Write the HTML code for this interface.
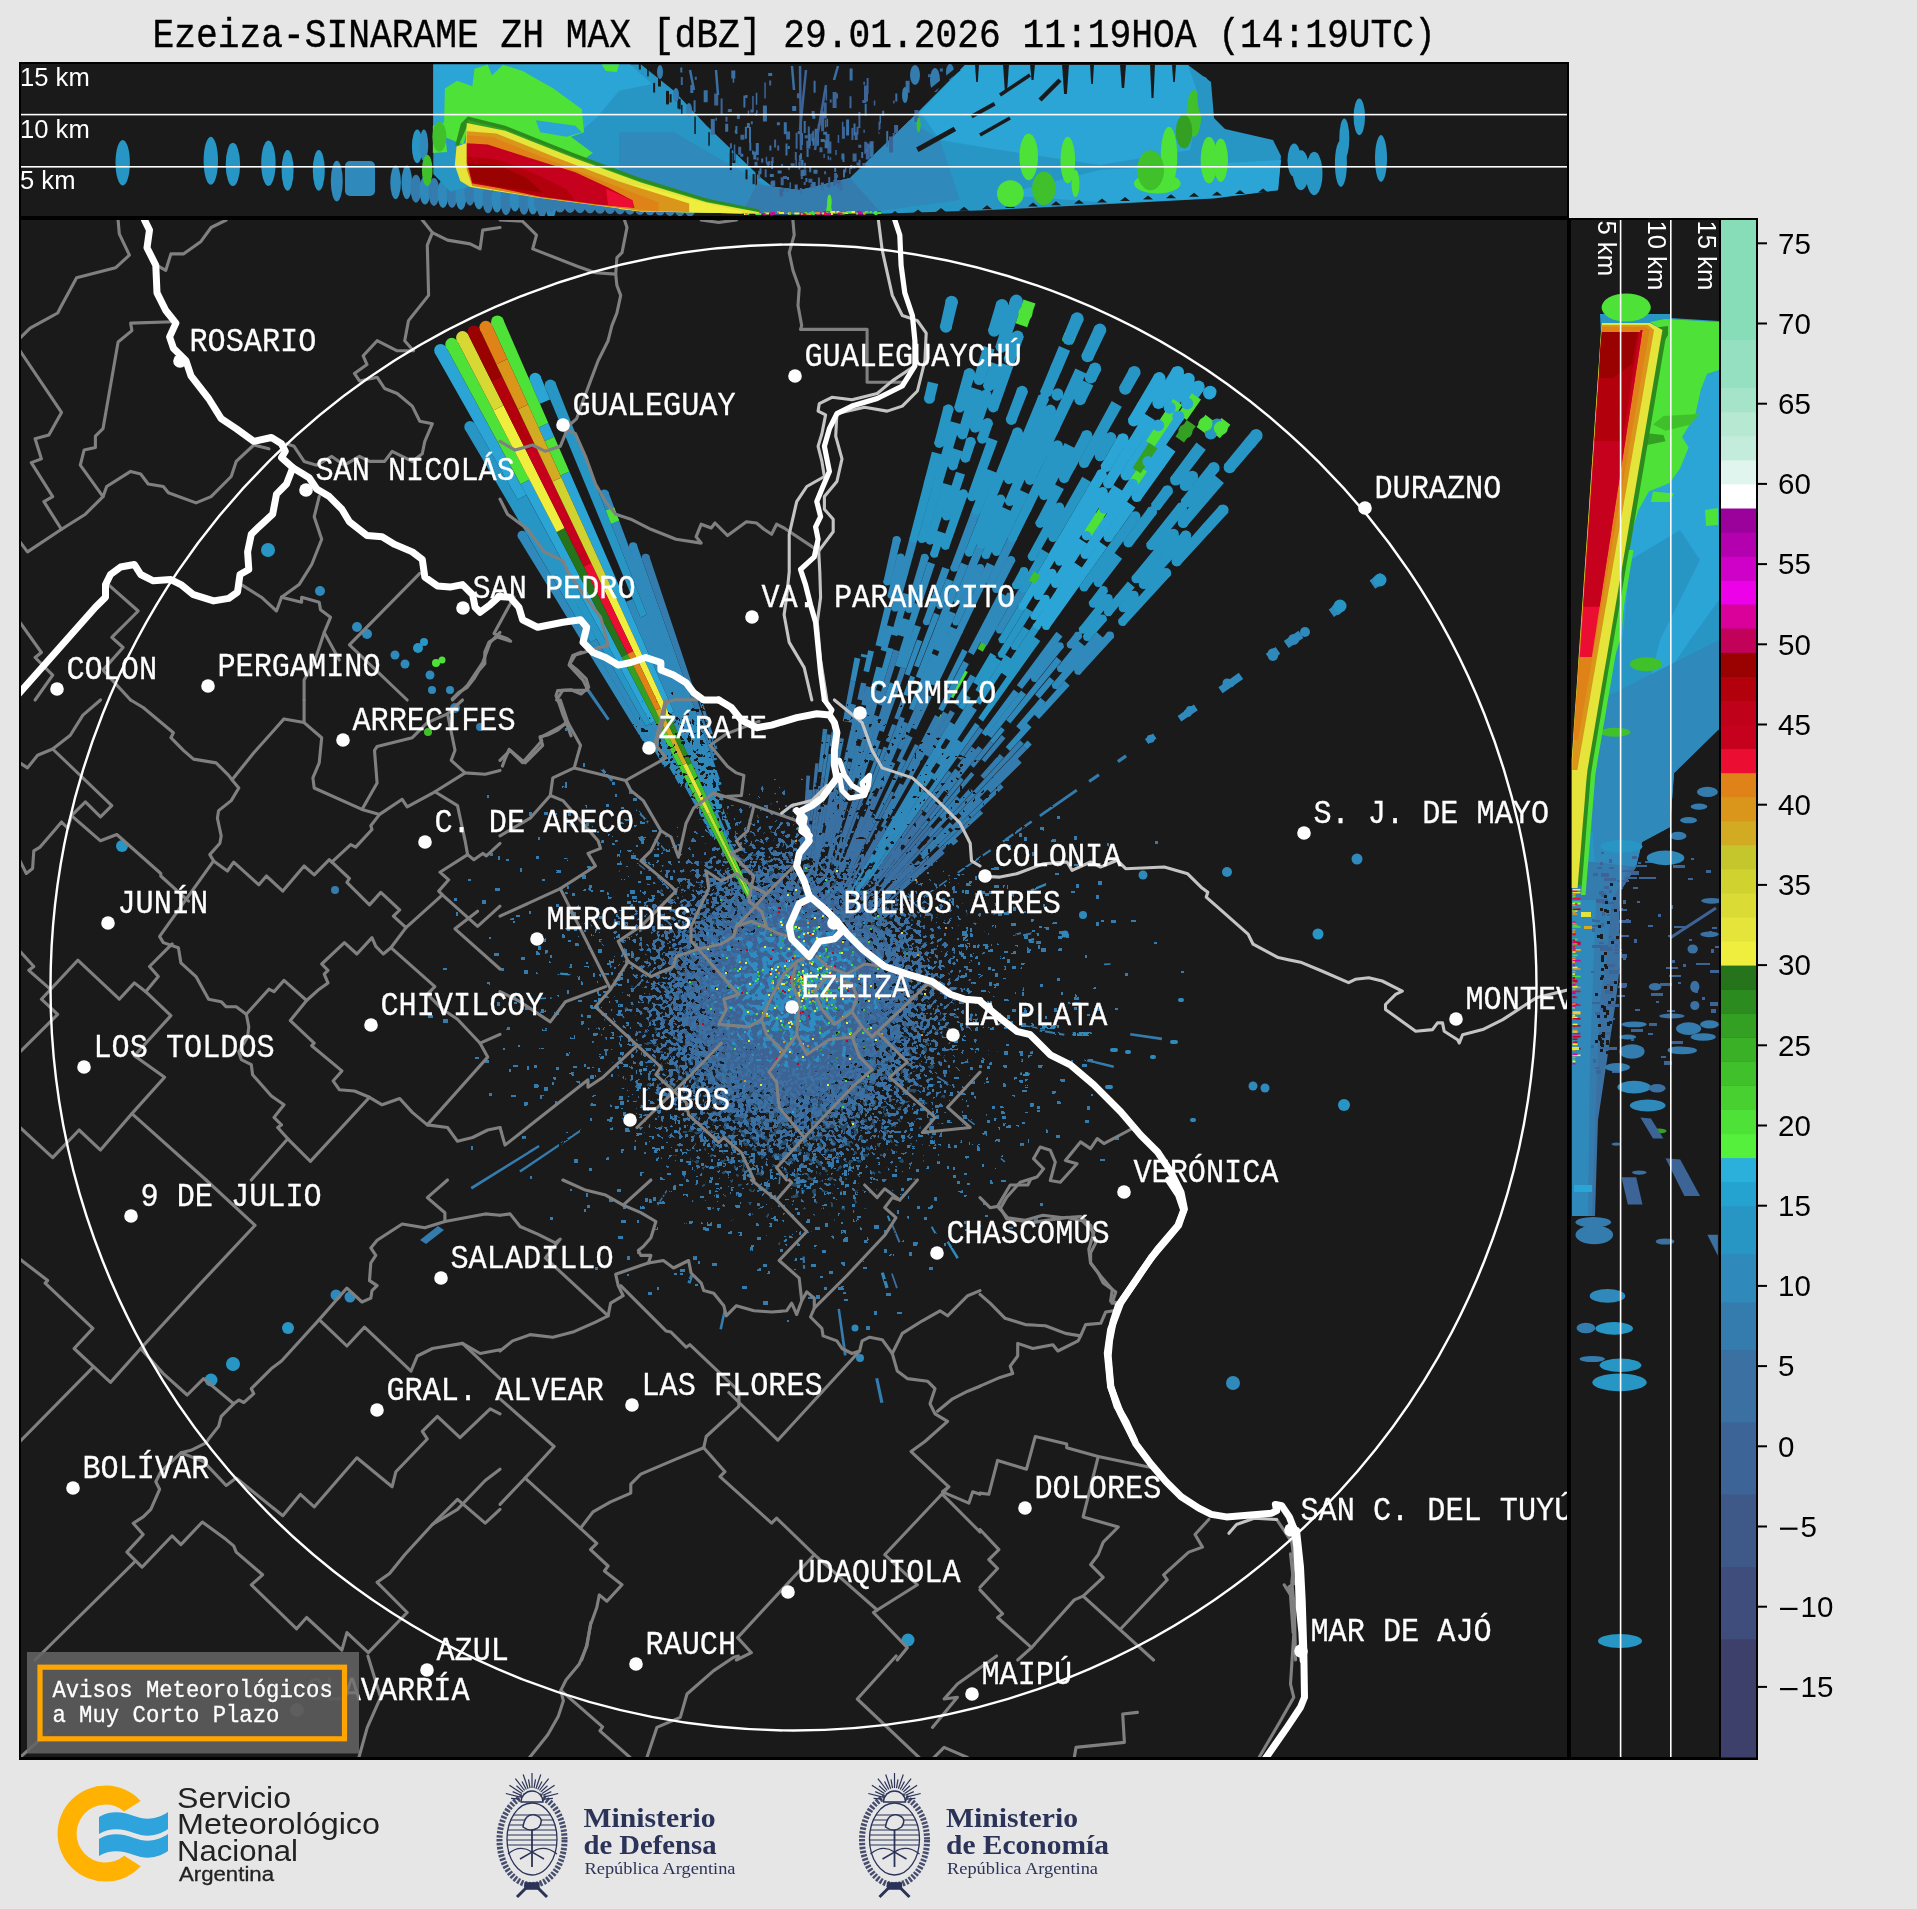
<!DOCTYPE html><html><head><meta charset="utf-8"><title>Radar</title><style>html,body{margin:0;padding:0;background:#e6e6e6}svg{display:block}text{white-space:pre}</style></head><body>
<svg width="1917" height="1909" viewBox="0 0 1917 1909">
<defs>
<clipPath id="cm"><rect x="21" y="220" width="1546" height="1537"/></clipPath>
<clipPath id="ct"><rect x="21" y="64" width="1546" height="152"/></clipPath>
<clipPath id="cr"><rect x="1571" y="220" width="148" height="1537"/></clipPath>

<radialGradient id="rg">
<stop offset="0" stop-color="#fff" stop-opacity="0.97"/><stop offset="0.25" stop-color="#fff" stop-opacity="0.9"/>
<stop offset="0.47" stop-color="#fff" stop-opacity="0.66"/><stop offset="0.69" stop-color="#fff" stop-opacity="0.42"/>
<stop offset="0.9" stop-color="#fff" stop-opacity="0.2"/><stop offset="1" stop-color="#fff" stop-opacity="0.04"/></radialGradient>
<radialGradient id="rh2">
<stop offset="0" stop-color="#fff" stop-opacity="0"/><stop offset="0.2" stop-color="#fff" stop-opacity="0.1"/>
<stop offset="0.5" stop-color="#fff" stop-opacity="0.3"/><stop offset="0.8" stop-color="#fff" stop-opacity="0.33"/>
<stop offset="1" stop-color="#fff" stop-opacity="0"/></radialGradient>
<radialGradient id="rh">
<stop offset="0" stop-color="#fff" stop-opacity="0"/><stop offset="0.18" stop-color="#fff" stop-opacity="0.12"/>
<stop offset="0.42" stop-color="#fff" stop-opacity="0.36"/><stop offset="0.65" stop-color="#fff" stop-opacity="0.5"/>
<stop offset="0.85" stop-color="#fff" stop-opacity="0.4"/><stop offset="1" stop-color="#fff" stop-opacity="0"/></radialGradient>
<filter id="sp1" x="0" y="0" width="100%" height="100%" color-interpolation-filters="sRGB"><feTurbulence type="fractalNoise" baseFrequency="0.23" numOctaves="1" seed="7" result="n"/><feColorMatrix in="n" type="matrix" values="0 0 0 0 0  0 0 0 0 0  0 0 0 0 0  1.6 0 0 0 -0.3" result="na"/><feComposite in="SourceGraphic" in2="na" operator="arithmetic" k1="0" k2="1" k3="1" k4="-1.0" result="s"/><feColorMatrix in="s" type="matrix" values="0 0 0 0 0.231  0 0 0 0 0.439  0 0 0 0 0.639  0 0 0 40 -2"/></filter><filter id="sp2" x="0" y="0" width="100%" height="100%" color-interpolation-filters="sRGB"><feTurbulence type="fractalNoise" baseFrequency="0.19" numOctaves="1" seed="23" result="n"/><feColorMatrix in="n" type="matrix" values="0 0 0 0 0  0 0 0 0 0  0 0 0 0 0  0 1.6 0 0 -0.3" result="na"/><feComposite in="SourceGraphic" in2="na" operator="arithmetic" k1="0" k2="1" k3="1" k4="-1.34" result="s"/><feColorMatrix in="s" type="matrix" values="0 0 0 0 0.184  0 0 0 0 0.549  0 0 0 0 0.753  0 0 0 40 -2"/></filter><filter id="sp3" x="0" y="0" width="100%" height="100%" color-interpolation-filters="sRGB"><feTurbulence type="fractalNoise" baseFrequency="0.26" numOctaves="1" seed="51" result="n"/><feColorMatrix in="n" type="matrix" values="0 0 0 0 0  0 0 0 0 0  0 0 0 0 0  0 0 1.6 0 -0.3" result="na"/><feComposite in="SourceGraphic" in2="na" operator="arithmetic" k1="0" k2="1" k3="1" k4="-1.2" result="s"/><feColorMatrix in="s" type="matrix" values="0 0 0 0 0.239  0 0 0 0 0.384  0 0 0 0 0.580  0 0 0 40 -2"/></filter><filter id="sp4" x="0" y="0" width="100%" height="100%" color-interpolation-filters="sRGB"><feTurbulence type="fractalNoise" baseFrequency="0.24" numOctaves="1" seed="77" result="n"/><feColorMatrix in="n" type="matrix" values="0 0 0 0 0  0 0 0 0 0  0 0 0 0 0  1.6 0 0 0 -0.3" result="na"/><feComposite in="SourceGraphic" in2="na" operator="arithmetic" k1="0" k2="1" k3="1" k4="-1.06" result="s"/><feColorMatrix in="s" type="matrix" values="0 0 0 0 0.102  0 0 0 0 0.102  0 0 0 0 0.102  0 0 0 40 -2"/></filter><filter id="sp5" x="0" y="0" width="100%" height="100%" color-interpolation-filters="sRGB"><feTurbulence type="fractalNoise" baseFrequency="0.17" numOctaves="1" seed="91" result="n"/><feColorMatrix in="n" type="matrix" values="0 0 0 0 0  0 0 0 0 0  0 0 0 0 0  0 1.6 0 0 -0.3" result="na"/><feComposite in="SourceGraphic" in2="na" operator="arithmetic" k1="0" k2="1" k3="1" k4="-1.25" result="s"/><feColorMatrix in="s" type="matrix" values="0 0 0 0 0.208  0 0 0 0 0.486  0 0 0 0 0.682  0 0 0 40 -2"/></filter><filter id="sp6" x="0" y="0" width="100%" height="100%" color-interpolation-filters="sRGB"><feTurbulence type="fractalNoise" baseFrequency="0.22" numOctaves="1" seed="133" result="n"/><feColorMatrix in="n" type="matrix" values="0 0 0 0 0  0 0 0 0 0  0 0 0 0 0  0 0 1.6 0 -0.3" result="na"/><feComposite in="SourceGraphic" in2="na" operator="arithmetic" k1="0" k2="1" k3="1" k4="-1.06" result="s"/><feColorMatrix in="s" type="matrix" values="0 0 0 0 0.102  0 0 0 0 0.102  0 0 0 0 0.102  0 0 0 40 -2"/></filter>
</defs>
<rect width="1917" height="1909" fill="#e6e6e6"/>
<g opacity="0.9999">
<rect x="19" y="62" width="1550" height="1698" fill="#000"/>
<rect x="1569" y="218" width="189" height="1542" fill="#000"/>
<rect x="21" y="64" width="1546" height="152" fill="#1a1a1a"/>
<rect x="21" y="220" width="1546" height="1537" fill="#1a1a1a"/>
<rect x="1571" y="220" width="148" height="1537" fill="#1a1a1a"/>
<g opacity="0.999"><text transform="translate(152.4,47.0) scale(0.9103,1)" font-family="Liberation Mono,monospace" font-size="39.84" fill="#000" stroke="#000" stroke-width="0.40" text-anchor="start">Ezeiza-SINARAME ZH MAX [dBZ] 29.01.2026 11:19HOA (14:19UTC)</text></g>
<g clip-path="url(#ct)">
<ellipse cx="122.7" cy="162.7" rx="7.2" ry="22.8" fill="#2896c5"/>
<ellipse cx="210.8" cy="160.8" rx="7.2" ry="24.0" fill="#2896c5"/>
<ellipse cx="232.9" cy="164.4" rx="7.2" ry="21.6" fill="#2896c5"/>
<ellipse cx="268.4" cy="163.2" rx="7.2" ry="22.8" fill="#2896c5"/>
<ellipse cx="287.6" cy="170.4" rx="6.0" ry="20.4" fill="#2896c5"/>
<ellipse cx="318.8" cy="170.4" rx="6.0" ry="20.4" fill="#2896c5"/>
<ellipse cx="336.8" cy="181.2" rx="6.0" ry="20.4" fill="#2f89bb"/>
<ellipse cx="395.6" cy="182.4" rx="5.3" ry="16.8" fill="#2f89bb"/>
<ellipse cx="406.8" cy="182.4" rx="5.3" ry="16.8" fill="#2f89bb"/>
<ellipse cx="417.2" cy="146.4" rx="5.3" ry="16.8" fill="#2896c5"/>
<ellipse cx="423.9" cy="145.2" rx="4.3" ry="15.6" fill="#2f89bb"/>
<rect x="345" y="161" width="30" height="35" rx="5" fill="#2f89bb"/>
<ellipse cx="416.0" cy="188.7" rx="5.5" ry="14.0" fill="#357cae"/>
<ellipse cx="425.0" cy="190.5" rx="5.5" ry="14.0" fill="#2f89bb"/>
<ellipse cx="434.0" cy="191.9" rx="5.5" ry="14.0" fill="#357cae"/>
<ellipse cx="443.0" cy="193.9" rx="5.5" ry="14.0" fill="#2f89bb"/>
<ellipse cx="452.0" cy="193.8" rx="5.5" ry="14.0" fill="#357cae"/>
<ellipse cx="461.0" cy="195.9" rx="5.5" ry="14.0" fill="#2f89bb"/>
<ellipse cx="470.0" cy="191.7" rx="5.5" ry="14.0" fill="#357cae"/>
<ellipse cx="479.0" cy="195.4" rx="5.5" ry="14.0" fill="#2f89bb"/>
<ellipse cx="488.0" cy="199.3" rx="5.5" ry="14.0" fill="#357cae"/>
<ellipse cx="497.0" cy="198.6" rx="5.5" ry="14.0" fill="#2f89bb"/>
<ellipse cx="506.0" cy="201.2" rx="5.5" ry="14.0" fill="#357cae"/>
<ellipse cx="515.0" cy="197.6" rx="5.5" ry="14.0" fill="#2f89bb"/>
<ellipse cx="524.0" cy="200.8" rx="5.5" ry="14.0" fill="#357cae"/>
<ellipse cx="533.0" cy="200.5" rx="5.5" ry="14.0" fill="#2f89bb"/>
<ellipse cx="542.0" cy="203.4" rx="5.5" ry="14.0" fill="#357cae"/>
<ellipse cx="551.0" cy="204.6" rx="5.5" ry="14.0" fill="#2f89bb"/>
<ellipse cx="540.0" cy="203.0" rx="6.0" ry="9.0" fill="#357cae"/>
<ellipse cx="550.0" cy="203.3" rx="6.0" ry="9.0" fill="#357cae"/>
<ellipse cx="560.0" cy="203.6" rx="6.0" ry="9.0" fill="#357cae"/>
<ellipse cx="570.0" cy="203.9" rx="6.0" ry="9.0" fill="#357cae"/>
<ellipse cx="580.0" cy="204.2" rx="6.0" ry="9.0" fill="#357cae"/>
<ellipse cx="590.0" cy="204.5" rx="6.0" ry="9.0" fill="#357cae"/>
<ellipse cx="600.0" cy="204.8" rx="6.0" ry="9.0" fill="#357cae"/>
<ellipse cx="610.0" cy="205.1" rx="6.0" ry="9.0" fill="#357cae"/>
<ellipse cx="620.0" cy="205.4" rx="6.0" ry="9.0" fill="#357cae"/>
<ellipse cx="630.0" cy="205.7" rx="6.0" ry="9.0" fill="#357cae"/>
<ellipse cx="640.0" cy="206.0" rx="6.0" ry="9.0" fill="#357cae"/>
<ellipse cx="650.0" cy="206.3" rx="6.0" ry="9.0" fill="#357cae"/>
<ellipse cx="660.0" cy="206.6" rx="6.0" ry="9.0" fill="#357cae"/>
<ellipse cx="670.0" cy="206.9" rx="6.0" ry="9.0" fill="#357cae"/>
<ellipse cx="680.0" cy="207.2" rx="6.0" ry="9.0" fill="#357cae"/>
<ellipse cx="690.0" cy="207.5" rx="6.0" ry="9.0" fill="#357cae"/>
<polygon points="433.3,64.4 641.0,64.4 673.9,90.7 706.7,125.7 761.5,178.3 790.0,200.2 816.3,209.0 820.0,213.4 741.8,213.4 641.0,211.2 597.2,205.0 540.2,197.6 470.1,186.6 450.4,191.5 433.3,173.9" fill="#2896c5"/>
<polygon points="433.3,64.4 630.1,64.4 652.0,84.1 619.1,90.7 597.2,117.0 579.7,132.3 433.3,132.3" fill="#2aa5d6"/>
<polygon points="619.1,132.3 673.9,132.3 761.5,182.7 772.5,211.2 741.8,213.4 684.8,200.2 619.1,173.9" fill="#2f89bb"/>
<rect x="638.8" y="61.6" width="2.0" height="7.9" fill="#1a1a1a"/>
<rect x="733.5" y="150.2" width="1.5" height="7.6" fill="#1a1a1a"/>
<rect x="755.6" y="168.9" width="1.5" height="16.5" fill="#1a1a1a"/>
<rect x="666.0" y="90.9" width="3.0" height="13.5" fill="#1a1a1a"/>
<rect x="653.1" y="82.9" width="2.0" height="9.6" fill="#1a1a1a"/>
<rect x="681.0" y="104.9" width="1.5" height="10.0" fill="#1a1a1a"/>
<rect x="732.4" y="152.9" width="3.0" height="10.1" fill="#1a1a1a"/>
<rect x="669.6" y="94.2" width="2.0" height="8.2" fill="#1a1a1a"/>
<rect x="694.3" y="116.6" width="1.5" height="17.4" fill="#1a1a1a"/>
<rect x="678.7" y="98.9" width="2.0" height="10.4" fill="#1a1a1a"/>
<rect x="708.3" y="132.2" width="1.5" height="13.5" fill="#1a1a1a"/>
<rect x="752.6" y="174.1" width="2.0" height="10.1" fill="#1a1a1a"/>
<rect x="677.4" y="95.4" width="1.5" height="13.1" fill="#1a1a1a"/>
<rect x="729.8" y="152.8" width="2.0" height="17.3" fill="#1a1a1a"/>
<rect x="647.2" y="66.3" width="1.5" height="10.1" fill="#1a1a1a"/>
<rect x="745.5" y="169.6" width="2.0" height="9.7" fill="#1a1a1a"/>
<rect x="729.8" y="149.0" width="2.0" height="18.0" fill="#1a1a1a"/>
<rect x="658.0" y="69.4" width="3.0" height="17.1" fill="#1a1a1a"/>
<ellipse cx="427.2" cy="170.4" rx="5.3" ry="15.6" fill="#40c12b"/>
<polygon points="443.8,134.5 444.9,88.5 457.0,80.8 472.3,86.3 474.5,68.8 487.6,64.4 492.0,75.3 503.0,64.8 522.7,71.0 553.4,88.5 581.9,109.3 584.0,132.3 570.9,136.7 592.8,153.1 581.9,160.8 540.2,140.0 505.2,128.4 470.1,118.7 463.5,144.4 443.8,136.7" fill="#4ee137"/>
<polygon points="432.9,125.7 443.8,122.4 447.1,152.0 432.9,153.1" fill="#4ee137"/>
<ellipse cx="439.4" cy="136.7" rx="7.0" ry="15.0" fill="#40c12b"/>
<polygon points="601.6,64.4 619.1,64.4 616.9,72.1 606.0,71.0" fill="#4ee137"/>
<polygon points="535.8,120.3 575.3,125.7 581.9,132.3 566.5,136.7 540.2,132.3" fill="#2aa5d6"/>
<polygon points="772.0,214.5 880.0,213.8 985.0,210.3 1114.0,203.8 1214.0,198.6 1278.0,190.2 1281.0,156.0 1273.0,140.0 1225.0,129.0 1214.0,118.0 1211.0,82.0 1188.0,65.0 965.0,65.0 910.0,120.0 850.0,178.0 800.0,190.0 765.0,186.0" fill="#2896c5"/>
<polygon points="965.0,65.0 1188.0,65.0 1200.0,100.0 1190.0,150.0 1100.0,165.0 1000.0,150.0 940.0,140.0 920.0,112.0" fill="#2aa5d6"/>
<polygon points="765.0,186.0 800.0,190.0 850.0,178.0 910.0,120.0 940.0,140.0 960.0,200.0 880.0,211.0 772.0,214.0" fill="#2f89bb"/>
<polygon points="1100.0,170.0 1281.0,160.0 1278.0,190.0 1214.0,198.0 1114.0,203.0 1000.0,195.0" fill="#2aa5d6"/>
<polygon points="742.0,213.0 757.0,184.0 770.0,186.0 800.0,190.0 850.0,178.0 880.0,212.0" fill="#357cae"/>
<path d="M858.5 159.7h2v8h-2zM798.4 161.5h2v8h-2zM812.3 130.7h2v12h-2zM821.5 185.5h2v3h-2zM810.5 183.8h2v4h-2zM826.7 184.6h4v3h-4zM827.4 141.5h4v12h-4zM795.4 159.5h1.5v8h-1.5zM808.4 178.7h4v4h-4zM765.7 156.8h1.5v6h-1.5zM853.4 165.4h2v3h-2zM829.7 157.3h1.5v3h-1.5zM750.8 121.2h2v3h-2zM864.0 85.4h4v16h-4zM803.7 181.9h2v3h-2zM768.4 160.9h2v4h-2zM769.2 80.4h2v5h-2zM862.3 100.0h4v3h-4zM789.5 182.3h1.5v6h-1.5zM800.8 175.1h2v4h-2zM844.8 166.5h1.5v6h-1.5zM790.6 163.2h4v3h-4zM863.4 129.8h1.5v3h-1.5zM820.4 113.6h3v12h-3zM823.4 154.1h1.5v4h-1.5zM821.1 115.3h3v16h-3zM725.5 116.7h2v5h-2zM680.8 77.0h2v8h-2zM820.3 111.3h4v8h-4zM756.6 157.5h2v3h-2zM766.2 161.7h4v3h-4zM824.8 119.4h1.5v8h-1.5zM835.3 150.0h1.5v5h-1.5zM804.7 135.3h3v3h-3zM856.5 126.8h2v8h-2zM841.9 121.7h1.5v12h-1.5zM817.9 177.4h2v8h-2zM866.6 77.9h2v16h-2zM750.5 109.6h3v3h-3zM858.4 112.0h2v16h-2zM849.5 96.2h2v12h-2zM727.8 108.9h4v3h-4zM893.1 100.5h1.5v3h-1.5zM854.7 131.9h3v8h-3zM720.6 98.5h2v16h-2zM832.6 92.1h4v16h-4zM914.4 110.1h4v12h-4zM894.1 125.0h4v8h-4zM782.4 188.5h2v3h-2zM944.1 79.6h2v3h-2zM738.2 146.7h3v8h-3zM878.5 121.7h2v12h-2zM758.2 170.7h2v8h-2zM747.7 110.4h1.5v5h-1.5zM833.3 180.1h2v6h-2zM796.9 93.3h4v5h-4zM829.7 99.6h2v3h-2zM802.4 169.5h4v6h-4zM795.6 132.7h2v16h-2zM825.6 88.5h1.5v12h-1.5zM733.8 144.6h1.5v16h-1.5zM774.1 139.4h2v8h-2zM828.2 176.9h2v8h-2zM823.7 102.4h3v16h-3zM851.4 128.0h2v12h-2zM764.3 82.6h1.5v16h-1.5zM714.2 93.5h4v12h-4zM803.9 162.8h2v6h-2zM811.6 111.0h3v5h-3zM798.9 155.0h2v6h-2zM752.2 96.1h1.5v16h-1.5zM777.2 145.5h2v5h-2zM889.0 136.5h4v16h-4zM836.5 93.5h1.5v5h-1.5zM807.8 126.6h2v16h-2zM779.7 188.6h3v8h-3zM783.0 176.1h4v3h-4zM862.4 162.9h3v3h-3zM819.5 147.2h3v5h-3zM858.3 144.7h3v3h-3zM715.5 117.7h1.5v3h-1.5zM764.7 169.2h2v8h-2zM865.8 143.6h4v16h-4zM825.5 134.0h4v12h-4zM729.9 143.2h2v5h-2zM767.2 162.4h2v4h-2zM754.5 161.7h3v4h-3zM928.0 74.3h4v3h-4zM786.1 131.6h4v8h-4zM824.1 171.2h2v3h-2zM852.6 153.4h4v8h-4zM856.5 162.5h4v3h-4zM892.7 132.9h2v3h-2zM836.8 180.0h4v6h-4zM816.0 133.8h3v12h-3zM939.9 68.4h3v3h-3zM864.2 141.7h3v12h-3zM806.2 140.7h4v8h-4zM827.6 155.8h1.5v4h-1.5zM794.8 152.0h2v8h-2zM736.9 114.0h3v5h-3zM834.1 179.3h3v4h-3zM931.8 80.8h2v8h-2zM837.7 134.9h1.5v8h-1.5zM740.4 134.8h4v5h-4zM780.7 177.2h3v8h-3zM694.8 76.8h2v3h-2zM873.8 100.4h1.5v5h-1.5zM834.1 173.1h3v8h-3zM836.1 174.8h2v3h-2zM849.1 168.1h1.5v6h-1.5zM823.8 106.5h1.5v8h-1.5zM781.1 163.9h2v3h-2zM771.6 157.1h2v6h-2zM859.2 166.1h2v3h-2zM841.9 126.8h3v12h-3z" fill="#3d6496"/>
<path d="M850.3 165.0h2v4h-2zM811.3 133.1h1.5v8h-1.5zM806.6 148.9h2v8h-2zM811.7 182.0h4v6h-4zM787.8 145.9h2v3h-2zM801.0 133.1h2v12h-2zM800.0 153.2h2v6h-2zM743.4 95.6h2v12h-2zM725.2 123.8h3v8h-3zM842.5 156.1h2v6h-2zM905.6 80.7h4v12h-4zM853.5 123.5h2v12h-2zM732.7 74.7h1.5v8h-1.5zM768.2 73.1h4v3h-4zM800.5 159.8h3v6h-3zM866.0 148.9h2v3h-2zM746.9 123.0h3v5h-3zM703.7 90.3h4v12h-4zM868.5 144.7h2v3h-2zM846.1 119.6h3v16h-3zM813.6 80.7h2v12h-2zM735.4 126.1h2v8h-2zM788.2 166.9h1.5v3h-1.5zM762.9 105.6h4v16h-4zM761.2 158.6h2v4h-2zM826.6 118.7h1.5v8h-1.5zM770.5 181.7h2v4h-2zM849.6 68.5h3v12h-3zM771.2 180.5h4v6h-4zM787.0 177.1h2v3h-2zM812.3 113.7h3v5h-3zM776.9 122.2h3v3h-3zM690.3 85.1h3v8h-3zM800.6 170.1h4v6h-4zM817.7 124.3h2v5h-2zM869.6 141.2h4v16h-4zM734.8 130.1h2v3h-2zM693.6 100.3h2v12h-2zM879.5 115.3h1.5v8h-1.5zM752.0 150.4h1.5v4h-1.5zM814.7 128.7h4v16h-4zM753.3 151.4h3v8h-3zM749.3 142.7h2v8h-2zM755.8 143.1h3v12h-3zM864.7 103.7h2v12h-2zM769.4 145.5h2v5h-2zM843.0 169.6h2v8h-2zM813.5 169.7h4v4h-4zM839.4 182.9h3v8h-3zM863.4 81.7h1.5v3h-1.5zM786.1 188.7h2v4h-2zM749.0 127.0h2v16h-2zM740.3 153.8h3v3h-3zM841.4 153.5h3v6h-3zM805.4 177.9h2v4h-2zM755.5 113.1h1.5v3h-1.5zM769.8 174.1h4v3h-4zM895.3 93.5h2v8h-2zM755.8 92.7h1.5v12h-1.5zM771.1 161.0h2v8h-2zM824.6 140.2h4v8h-4zM759.5 168.2h2v6h-2zM803.7 120.9h2v12h-2zM882.2 110.8h2v5h-2zM792.2 106.0h4v5h-4zM783.8 122.3h3v12h-3zM745.5 94.9h2v3h-2zM744.9 126.7h2v12h-2zM710.8 119.1h4v16h-4zM886.2 131.1h2v16h-2zM809.2 166.2h2v6h-2zM808.8 134.0h2v12h-2zM785.5 143.6h2v12h-2zM797.8 130.9h3v3h-3zM812.5 137.7h2v8h-2zM820.9 182.5h3v8h-3zM820.7 138.9h4v3h-4zM799.8 187.9h2v6h-2zM756.1 110.2h1.5v3h-1.5zM837.2 183.9h2v4h-2zM777.6 170.5h4v3h-4zM794.7 184.4h3v6h-3zM731.3 70.4h4v8h-4zM834.2 168.0h2v4h-2zM746.9 156.8h1.5v8h-1.5zM823.2 131.8h4v3h-4zM680.3 67.6h2v5h-2zM861.2 152.0h2v6h-2z" fill="#3b70a3"/>
<line x1="800.0" y1="66.0" x2="801.0" y2="150.0" stroke="#3d6496" stroke-width="2.5"/>
<line x1="806.0" y1="70.0" x2="800.0" y2="130.0" stroke="#3d6496" stroke-width="2.5"/>
<line x1="826.0" y1="85.0" x2="815.0" y2="150.0" stroke="#3d6496" stroke-width="2.5"/>
<line x1="690.0" y1="70.0" x2="694.0" y2="90.0" stroke="#3b70a3" stroke-width="2.5"/>
<line x1="716.0" y1="70.0" x2="718.0" y2="95.0" stroke="#3b70a3" stroke-width="2.5"/>
<line x1="792.0" y1="66.0" x2="794.0" y2="90.0" stroke="#3b70a3" stroke-width="2.5"/>
<line x1="838.0" y1="66.0" x2="834.0" y2="80.0" stroke="#3b70a3" stroke-width="2.5"/>
<ellipse cx="915.0" cy="75.0" rx="5.0" ry="10.0" fill="#357cae"/>
<ellipse cx="935.0" cy="80.0" rx="5.0" ry="12.0" fill="#357cae"/>
<ellipse cx="950.0" cy="72.0" rx="4.0" ry="8.0" fill="#357cae"/>
<ellipse cx="905.0" cy="95.0" rx="3.0" ry="8.0" fill="#357cae"/>
<ellipse cx="660.0" cy="72.0" rx="3.0" ry="7.0" fill="#357cae"/>
<ellipse cx="676.0" cy="95.0" rx="3.0" ry="7.0" fill="#357cae"/>
<ellipse cx="689.0" cy="110.0" rx="3.0" ry="7.0" fill="#357cae"/>
<line x1="879.7" y1="133.0" x2="959.0" y2="68.4" stroke="#1a1a1a" stroke-width="5.0"/>
<line x1="917.3" y1="149.8" x2="954.9" y2="128.9" stroke="#1a1a1a" stroke-width="5.0"/>
<line x1="971.6" y1="116.4" x2="994.6" y2="103.8" stroke="#1a1a1a" stroke-width="4.0"/>
<line x1="1000.0" y1="95.0" x2="1030.0" y2="75.0" stroke="#1a1a1a" stroke-width="3.5"/>
<line x1="980.0" y1="135.0" x2="1010.0" y2="118.0" stroke="#1a1a1a" stroke-width="3.5"/>
<line x1="1040.0" y1="100.0" x2="1060.0" y2="80.0" stroke="#1a1a1a" stroke-width="4.5"/>
<polygon points="975.0,64.0 979.0,64.0 977.8,82.0 976.2,82.0" fill="#1a1a1a"/>
<polygon points="1003.0,64.0 1009.0,64.0 1007.2,90.0 1004.8,90.0" fill="#1a1a1a"/>
<polygon points="1030.0,64.0 1035.0,64.0 1033.5,80.0 1031.5,80.0" fill="#1a1a1a"/>
<polygon points="1062.0,64.0 1069.0,64.0 1066.9,94.0 1064.1,94.0" fill="#1a1a1a"/>
<polygon points="1090.0,64.0 1094.0,64.0 1092.8,84.0 1091.2,84.0" fill="#1a1a1a"/>
<polygon points="1120.0,64.0 1126.0,64.0 1124.2,88.0 1121.8,88.0" fill="#1a1a1a"/>
<polygon points="1150.0,64.0 1155.0,64.0 1153.5,98.0 1151.5,98.0" fill="#1a1a1a"/>
<polygon points="1172.0,64.0 1176.0,64.0 1174.8,82.0 1173.2,82.0" fill="#1a1a1a"/>
<polygon points="890.0,214.9 895.0,210.9 900.0,214.9" fill="#1a1a1a"/>
<polygon points="913.0,213.5 918.0,209.5 923.0,213.5" fill="#1a1a1a"/>
<polygon points="936.0,212.1 941.0,208.1 946.0,212.1" fill="#1a1a1a"/>
<polygon points="959.0,210.7 964.0,206.7 969.0,210.7" fill="#1a1a1a"/>
<polygon points="982.0,209.3 987.0,205.3 992.0,209.3" fill="#1a1a1a"/>
<polygon points="1005.0,207.9 1010.0,203.9 1015.0,207.9" fill="#1a1a1a"/>
<polygon points="1028.0,206.5 1033.0,202.5 1038.0,206.5" fill="#1a1a1a"/>
<polygon points="1051.0,205.2 1056.0,201.2 1061.0,205.2" fill="#1a1a1a"/>
<polygon points="1074.0,203.8 1079.0,199.8 1084.0,203.8" fill="#1a1a1a"/>
<polygon points="1097.0,202.4 1102.0,198.4 1107.0,202.4" fill="#1a1a1a"/>
<polygon points="1120.0,201.0 1125.0,197.0 1130.0,201.0" fill="#1a1a1a"/>
<polygon points="1143.0,199.6 1148.0,195.6 1153.0,199.6" fill="#1a1a1a"/>
<polygon points="1166.0,198.2 1171.0,194.2 1176.0,198.2" fill="#1a1a1a"/>
<polygon points="1189.0,196.8 1194.0,192.8 1199.0,196.8" fill="#1a1a1a"/>
<polygon points="1212.0,195.4 1217.0,191.4 1222.0,195.4" fill="#1a1a1a"/>
<polygon points="1235.0,194.0 1240.0,190.0 1245.0,194.0" fill="#1a1a1a"/>
<polygon points="1258.0,192.6 1263.0,188.6 1268.0,192.6" fill="#1a1a1a"/>
<ellipse cx="1028.7" cy="156.8" rx="9.3" ry="23.4" fill="#4ee137"/>
<ellipse cx="1067.8" cy="160.2" rx="7.3" ry="23.4" fill="#4ee137"/>
<ellipse cx="1010.4" cy="193.6" rx="13.4" ry="13.4" fill="#4ee137"/>
<ellipse cx="1043.8" cy="188.5" rx="11.7" ry="16.7" fill="#40c12b"/>
<ellipse cx="1075.5" cy="183.5" rx="4.0" ry="13.4" fill="#4ee137"/>
<ellipse cx="1157.3" cy="183.5" rx="23.4" ry="10.0" fill="#4ee137"/>
<ellipse cx="1169.0" cy="156.8" rx="8.3" ry="30.1" fill="#4ee137"/>
<ellipse cx="1150.6" cy="170.2" rx="13.4" ry="20.0" fill="#40c12b"/>
<ellipse cx="1194.0" cy="113.4" rx="7.3" ry="23.4" fill="#40c12b"/>
<ellipse cx="1184.0" cy="131.8" rx="8.3" ry="16.7" fill="#33a023"/>
<ellipse cx="1209.0" cy="160.2" rx="8.3" ry="23.4" fill="#4ee137"/>
<ellipse cx="1220.7" cy="160.2" rx="7.3" ry="21.7" fill="#4ee137"/>
<ellipse cx="918.6" cy="125.1" rx="2.0" ry="7.3" fill="#40c12b"/>
<ellipse cx="829.4" cy="201.9" rx="2.3" ry="7.3" fill="#4ee137"/>
<ellipse cx="1359.3" cy="116.8" rx="5.7" ry="18.4" fill="#2896c5"/>
<ellipse cx="1344.3" cy="138.5" rx="5.0" ry="20.0" fill="#2896c5"/>
<ellipse cx="1340.9" cy="163.5" rx="6.0" ry="23.4" fill="#2896c5"/>
<ellipse cx="1381.0" cy="158.5" rx="6.0" ry="23.4" fill="#2896c5"/>
<ellipse cx="1300.9" cy="170.2" rx="8.3" ry="20.0" fill="#2896c5"/>
<ellipse cx="1314.2" cy="173.5" rx="8.3" ry="21.7" fill="#2896c5"/>
<ellipse cx="1204.0" cy="96.7" rx="6.7" ry="20.0" fill="#2896c5"/>
<ellipse cx="1294.2" cy="160.2" rx="6.7" ry="16.7" fill="#2896c5"/>
<rect x="863.4" y="212.5" width="2.0" height="2" fill="#e4e43a"/>
<rect x="744.1" y="213.0" width="5.0" height="2" fill="#4ee137"/>
<rect x="845.1" y="212.0" width="3.0" height="2" fill="#e4e43a"/>
<rect x="857.1" y="211.0" width="3.0" height="2" fill="#d9009a"/>
<rect x="744.0" y="213.0" width="3.0" height="2" fill="#efee3e"/>
<rect x="824.3" y="213.0" width="3.0" height="2" fill="#4ee137"/>
<rect x="869.8" y="211.0" width="2.0" height="2" fill="#4ee137"/>
<rect x="823.4" y="211.0" width="3.0" height="2" fill="#d9009a"/>
<rect x="822.2" y="212.5" width="2.0" height="2" fill="#efee3e"/>
<rect x="878.0" y="211.0" width="3.0" height="2" fill="#d9009a"/>
<rect x="811.1" y="212.5" width="2.0" height="2" fill="#4ee137"/>
<rect x="826.3" y="212.0" width="2.0" height="2" fill="#da961b"/>
<rect x="787.9" y="212.5" width="3.0" height="2" fill="#efee3e"/>
<rect x="806.3" y="213.0" width="5.0" height="2" fill="#da961b"/>
<rect x="839.7" y="212.0" width="5.0" height="2" fill="#e4e43a"/>
<rect x="789.1" y="212.5" width="2.0" height="2" fill="#4ee137"/>
<rect x="759.8" y="212.5" width="2.0" height="2" fill="#d9009a"/>
<rect x="816.7" y="212.5" width="3.0" height="2" fill="#e4e43a"/>
<rect x="858.4" y="211.0" width="3.0" height="2" fill="#d9009a"/>
<rect x="840.1" y="212.5" width="5.0" height="2" fill="#4ee137"/>
<rect x="813.1" y="212.5" width="2.0" height="2" fill="#4ee137"/>
<rect x="877.4" y="211.0" width="2.0" height="2" fill="#eb0d32"/>
<rect x="800.1" y="212.5" width="2.0" height="2" fill="#eb0d32"/>
<rect x="856.1" y="212.5" width="5.0" height="2" fill="#d9009a"/>
<rect x="816.0" y="212.0" width="5.0" height="2" fill="#d9009a"/>
<rect x="866.4" y="211.0" width="2.0" height="2" fill="#4ee137"/>
<rect x="757.7" y="213.0" width="2.0" height="2" fill="#e4e43a"/>
<rect x="804.2" y="212.0" width="3.0" height="2" fill="#4ee137"/>
<rect x="744.4" y="212.0" width="5.0" height="2" fill="#4ee137"/>
<rect x="811.7" y="211.0" width="2.0" height="2" fill="#4ee137"/>
<rect x="809.2" y="212.0" width="2.0" height="2" fill="#4ee137"/>
<rect x="850.2" y="211.0" width="3.0" height="2" fill="#4ee137"/>
<rect x="823.8" y="213.0" width="2.0" height="2" fill="#eb0d32"/>
<rect x="816.1" y="212.5" width="5.0" height="2" fill="#d9009a"/>
<rect x="874.2" y="211.0" width="3.0" height="2" fill="#4ee137"/>
<rect x="758.4" y="213.0" width="3.0" height="2" fill="#4ee137"/>
<rect x="830.3" y="211.0" width="5.0" height="2" fill="#efee3e"/>
<rect x="873.3" y="212.0" width="2.0" height="2" fill="#4ee137"/>
<rect x="860.8" y="212.5" width="2.0" height="2" fill="#d9009a"/>
<rect x="840.8" y="212.0" width="2.0" height="2" fill="#e4e43a"/>
<rect x="794.3" y="212.5" width="5.0" height="2" fill="#efee3e"/>
<rect x="801.4" y="213.0" width="2.0" height="2" fill="#e4e43a"/>
<rect x="863.3" y="212.5" width="2.0" height="2" fill="#da961b"/>
<rect x="850.0" y="211.0" width="5.0" height="2" fill="#efee3e"/>
<rect x="836.4" y="211.0" width="3.0" height="2" fill="#efee3e"/>
<rect x="837.6" y="212.5" width="5.0" height="2" fill="#d9009a"/>
<rect x="830.9" y="213.0" width="2.0" height="2" fill="#e4e43a"/>
<rect x="770.1" y="212.5" width="5.0" height="2" fill="#eb0d32"/>
<rect x="747.9" y="211.0" width="2.0" height="2" fill="#eb0d32"/>
<rect x="764.0" y="212.5" width="5.0" height="2" fill="#e4e43a"/>
<rect x="846.5" y="211.0" width="5.0" height="2" fill="#4ee137"/>
<rect x="771.7" y="212.0" width="3.0" height="2" fill="#d9009a"/>
<rect x="874.5" y="213.0" width="3.0" height="2" fill="#4ee137"/>
<rect x="755.4" y="213.0" width="5.0" height="2" fill="#4ee137"/>
<rect x="877.4" y="212.0" width="3.0" height="2" fill="#4ee137"/>
<rect x="815.1" y="212.0" width="5.0" height="2" fill="#da961b"/>
<rect x="864.9" y="211.0" width="2.0" height="2" fill="#4ee137"/>
<rect x="802.4" y="213.0" width="3.0" height="2" fill="#eb0d32"/>
<rect x="762.6" y="213.0" width="3.0" height="2" fill="#d9009a"/>
<rect x="777.0" y="211.0" width="3.0" height="2" fill="#da961b"/>
<rect x="746.8" y="211.0" width="2.0" height="2" fill="#4ee137"/>
<rect x="781.2" y="212.0" width="3.0" height="2" fill="#d9009a"/>
<rect x="769.8" y="213.0" width="3.0" height="2" fill="#d9009a"/>
<rect x="745.2" y="212.5" width="2.0" height="2" fill="#d9009a"/>
<rect x="856.0" y="212.5" width="2.0" height="2" fill="#4ee137"/>
<rect x="825.9" y="213.0" width="5.0" height="2" fill="#d9009a"/>
<rect x="779.0" y="212.0" width="5.0" height="2" fill="#e4e43a"/>
<rect x="788.9" y="212.0" width="2.0" height="2" fill="#da961b"/>
<rect x="877.9" y="212.0" width="3.0" height="2" fill="#4ee137"/>
<rect x="812.4" y="213.0" width="2.0" height="2" fill="#4ee137"/>
<polygon points="826.0,211.0 829.0,196.0 832.0,211.0" fill="#4ee137"/>
<polygon points="467.9,116.5 505.2,125.7 575.3,153.8 641.0,178.3 706.7,198.5 759.3,209.6 759.3,213.4 706.7,203.5 641.0,183.8 575.3,159.7 505.2,132.3 467.9,124.0 458.7,145.5 455.2,145.5 460.9,123.5" fill="#2c8b1e"/>
<polygon points="467.9,120.0 505.2,129.2 575.3,157.1 641.0,181.4 706.7,201.3 759.3,211.8 759.3,213.4 706.7,203.5 641.0,183.8 575.3,159.7 505.2,132.3 467.9,124.0" fill="#33a023"/>
<polygon points="466.8,123.1 505.2,130.8 575.3,158.4 641.0,182.5 706.7,202.2 759.3,212.3 759.3,213.8 641.0,211.6 597.2,205.5 540.2,198.0 470.1,187.1 460.3,180.9 454.8,165.2 456.5,146.5 465.7,143.3" fill="#e4e43a"/>
<polygon points="619.1,182.7 641.0,186.0 706.7,203.5 741.8,211.2 741.8,213.4 641.0,211.2 619.1,209.0" fill="#efee3e"/>
<polygon points="466.8,131.2 496.4,133.4 553.4,156.4 619.1,181.6 689.2,203.5 689.2,212.1 641.0,211.2 597.2,205.0 540.2,197.4 472.3,185.8 466.8,169.6" fill="#da961b"/>
<polygon points="466.8,135.6 492.0,137.1 549.0,159.7 610.3,183.8 658.5,202.4 658.5,211.6 597.2,205.0 540.2,197.4 472.3,185.8 466.8,169.6" fill="#df8217"/>
<polygon points="466.8,143.3 487.6,144.4 531.5,158.6 575.3,172.2 608.2,187.5 632.3,200.2 634.4,207.7 597.2,204.4 540.2,196.7 498.6,188.0 472.3,183.6 466.8,163.0" fill="#c6001d"/>
<polygon points="467.5,156.4 498.6,159.7 535.8,173.9 566.5,189.3 575.3,200.7 540.2,196.3 498.6,187.5 472.3,182.7" fill="#b2000c"/>
<polygon points="467.9,163.0 498.6,165.2 527.1,178.3 542.4,192.6 498.6,186.9 472.3,181.4" fill="#9a0000"/>
<polygon points="606.0,188.8 632.3,200.2 634.4,207.7 608.2,205.5" fill="#eb0d32"/>
<rect x="21" y="113.8" width="1546" height="1.6" fill="#fff"/>
<rect x="21" y="166.0" width="1546" height="1.6" fill="#fff"/>
<text x="20" y="85.8" font-family="Liberation Sans,sans-serif" font-size="25.6" fill="#fff">15 km</text>
<text x="20" y="137.8" font-family="Liberation Sans,sans-serif" font-size="25.6" fill="#fff">10 km</text>
<text x="20" y="189.0" font-family="Liberation Sans,sans-serif" font-size="25.6" fill="#fff">5 km</text>
</g>
<g clip-path="url(#cr)">
<polygon points="1600.0,314.0 1670.0,314.0 1670.0,318.0 1719.0,321.0 1719.0,729.0 1674.0,773.0 1670.0,827.0 1642.0,842.0 1636.0,867.0 1621.0,890.0 1619.0,911.0 1613.0,975.0 1607.0,1017.0 1596.0,1060.0 1592.0,1100.0 1592.0,1216.0 1572.0,1216.0 1572.0,760.0 1577.6,680.0 1601.0,335.0" fill="#2896c5"/>
<polygon points="1640.0,400.0 1719.0,370.0 1719.0,600.0 1690.0,640.0 1650.0,700.0 1620.0,700.0 1625.0,560.0" fill="#2aa5d6"/>
<polygon points="1630.0,560.0 1680.0,530.0 1700.0,560.0 1660.0,640.0 1640.0,720.0 1615.0,720.0" fill="#2896c5"/>
<polygon points="1600.0,700.0 1719.0,640.0 1719.0,729.0 1674.0,773.0 1670.0,827.0 1642.0,842.0 1636.0,867.0 1621.0,890.0 1619.0,911.0 1600.0,930.0 1590.0,800.0" fill="#2f89bb"/>
<polygon points="1572.0,860.0 1636.0,867.0 1621.0,890.0 1619.0,911.0 1620.0,965.0 1616.0,1000.0 1610.0,1040.0 1604.0,1080.0 1598.0,1120.0 1595.0,1216.0 1572.0,1216.0" fill="#3b70a3"/>
<polygon points="1572.0,860.0 1630.0,867.0 1612.0,900.0 1606.0,960.0 1600.0,1000.0 1596.0,1100.0 1592.0,1216.0 1572.0,1216.0" fill="#357cae"/>
<polygon points="1572.0,900.0 1596.0,900.0 1590.0,1060.0 1588.0,1216.0 1572.0,1216.0" fill="#2f89bb"/>
<polygon points="1574.0,1185.0 1592.0,1185.0 1592.0,1192.0 1574.0,1192.0" fill="#2aa5d6"/>
<path d="M1591 1045h3v3h-3zM1669 975h12v2h-12zM1620 885h3v4h-3zM1634 939h3v4h-3zM1638 862h3v2h-3zM1606 984h5v3h-5zM1601 852h3v2h-3zM1595 1012h5v3h-5zM1664 1016h12v2h-12zM1668 935h3v2h-3zM1626 919h3v2h-3zM1673 865h12v3h-12zM1611 909h5v2h-5zM1644 877h12v2h-12zM1660 983h12v3h-12zM1710 970h12v3h-12zM1672 960h3v3h-3zM1670 905h3v4h-3zM1599 942h5v2h-5zM1635 865h12v2h-12zM1600 1008h8v2h-8zM1600 862h3v3h-3zM1593 873h5v3h-5zM1600 1047h5v2h-5zM1711 949h3v4h-3zM1618 986h8v2h-8zM1631 871h8v4h-8zM1600 947h12v4h-12zM1614 949h8v2h-8zM1592 925h12v2h-12zM1658 914h3v3h-3zM1609 859h3v4h-3zM1607 964h8v3h-8zM1715 946h8v2h-8zM1609 890h3v3h-3zM1593 1059h3v4h-3zM1617 880h12v2h-12zM1661 852h8v4h-8zM1603 893h3v3h-3zM1622 909h5v2h-5zM1612 1069h5v3h-5zM1607 914h3v2h-3zM1595 1067h5v2h-5zM1696 963h12v2h-12zM1671 1041h12v3h-12zM1592 928h3v4h-3zM1619 920h12v3h-12zM1661 1056h5v2h-5zM1711 1009h5v4h-5zM1623 900h3v4h-3zM1683 964h3v3h-3zM1592 945h12v3h-12zM1612 1071h8v2h-8zM1666 967h12v2h-12zM1651 993h12v3h-12zM1609 970h12v4h-12zM1664 1061h8v4h-8zM1599 1032h12v3h-12zM1648 1033h5v2h-5zM1706 870h5v3h-5zM1624 870h5v2h-5zM1604 878h12v3h-12zM1709 931h3v2h-3zM1610 981h5v3h-5zM1609 867h5v2h-5zM1623 957h3v3h-3zM1633 887h5v2h-5zM1656 1001h3v2h-3zM1623 1023h8v2h-8zM1635 1009h5v2h-5zM1619 983h8v4h-8zM1604 886h5v3h-5zM1602 955h3v3h-3zM1625 877h12v2h-12zM1667 1010h8v2h-8zM1645 861h12v2h-12zM1600 945h8v2h-8zM1712 927h5v2h-5zM1639 877h12v2h-12zM1605 1047h12v3h-12zM1597 867h5v2h-5zM1634 1051h8v2h-8zM1705 963h5v2h-5zM1637 901h3v2h-3zM1631 1039h3v2h-3zM1695 991h3v2h-3zM1601 893h5v4h-5zM1601 923h3v2h-3zM1622 870h12v2h-12zM1605 990h5v2h-5zM1596 1070h5v4h-5zM1607 1004h12v3h-12zM1649 1023h8v3h-8zM1678 982h3v2h-3zM1591 971h3v2h-3zM1648 925h5v2h-5zM1702 997h3v3h-3zM1621 935h8v2h-8zM1612 1018h3v2h-3zM1612 939h8v2h-8zM1602 912h3v4h-3zM1596 899h12v4h-12zM1619 954h8v4h-8zM1710 1002h8v4h-8zM1599 891h5v4h-5zM1632 856h5v3h-5zM1618 908h5v3h-5zM1674 926h12v2h-12zM1615 944h3v4h-3zM1601 873h8v4h-8zM1609 936h3v2h-3zM1605 991h8v3h-8zM1689 939h3v2h-3zM1592 920h8v2h-8zM1592 1002h8v2h-8zM1688 878h5v2h-5zM1631 1029h12v3h-12zM1698 1035h8v2h-8zM1691 858h3v2h-3zM1617 995h8v2h-8zM1592 919h3v2h-3zM1602 902h12v2h-12zM1608 948h3v3h-3zM1614 952h8v2h-8z" fill="#3d6496"/>
<path d="M1598 1035h3v3h-3zM1602 1032h3v3h-3zM1601 959h3v3h-3zM1611 941h3v3h-3zM1619 930h3v3h-3zM1609 1021h3v3h-3zM1608 1001h3v3h-3zM1598 925h3v3h-3zM1613 897h3v3h-3zM1600 1043h3v3h-3zM1600 977h3v3h-3zM1611 998h3v3h-3zM1603 1009h3v3h-3zM1601 1044h3v3h-3zM1606 1051h3v3h-3zM1606 1010h3v3h-3zM1604 952h3v3h-3zM1611 941h3v3h-3zM1598 1037h3v3h-3zM1601 968h3v3h-3zM1600 934h3v3h-3zM1602 1035h3v3h-3zM1598 1024h3v3h-3zM1604 1015h3v3h-3zM1600 1049h3v3h-3zM1597 935h3v3h-3zM1607 1023h3v3h-3zM1610 883h3v3h-3zM1601 1005h3v3h-3zM1605 901h3v3h-3zM1604 986h3v3h-3zM1595 993h3v3h-3zM1604 964h3v3h-3zM1606 1042h3v3h-3zM1601 1040h3v3h-3zM1606 1012h3v3h-3zM1600 1040h3v3h-3zM1603 1006h3v3h-3zM1601 955h3v3h-3zM1604 895h3v3h-3zM1614 981h3v3h-3zM1619 912h3v3h-3zM1607 1022h3v3h-3zM1605 966h3v3h-3zM1610 986h3v3h-3zM1595 1040h3v3h-3zM1606 1040h3v3h-3zM1599 1038h3v3h-3zM1616 936h3v3h-3zM1601 1034h3v3h-3zM1601 956h3v3h-3zM1600 908h3v3h-3zM1600 936h3v3h-3zM1610 988h3v3h-3zM1601 975h3v3h-3zM1607 921h3v3h-3zM1606 910h3v3h-3zM1614 909h3v3h-3zM1597 1015h3v3h-3zM1604 909h3v3h-3z" fill="#1a1a1a"/>
<ellipse cx="1626.2" cy="307.5" rx="24.6" ry="14.0" fill="#4ee137"/>
<polygon points="1650.0,322.0 1665.0,319.0 1719.0,322.0 1719.0,370.0 1707.0,374.0 1701.0,389.0 1695.0,416.0 1682.0,437.0 1688.6,447.5 1680.0,468.5 1669.7,483.0 1648.8,491.5 1638.3,510.4 1632.0,531.3 1627.8,552.0 1621.5,636.0 1607.0,680.0 1602.7,680.0 1625.0,540.0 1662.4,330.0" fill="#4ee137"/>
<polygon points="1653.0,491.5 1673.9,493.6 1669.7,502.0 1650.9,502.0" fill="#4ee137"/>
<polygon points="1699.0,414.0 1690.7,424.5 1665.5,430.8 1653.0,424.5 1663.4,416.1" fill="#40c12b"/>
<polygon points="1644.6,432.9 1663.4,435.0 1665.5,441.3 1644.6,445.4" fill="#33a023"/>
<ellipse cx="1646.0" cy="664.3" rx="16.0" ry="7.0" fill="#40c12b"/>
<ellipse cx="1615.3" cy="732.3" rx="15.0" ry="4.5" fill="#40c12b"/>
<polygon points="1705.0,510.0 1718.0,508.0 1718.0,525.0 1706.0,526.0" fill="#4ee137"/>
<polygon points="1661.5,330.0 1658.9,345.0 1656.3,360.0 1653.8,375.0 1651.2,390.0 1648.7,405.0 1646.1,420.0 1643.6,435.0 1641.0,450.0 1638.5,465.0 1635.9,480.0 1633.4,495.0 1630.8,510.0 1628.2,525.0 1625.7,540.0 1623.1,555.0 1620.6,570.0 1618.0,585.0 1615.5,600.0 1612.9,615.0 1610.4,630.0 1607.8,645.0 1605.3,660.0 1602.7,675.0 1600.1,690.0 1597.6,705.0 1595.0,720.0 1592.5,735.0 1589.9,750.0 1587.4,765.0 1585.4,780.0 1584.2,795.0 1583.0,810.0 1581.7,825.0 1580.5,840.0 1579.3,855.0 1578.0,870.0 1576.8,885.0 1582.4,885.0 1583.6,870.0 1584.9,855.0 1586.1,840.0 1587.3,825.0 1588.6,810.0 1589.8,795.0 1591.0,780.0 1593.0,765.0 1595.5,750.0 1598.1,735.0 1600.6,720.0 1603.2,705.0 1605.7,690.0 1608.3,675.0 1610.9,660.0 1613.4,645.0 1616.0,630.0 1618.5,615.0 1621.1,600.0 1623.6,585.0 1626.2,570.0 1628.7,555.0 1631.3,540.0 1633.8,525.0 1636.4,510.0 1639.0,495.0 1641.5,480.0 1644.1,465.0 1646.6,450.0 1649.2,435.0 1651.7,420.0 1654.3,405.0 1656.8,390.0 1659.4,375.0 1661.9,360.0 1664.5,345.0 1667.1,330.0" fill="#2c8b1e"/>
<polygon points="1653.0,328.0 1668.0,326.0 1668.0,335.0 1662.0,345.0" fill="#2c8b1e"/>
<polygon points="1629.0,550.0 1626.4,565.0 1623.9,580.0 1621.3,595.0 1618.8,610.0 1616.2,625.0 1613.7,640.0 1611.1,655.0 1608.5,670.0 1606.0,685.0 1603.4,700.0 1600.9,715.0 1598.3,730.0 1595.8,745.0 1593.2,760.0 1590.8,775.0 1589.6,790.0 1588.4,805.0 1587.1,820.0 1585.9,835.0 1584.7,850.0 1583.5,865.0 1582.2,880.0 1581.0,895.0 1585.5,895.0 1586.7,880.0 1588.0,865.0 1589.2,850.0 1590.4,835.0 1591.6,820.0 1592.9,805.0 1594.1,790.0 1595.3,775.0 1597.7,760.0 1600.3,745.0 1602.8,730.0 1605.4,715.0 1607.9,700.0 1610.5,685.0 1613.0,670.0 1615.6,655.0 1618.2,640.0 1620.7,625.0 1623.3,610.0 1625.8,595.0 1628.4,580.0 1630.9,565.0 1633.5,550.0" fill="#4ee137"/>
<polygon points="1602.0,323.0 1650.0,323.0 1662.5,330.0 1660.7,340.0 1659.0,350.0 1657.3,360.0 1655.6,370.0 1653.9,380.0 1652.2,390.0 1650.5,400.0 1648.8,410.0 1647.1,420.0 1645.4,430.0 1643.7,440.0 1642.0,450.0 1640.3,460.0 1638.6,470.0 1636.9,480.0 1635.2,490.0 1633.5,500.0 1631.8,510.0 1630.1,520.0 1628.4,530.0 1626.7,540.0 1625.0,550.0 1623.3,560.0 1621.6,570.0 1619.9,580.0 1618.2,590.0 1616.5,600.0 1614.8,610.0 1613.1,620.0 1611.4,630.0 1609.7,640.0 1608.0,650.0 1606.3,660.0 1604.5,670.0 1602.8,680.0 1601.1,690.0 1599.4,700.0 1597.7,710.0 1596.0,720.0 1594.3,730.0 1592.6,740.0 1590.9,750.0 1589.2,760.0 1587.5,770.0 1586.4,780.0 1585.6,790.0 1584.8,800.0 1584.0,810.0 1583.1,820.0 1582.3,830.0 1581.5,840.0 1580.7,850.0 1579.9,860.0 1579.0,870.0 1578.2,880.0 1577.6,888.0 1571.7,888.0 1571.7,880.0 1571.7,870.0 1571.7,860.0 1571.7,850.0 1571.7,840.0 1571.7,830.0 1571.7,820.0 1571.7,810.0 1571.7,800.0 1571.7,790.0 1571.7,780.0 1571.7,770.0 1571.7,760.0 1572.3,750.0 1573.0,740.0 1573.6,730.0 1574.3,720.0 1575.0,710.0 1575.7,700.0 1576.4,690.0 1577.1,680.0 1577.8,670.0 1578.4,660.0 1579.1,650.0 1579.8,640.0 1580.5,630.0 1581.2,620.0 1581.9,610.0 1582.6,600.0 1583.3,590.0 1583.9,580.0 1584.6,570.0 1585.3,560.0 1586.0,550.0 1586.7,540.0 1587.4,530.0 1588.1,520.0 1588.8,510.0 1589.4,500.0 1590.1,490.0 1590.8,480.0 1591.5,470.0 1592.2,460.0 1592.9,450.0 1593.6,440.0 1594.3,430.0 1594.9,420.0 1595.6,410.0 1596.3,400.0 1597.0,390.0 1597.7,380.0 1598.4,370.0 1599.1,360.0 1599.7,350.0 1600.4,340.0 1601.1,330.0" fill="#e4e43a"/>
<polygon points="1602.0,325.0 1648.0,325.0 1654.1,330.0 1652.3,340.0 1650.6,350.0 1648.8,360.0 1647.1,370.0 1645.3,380.0 1643.6,390.0 1641.9,400.0 1640.1,410.0 1638.4,420.0 1636.6,430.0 1634.9,440.0 1633.1,450.0 1631.4,460.0 1629.6,470.0 1627.9,480.0 1626.2,490.0 1624.4,500.0 1622.7,510.0 1620.9,520.0 1619.2,530.0 1617.4,540.0 1615.7,550.0 1614.0,560.0 1612.2,570.0 1610.5,580.0 1608.7,590.0 1607.0,600.0 1605.2,610.0 1603.5,620.0 1601.8,630.0 1600.0,640.0 1598.3,650.0 1596.5,660.0 1594.8,670.0 1593.0,680.0 1591.3,690.0 1589.6,700.0 1587.8,710.0 1586.1,720.0 1584.3,730.0 1582.6,740.0 1580.8,750.0 1579.1,760.0 1577.4,770.0 1572.2,770.0 1572.2,760.0 1572.8,750.0 1573.5,740.0 1574.1,730.0 1574.8,720.0 1575.5,710.0 1576.2,700.0 1576.9,690.0 1577.6,680.0 1578.3,670.0 1578.9,660.0 1579.6,650.0 1580.3,640.0 1581.0,630.0 1581.7,620.0 1582.4,610.0 1583.1,600.0 1583.8,590.0 1584.4,580.0 1585.1,570.0 1585.8,560.0 1586.5,550.0 1587.2,540.0 1587.9,530.0 1588.6,520.0 1589.3,510.0 1589.9,500.0 1590.6,490.0 1591.3,480.0 1592.0,470.0 1592.7,460.0 1593.4,450.0 1594.1,440.0 1594.8,430.0 1595.4,420.0 1596.1,410.0 1596.8,400.0 1597.5,390.0 1598.2,380.0 1598.9,370.0 1599.6,360.0 1600.2,350.0 1600.9,340.0 1601.6,330.0" fill="#da961b"/>
<polygon points="1602.0,327.0 1645.0,327.0 1649.6,330.0 1647.8,340.0 1646.1,350.0 1644.3,360.0 1642.6,370.0 1640.8,380.0 1639.1,390.0 1637.4,400.0 1635.6,410.0 1633.9,420.0 1632.1,430.0 1630.4,440.0 1628.6,450.0 1626.9,460.0 1625.1,470.0 1623.4,480.0 1621.7,490.0 1619.9,500.0 1618.2,510.0 1616.4,520.0 1614.7,530.0 1612.9,540.0 1611.2,550.0 1609.5,560.0 1607.7,570.0 1606.0,580.0 1604.2,590.0 1602.5,600.0 1600.7,610.0 1599.0,620.0 1597.3,630.0 1595.5,640.0 1593.8,650.0 1592.0,660.0 1590.3,670.0 1588.5,680.0 1586.8,690.0 1585.1,700.0 1583.3,710.0 1581.6,720.0 1579.8,730.0 1578.1,740.0 1573.5,740.0 1574.1,730.0 1574.8,720.0 1575.5,710.0 1576.2,700.0 1576.9,690.0 1577.6,680.0 1578.3,670.0 1578.9,660.0 1579.6,650.0 1580.3,640.0 1581.0,630.0 1581.7,620.0 1582.4,610.0 1583.1,600.0 1583.8,590.0 1584.4,580.0 1585.1,570.0 1585.8,560.0 1586.5,550.0 1587.2,540.0 1587.9,530.0 1588.6,520.0 1589.3,510.0 1589.9,500.0 1590.6,490.0 1591.3,480.0 1592.0,470.0 1592.7,460.0 1593.4,450.0 1594.1,440.0 1594.8,430.0 1595.4,420.0 1596.1,410.0 1596.8,400.0 1597.5,390.0 1598.2,380.0 1598.9,370.0 1599.6,360.0 1600.2,350.0 1600.9,340.0 1601.6,330.0" fill="#df8217"/>
<polygon points="1642.5,330.0 1641.3,338.0 1640.1,346.0 1638.8,354.0 1637.6,362.0 1636.3,370.0 1635.1,378.0 1633.9,386.0 1632.6,394.0 1631.4,402.0 1630.1,410.0 1628.9,418.0 1627.6,426.0 1626.4,434.0 1625.2,442.0 1623.9,450.0 1622.7,458.0 1621.4,466.0 1620.2,474.0 1619.0,482.0 1617.7,490.0 1616.5,498.0 1615.2,506.0 1614.0,514.0 1612.7,522.0 1611.5,530.0 1610.3,538.0 1609.0,546.0 1607.8,554.0 1606.5,562.0 1605.3,570.0 1604.1,578.0 1602.8,586.0 1601.6,594.0 1600.3,602.0 1599.1,610.0 1597.8,618.0 1596.6,626.0 1595.4,634.0 1594.1,642.0 1592.9,650.0 1591.8,657.0 1579.8,657.0 1580.2,650.0 1580.8,642.0 1581.3,634.0 1581.9,626.0 1582.4,618.0 1583.0,610.0 1583.5,602.0 1584.1,594.0 1584.6,586.0 1585.2,578.0 1585.7,570.0 1586.3,562.0 1586.8,554.0 1587.4,546.0 1587.9,538.0 1588.5,530.0 1589.0,522.0 1589.6,514.0 1590.1,506.0 1590.7,498.0 1591.2,490.0 1591.8,482.0 1592.3,474.0 1592.9,466.0 1593.4,458.0 1594.0,450.0 1594.5,442.0 1595.1,434.0 1595.6,426.0 1596.2,418.0 1596.7,410.0 1597.3,402.0 1597.8,394.0 1598.4,386.0 1598.9,378.0 1599.5,370.0 1600.0,362.0 1600.6,354.0 1601.1,346.0 1601.7,338.0 1602.2,330.0" fill="#eb0d32"/>
<polygon points="1642.5,330.0 1641.3,338.0 1640.1,346.0 1638.8,354.0 1637.6,362.0 1636.3,370.0 1635.1,378.0 1633.9,386.0 1632.6,394.0 1631.4,402.0 1630.1,410.0 1628.9,418.0 1627.6,426.0 1626.4,434.0 1625.2,442.0 1623.9,450.0 1622.7,458.0 1621.4,466.0 1620.2,474.0 1619.0,482.0 1617.7,490.0 1616.5,498.0 1615.2,506.0 1614.0,514.0 1612.7,522.0 1611.5,530.0 1610.3,538.0 1609.0,546.0 1607.8,554.0 1606.5,562.0 1605.3,570.0 1604.1,578.0 1602.8,586.0 1601.6,594.0 1600.3,602.0 1599.6,606.7 1583.2,606.7 1583.5,602.0 1584.1,594.0 1584.6,586.0 1585.2,578.0 1585.7,570.0 1586.3,562.0 1586.8,554.0 1587.4,546.0 1587.9,538.0 1588.5,530.0 1589.0,522.0 1589.6,514.0 1590.1,506.0 1590.7,498.0 1591.2,490.0 1591.8,482.0 1592.3,474.0 1592.9,466.0 1593.4,458.0 1594.0,450.0 1594.5,442.0 1595.1,434.0 1595.6,426.0 1596.2,418.0 1596.7,410.0 1597.3,402.0 1597.8,394.0 1598.4,386.0 1598.9,378.0 1599.5,370.0 1600.0,362.0 1600.6,354.0 1601.1,346.0 1601.7,338.0 1602.2,330.0" fill="#c6001d"/>
<polygon points="1639.5,330.0 1638.3,338.0 1637.1,346.0 1635.8,354.0 1634.6,362.0 1633.3,370.0 1632.1,378.0 1630.9,386.0 1629.6,394.0 1628.4,402.0 1627.1,410.0 1625.9,418.0 1624.6,426.0 1623.4,434.0 1622.3,441.0 1594.6,441.0 1595.1,434.0 1595.6,426.0 1596.2,418.0 1596.7,410.0 1597.3,402.0 1597.8,394.0 1598.4,386.0 1598.9,378.0 1599.5,370.0 1600.0,362.0 1600.6,354.0 1601.1,346.0 1601.7,338.0 1602.2,330.0" fill="#b2000c"/>
<polygon points="1602.0,330.0 1638.0,330.0 1632.0,364.0 1613.0,378.0 1599.0,378.0 1600.0,350.0" fill="#9a0000"/>
<polygon points="1602.0,328.0 1641.0,328.0 1640.0,332.0 1602.0,332.0" fill="#df8217"/>
<rect x="1572.5" y="924.5" width="5.0" height="1.6" fill="#da961b"/>
<rect x="1572.5" y="970.8" width="3.0" height="1.6" fill="#da961b"/>
<rect x="1572.5" y="908.4" width="3.0" height="1.6" fill="#4ee137"/>
<rect x="1572.5" y="1048.6" width="2.5" height="1.6" fill="#4ee137"/>
<rect x="1572.5" y="992.4" width="3.0" height="1.6" fill="#c6001d"/>
<rect x="1572.5" y="986.7" width="3.0" height="1.6" fill="#e4e43a"/>
<rect x="1572.5" y="894.0" width="3.0" height="1.6" fill="#da961b"/>
<rect x="1572.5" y="1003.4" width="2.5" height="1.6" fill="#da961b"/>
<rect x="1572.5" y="1003.6" width="5.0" height="1.6" fill="#c6001d"/>
<rect x="1572.5" y="954.5" width="5.0" height="1.6" fill="#4ee137"/>
<rect x="1572.5" y="1006.8" width="2.5" height="1.6" fill="#e4e43a"/>
<rect x="1572.5" y="943.6" width="8.0" height="1.6" fill="#d9009a"/>
<rect x="1572.5" y="913.3" width="5.0" height="1.6" fill="#da961b"/>
<rect x="1572.5" y="910.2" width="5.0" height="1.6" fill="#e4e43a"/>
<rect x="1572.5" y="949.3" width="8.0" height="1.6" fill="#efee3e"/>
<rect x="1572.5" y="948.2" width="3.0" height="1.6" fill="#d9009a"/>
<rect x="1572.5" y="949.5" width="8.0" height="1.6" fill="#da961b"/>
<rect x="1572.5" y="891.8" width="8.0" height="1.6" fill="#e4e43a"/>
<rect x="1572.5" y="973.3" width="2.5" height="1.6" fill="#efee3e"/>
<rect x="1572.5" y="961.5" width="2.5" height="1.6" fill="#da961b"/>
<rect x="1572.5" y="1016.4" width="2.5" height="1.6" fill="#e4e43a"/>
<rect x="1572.5" y="933.7" width="3.0" height="1.6" fill="#c6001d"/>
<rect x="1572.5" y="996.6" width="5.0" height="1.6" fill="#eb0d32"/>
<rect x="1572.5" y="943.0" width="8.0" height="1.6" fill="#c6001d"/>
<rect x="1572.5" y="960.7" width="2.5" height="1.6" fill="#efee3e"/>
<rect x="1572.5" y="1032.9" width="8.0" height="1.6" fill="#d9009a"/>
<rect x="1572.5" y="910.1" width="2.5" height="1.6" fill="#da961b"/>
<rect x="1572.5" y="1024.9" width="3.0" height="1.6" fill="#c6001d"/>
<rect x="1572.5" y="1054.5" width="8.0" height="1.6" fill="#efee3e"/>
<rect x="1572.5" y="1025.0" width="8.0" height="1.6" fill="#c6001d"/>
<rect x="1572.5" y="991.9" width="2.5" height="1.6" fill="#d9009a"/>
<rect x="1572.5" y="929.1" width="3.0" height="1.6" fill="#da961b"/>
<rect x="1572.5" y="926.1" width="8.0" height="1.6" fill="#4ee137"/>
<rect x="1572.5" y="1002.4" width="2.5" height="1.6" fill="#eb0d32"/>
<rect x="1572.5" y="975.7" width="8.0" height="1.6" fill="#4ee137"/>
<rect x="1572.5" y="1031.1" width="5.0" height="1.6" fill="#e4e43a"/>
<rect x="1572.5" y="921.5" width="3.0" height="1.6" fill="#d9009a"/>
<rect x="1572.5" y="989.0" width="3.0" height="1.6" fill="#da961b"/>
<rect x="1572.5" y="911.7" width="3.0" height="1.6" fill="#da961b"/>
<rect x="1572.5" y="1043.5" width="5.0" height="1.6" fill="#efee3e"/>
<rect x="1572.5" y="959.1" width="2.5" height="1.6" fill="#c6001d"/>
<rect x="1572.5" y="990.6" width="8.0" height="1.6" fill="#eb0d32"/>
<rect x="1572.5" y="943.1" width="5.0" height="1.6" fill="#4ee137"/>
<rect x="1572.5" y="956.9" width="3.0" height="1.6" fill="#4ee137"/>
<rect x="1572.5" y="986.6" width="8.0" height="1.6" fill="#da961b"/>
<rect x="1572.5" y="1049.1" width="3.0" height="1.6" fill="#da961b"/>
<rect x="1572.5" y="1038.4" width="5.0" height="1.6" fill="#c6001d"/>
<rect x="1572.5" y="968.2" width="8.0" height="1.6" fill="#da961b"/>
<rect x="1572.5" y="931.5" width="2.5" height="1.6" fill="#da961b"/>
<rect x="1572.5" y="1003.6" width="3.0" height="1.6" fill="#efee3e"/>
<rect x="1572.5" y="897.9" width="8.0" height="1.6" fill="#eb0d32"/>
<rect x="1572.5" y="1053.6" width="5.0" height="1.6" fill="#d9009a"/>
<rect x="1572.5" y="1029.7" width="5.0" height="1.6" fill="#da961b"/>
<rect x="1572.5" y="941.6" width="8.0" height="1.6" fill="#c6001d"/>
<rect x="1572.5" y="1012.1" width="5.0" height="1.6" fill="#da961b"/>
<rect x="1572.5" y="1012.8" width="8.0" height="1.6" fill="#e4e43a"/>
<rect x="1572.5" y="966.7" width="5.0" height="1.6" fill="#efee3e"/>
<rect x="1572.5" y="902.9" width="8.0" height="1.6" fill="#e4e43a"/>
<rect x="1572.5" y="996.2" width="3.0" height="1.6" fill="#c6001d"/>
<rect x="1572.5" y="946.1" width="2.5" height="1.6" fill="#eb0d32"/>
<rect x="1572.5" y="938.6" width="5.0" height="1.6" fill="#4ee137"/>
<rect x="1572.5" y="949.3" width="3.0" height="1.6" fill="#eb0d32"/>
<rect x="1572.5" y="904.3" width="3.0" height="1.6" fill="#4ee137"/>
<rect x="1572.5" y="889.5" width="2.5" height="1.6" fill="#c6001d"/>
<rect x="1572.5" y="1017.6" width="3.0" height="1.6" fill="#e4e43a"/>
<rect x="1572.5" y="1011.5" width="8.0" height="1.6" fill="#c6001d"/>
<rect x="1572.5" y="909.3" width="3.0" height="1.6" fill="#4ee137"/>
<rect x="1572.5" y="1015.5" width="3.0" height="1.6" fill="#da961b"/>
<rect x="1572.5" y="1005.8" width="3.0" height="1.6" fill="#d9009a"/>
<rect x="1572.5" y="977.6" width="2.5" height="1.6" fill="#c6001d"/>
<rect x="1572.5" y="890.3" width="5.0" height="1.6" fill="#d9009a"/>
<rect x="1572.5" y="903.2" width="5.0" height="1.6" fill="#eb0d32"/>
<rect x="1572.5" y="1016.8" width="5.0" height="1.6" fill="#efee3e"/>
<rect x="1572.5" y="1056.7" width="3.0" height="1.6" fill="#da961b"/>
<rect x="1572.5" y="1040.9" width="2.5" height="1.6" fill="#efee3e"/>
<rect x="1572.5" y="951.3" width="3.0" height="1.6" fill="#e4e43a"/>
<rect x="1572.5" y="985.9" width="5.0" height="1.6" fill="#efee3e"/>
<rect x="1572.5" y="939.3" width="2.5" height="1.6" fill="#c6001d"/>
<rect x="1572.5" y="1059.3" width="2.5" height="1.6" fill="#4ee137"/>
<rect x="1572.5" y="888.9" width="8.0" height="1.6" fill="#efee3e"/>
<rect x="1572.5" y="922.7" width="3.0" height="1.6" fill="#da961b"/>
<rect x="1572.5" y="981.2" width="2.5" height="1.6" fill="#4ee137"/>
<rect x="1572.5" y="902.8" width="2.5" height="1.6" fill="#efee3e"/>
<rect x="1572.5" y="958.0" width="2.5" height="1.6" fill="#efee3e"/>
<rect x="1572.5" y="1062.8" width="3.0" height="1.6" fill="#d9009a"/>
<rect x="1572.5" y="1018.0" width="3.0" height="1.6" fill="#efee3e"/>
<rect x="1572.5" y="959.3" width="3.0" height="1.6" fill="#e4e43a"/>
<rect x="1572.5" y="980.9" width="5.0" height="1.6" fill="#eb0d32"/>
<rect x="1572.5" y="901.3" width="8.0" height="1.6" fill="#4ee137"/>
<rect x="1572.5" y="1060.8" width="3.0" height="1.6" fill="#efee3e"/>
<rect x="1572.5" y="1047.8" width="8.0" height="1.6" fill="#c6001d"/>
<rect x="1572.5" y="933.3" width="3.0" height="1.6" fill="#eb0d32"/>
<rect x="1572.5" y="957.4" width="2.5" height="1.6" fill="#c6001d"/>
<rect x="1572.5" y="1011.3" width="8.0" height="1.6" fill="#efee3e"/>
<rect x="1572.5" y="908.5" width="8.0" height="1.6" fill="#c6001d"/>
<rect x="1572.5" y="979.9" width="5.0" height="1.6" fill="#c6001d"/>
<rect x="1572.5" y="1004.4" width="8.0" height="1.6" fill="#eb0d32"/>
<rect x="1572.5" y="1023.6" width="5.0" height="1.6" fill="#efee3e"/>
<rect x="1572.5" y="977.1" width="2.5" height="1.6" fill="#c6001d"/>
<rect x="1572.5" y="957.1" width="2.5" height="1.6" fill="#da961b"/>
<rect x="1572.5" y="1018.0" width="8.0" height="1.6" fill="#c6001d"/>
<rect x="1572.5" y="1041.2" width="5.0" height="1.6" fill="#c6001d"/>
<rect x="1572.5" y="959.8" width="8.0" height="1.6" fill="#d9009a"/>
<rect x="1572.5" y="984.1" width="3.0" height="1.6" fill="#d9009a"/>
<rect x="1572.5" y="1046.8" width="5.0" height="1.6" fill="#e4e43a"/>
<rect x="1572.5" y="1014.8" width="2.5" height="1.6" fill="#e4e43a"/>
<rect x="1572.5" y="895.8" width="3.0" height="1.6" fill="#4ee137"/>
<rect x="1572.5" y="1035.9" width="8.0" height="1.6" fill="#c6001d"/>
<rect x="1572.5" y="964.6" width="2.5" height="1.6" fill="#d9009a"/>
<rect x="1572.5" y="941.2" width="3.0" height="1.6" fill="#d9009a"/>
<rect x="1581" y="912" width="10" height="5" fill="#e4e43a"/>
<rect x="1584" y="926" width="8" height="3" fill="#d2ab22"/>
<rect x="1572" y="1047" width="7" height="3" fill="#e4e43a"/>
<ellipse cx="1707.4" cy="791.9" rx="10.5" ry="5.2" fill="#357cae"/>
<ellipse cx="1699.0" cy="806.6" rx="8.4" ry="3.1" fill="#357cae"/>
<ellipse cx="1688.6" cy="820.2" rx="8.4" ry="3.1" fill="#357cae"/>
<ellipse cx="1678.1" cy="835.9" rx="8.4" ry="4.2" fill="#357cae"/>
<ellipse cx="1665.5" cy="857.9" rx="18.8" ry="7.3" fill="#2f89bb"/>
<ellipse cx="1621.5" cy="846.4" rx="20.9" ry="6.3" fill="#2896c5"/>
<ellipse cx="1711.6" cy="900.8" rx="10.5" ry="2.9" fill="#3b70a3"/>
<ellipse cx="1709.5" cy="934.3" rx="9.4" ry="2.9" fill="#3b70a3"/>
<ellipse cx="1692.7" cy="949.0" rx="5.2" ry="4.6" fill="#3b70a3"/>
<ellipse cx="1694.8" cy="986.7" rx="4.6" ry="5.9" fill="#3b70a3"/>
<ellipse cx="1694.8" cy="1005.5" rx="4.6" ry="4.6" fill="#3b70a3"/>
<ellipse cx="1688.6" cy="1028.6" rx="12.6" ry="6.3" fill="#357cae"/>
<ellipse cx="1709.5" cy="1024.4" rx="9.4" ry="4.2" fill="#357cae"/>
<ellipse cx="1703.2" cy="1037.0" rx="12.6" ry="3.8" fill="#357cae"/>
<ellipse cx="1678.1" cy="1049.5" rx="10.5" ry="2.9" fill="#357cae"/>
<ellipse cx="1655.1" cy="986.7" rx="6.3" ry="3.8" fill="#3b70a3"/>
<ellipse cx="1671.8" cy="1016.0" rx="12.6" ry="2.5" fill="#3b70a3"/>
<ellipse cx="1634.1" cy="1024.4" rx="12.6" ry="2.9" fill="#357cae"/>
<ellipse cx="1627.8" cy="1037.0" rx="8.4" ry="2.5" fill="#357cae"/>
<ellipse cx="1593.3" cy="1222.2" rx="17.8" ry="5.2" fill="#357cae"/>
<ellipse cx="1594.3" cy="1234.8" rx="18.8" ry="9.4" fill="#357cae"/>
<ellipse cx="1617.4" cy="1067.2" rx="12.6" ry="4.2" fill="#357cae"/>
<ellipse cx="1634.1" cy="1087.1" rx="16.8" ry="6.3" fill="#2f89bb"/>
<ellipse cx="1657.1" cy="1088.2" rx="8.4" ry="4.2" fill="#3b70a3"/>
<ellipse cx="1647.7" cy="1105.5" rx="17.8" ry="5.9" fill="#2f89bb"/>
<ellipse cx="1682.3" cy="1050.5" rx="14.7" ry="3.8" fill="#357cae"/>
<ellipse cx="1632.0" cy="1051.5" rx="12.6" ry="7.3" fill="#357cae"/>
<ellipse cx="1659.2" cy="1131.1" rx="7.3" ry="2.5" fill="#33a023"/>
<ellipse cx="1665.1" cy="1241.5" rx="9.4" ry="3.1" fill="#3b70a3"/>
<ellipse cx="1607.5" cy="1295.9" rx="17.8" ry="6.9" fill="#2f89bb"/>
<ellipse cx="1614.2" cy="1328.4" rx="18.8" ry="6.3" fill="#2896c5"/>
<ellipse cx="1585.9" cy="1328.0" rx="9.4" ry="5.2" fill="#357cae"/>
<ellipse cx="1620.5" cy="1365.2" rx="20.9" ry="6.7" fill="#2896c5"/>
<ellipse cx="1619.5" cy="1382.4" rx="27.2" ry="8.8" fill="#2896c5"/>
<ellipse cx="1592.2" cy="1359.0" rx="12.6" ry="3.1" fill="#357cae"/>
<ellipse cx="1639.3" cy="1172.6" rx="7.3" ry="2.1" fill="#3b70a3"/>
<ellipse cx="1616.3" cy="1144.1" rx="4.6" ry="1.7" fill="#3b70a3"/>
<ellipse cx="1620.0" cy="1641.0" rx="22.0" ry="7.0" fill="#2896c5"/>
<polygon points="1621.5,1177.2 1636.2,1177.2 1642.5,1204.4 1627.8,1204.4" fill="#3d6496"/>
<polygon points="1665.5,1158.3 1680.2,1159.4 1700.1,1196.0 1684.4,1196.0" fill="#3d6496"/>
<polygon points="1640.4,1117.5 1650.9,1118.5 1663.4,1138.4 1653.0,1138.4" fill="#3d6496"/>
<polygon points="1707.4,1234.8 1717.9,1234.8 1717.9,1255.7" fill="#3b70a3"/>
<line x1="1670" y1="938" x2="1716" y2="908" stroke="#3d6496" stroke-width="3"/>
<rect x="1619.8" y="220" width="1.6" height="1537" fill="#fff"/>
<rect x="1670.0" y="220" width="1.6" height="1537" fill="#fff"/>
<text transform="translate(1597.5,220.5) rotate(90)" font-family="Liberation Sans,sans-serif" font-size="25.6" fill="#fff">5 km</text>
<text transform="translate(1647.5,220.5) rotate(90)" font-family="Liberation Sans,sans-serif" font-size="25.6" fill="#fff">10 km</text>
<text transform="translate(1697.5,220.5) rotate(90)" font-family="Liberation Sans,sans-serif" font-size="25.6" fill="#fff">15 km</text>
</g>
<g clip-path="url(#cm)">
<path d="M428 1015h5v3h-5zM662 1094h4v2h-4zM830 1192h3v2h-3zM1021 963h4v2h-4zM657 1287h2v3h-2zM1040 984h3v3h-3zM581 1021h3v4h-3zM800 1258h3v2h-3zM803 1159h2v3h-2zM1004 999h5v2h-5zM843 1165h2v3h-2zM1012 1009h4v3h-4zM1001 1180h5v2h-5zM897 1312h5v2h-5zM857 1147h3v2h-3zM1052 1091h4v3h-4zM616 914h3v3h-3zM648 1292h4v3h-4zM928 1084h5v3h-5zM1057 1101h4v3h-4zM621 1149h3v4h-3zM995 973h3v4h-3zM705 1228h4v3h-4zM656 1087h3v4h-3zM646 876h5v4h-5zM569 1072h2v2h-2zM590 1118h3v3h-3zM901 1188h3v3h-3zM669 1155h5v2h-5zM967 1183h3v2h-3zM631 953h3v3h-3zM673 1186h3v4h-3zM1131 920h5v2h-5zM1101 920h3v2h-3zM911 1123h3v3h-3zM586 1193h2v4h-2zM655 1148h5v3h-5zM642 897h3v2h-3zM616 977h4v4h-4zM964 1221h2v3h-2zM506 1027h4v3h-4zM897 1210h2v4h-2zM918 1134h2v2h-2zM591 826h2v2h-2zM889 1254h5v2h-5zM632 896h5v3h-5zM550 955h2v3h-2zM616 934h4v4h-4zM954 1039h4v4h-4zM825 1178h4v2h-4zM703 1227h3v3h-3zM976 1048h3v4h-3zM686 1161h5v4h-5zM815 1227h5v3h-5zM785 1199h4v3h-4zM1066 934h3v4h-3zM714 1140h3v2h-3zM627 994h3v4h-3zM591 890h2v3h-2zM620 822h4v2h-4zM984 1081h5v2h-5zM621 1108h3v3h-3zM734 1141h3v4h-3zM1087 1014h3v2h-3zM971 1092h3v3h-3zM621 807h3v2h-3zM1056 1025h3v3h-3zM542 879h3v2h-3zM617 854h3v3h-3zM988 967h3v3h-3zM947 1120h5v3h-5zM944 1090h3v3h-3zM627 937h3v3h-3zM621 1220h5v3h-5zM932 1132h4v3h-4zM606 1157h3v3h-3zM618 1057h5v3h-5zM709 1167h5v2h-5zM696 1176h2v3h-2zM567 886h2v3h-2zM639 821h3v3h-3zM529 911h2v3h-2zM980 891h5v3h-5zM634 825h5v2h-5zM843 1292h3v2h-3zM738 1202h3v2h-3zM853 1219h4v3h-4zM1052 922h5v2h-5zM967 989h3v3h-3zM924 1166h5v3h-5zM456 912h2v4h-2zM525 1007h5v3h-5zM652 898h2v3h-2zM636 858h3v2h-3zM839 1154h3v3h-3zM566 1132h2v2h-2zM873 1146h3v4h-3zM569 964h3v4h-3zM969 881h3v3h-3zM1027 891h5v3h-5zM814 1245h3v4h-3zM990 1027h4v3h-4zM581 1014h3v3h-3zM970 1081h5v3h-5zM696 1180h2v3h-2zM964 1173h3v2h-3zM591 1007h5v2h-5zM958 945h3v2h-3zM852 1204h3v3h-3zM640 1105h4v3h-4zM836 1160h3v3h-3zM652 830h5v2h-5zM787 1320h2v2h-2zM770 1172h3v3h-3zM970 933h3v4h-3zM615 840h3v3h-3zM598 994h3v2h-3zM1028 1055h4v3h-4zM907 1216h2v3h-2zM1115 1008h3v2h-3zM1125 973h3v3h-3zM705 1143h5v4h-5zM539 1046h5v3h-5zM620 861h2v3h-2zM654 854h5v3h-5zM1007 1015h3v4h-3zM539 1009h5v4h-5zM931 1205h2v3h-2zM960 999h4v2h-4zM831 1236h3v3h-3zM992 903h4v3h-4zM603 828h4v2h-4zM799 1165h3v3h-3zM942 898h3v3h-3zM636 1088h3v3h-3zM1021 1023h5v4h-5zM841 1230h5v4h-5zM1006 1125h5v3h-5zM796 1181h5v3h-5zM570 1035h5v4h-5zM985 1010h3v3h-3zM675 1108h4v2h-4zM774 1156h5v4h-5zM620 1101h4v4h-4zM1013 907h3v4h-3zM649 1134h2v3h-2zM738 1160h2v2h-2zM999 1155h4v2h-4zM961 1093h5v2h-5zM866 1326h4v4h-4zM1023 1008h3v3h-3zM587 866h4v3h-4zM606 804h3v3h-3zM594 1000h3v2h-3zM487 982h3v3h-3zM1011 893h3v4h-3zM443 1019h5v4h-5zM638 890h3v2h-3zM950 1092h3v4h-3zM938 1144h3v3h-3zM527 1066h2v4h-2zM618 940h2v3h-2zM544 812h4v3h-4zM862 1148h3v4h-3zM615 1000h3v3h-3zM656 1110h5v4h-5zM983 1202h3v3h-3zM952 903h2v3h-2zM979 1225h2v2h-2zM995 1168h4v2h-4zM912 1146h3v3h-3zM750 1168h5v2h-5zM792 1154h5v3h-5zM969 1142h4v3h-4zM859 1172h3v2h-3zM631 855h5v4h-5zM1087 1106h3v4h-3zM582 875h4v4h-4zM593 1033h5v3h-5zM705 1139h2v3h-2zM960 1026h2v3h-2zM1088 1059h5v3h-5zM949 1100h2v2h-2zM807 1186h4v3h-4zM651 876h2v2h-2zM1019 833h3v4h-3zM770 1175h3v4h-3zM618 984h4v2h-4zM1111 920h5v3h-5zM1000 1106h4v2h-4zM604 1049h4v2h-4zM952 1045h5v3h-5zM538 837h2v3h-2zM929 1126h5v4h-5zM489 1093h3v3h-3zM989 891h3v3h-3zM639 1114h3v4h-3zM822 1154h3v2h-3zM807 1168h4v4h-4zM636 1121h4v2h-4zM556 1067h3v3h-3zM540 1095h4v4h-4zM981 1060h3v3h-3zM649 1199h3v4h-3zM982 876h4v3h-4zM626 1022h3v4h-3zM990 1180h3v4h-3zM1071 891h4v2h-4zM669 1191h3v3h-3zM714 1133h5v4h-5zM698 1261h2v3h-2zM513 1065h5v2h-5zM982 1133h5v3h-5zM738 1193h4v4h-4zM918 1098h4v3h-4zM1041 948h5v4h-5zM710 1159h3v3h-3zM825 1159h5v3h-5zM651 1076h3v4h-3zM592 1095h5v2h-5zM717 1224h4v4h-4zM1019 1004h5v3h-5zM1091 1094h2v2h-2zM635 909h3v3h-3zM949 899h2v2h-2zM650 1101h5v3h-5zM590 1103h3v3h-3zM625 960h5v3h-5zM685 1134h3v3h-3zM716 1194h3v4h-3zM599 916h3v3h-3zM628 901h3v3h-3zM987 1066h3v3h-3zM785 1239h2v2h-2zM599 1028h5v2h-5zM1027 947h4v4h-4zM970 928h2v4h-2zM951 898h3v2h-3zM627 1118h3v2h-3zM797 1177h3v3h-3zM924 1217h3v3h-3zM965 1156h4v3h-4zM932 1089h2v3h-2zM538 946h3v4h-3zM637 1083h5v3h-5zM857 1216h4v4h-4zM735 1205h5v3h-5zM936 1109h2v4h-2zM977 1144h3v3h-3zM574 927h3v4h-3zM1058 936h5v3h-5zM468 879h3v2h-3zM967 969h5v3h-5zM717 1208h3v3h-3zM678 861h2v2h-2zM975 876h2v4h-2zM700 1196h4v2h-4zM692 1167h3v4h-3zM1019 1080h4v3h-4zM615 794h2v3h-2zM595 1075h3v2h-3zM954 1077h5v2h-5zM641 841h3v3h-3zM969 1034h3v2h-3zM916 1169h3v3h-3zM674 1115h3v3h-3zM490 853h3v3h-3zM584 1209h2v3h-2zM909 1252h3v4h-3zM611 1074h2v3h-2zM662 1201h3v3h-3zM623 1112h3v4h-3zM932 1111h2v4h-2zM651 895h4v4h-4zM704 1136h2v3h-2zM1155 841h3v3h-3zM870 1177h5v3h-5zM1060 1079h5v3h-5zM812 1159h4v2h-4zM967 943h3v4h-3zM797 1168h4v4h-4zM628 1039h2v3h-2zM501 968h3v3h-3zM975 1013h4v3h-4zM959 952h2v3h-2zM489 937h2v2h-2zM1037 1106h3v3h-3zM813 1180h5v3h-5zM963 937h5v4h-5zM867 1237h2v4h-2zM1008 845h3v2h-3zM583 763h2v4h-2zM615 921h5v4h-5zM936 1115h3v4h-3zM514 1002h3v2h-3zM588 888h3v3h-3zM619 1038h2v3h-2zM652 1147h3v2h-3zM709 1190h2v4h-2zM565 928h5v3h-5zM633 798h4v3h-4zM627 850h5v2h-5zM1022 987h2v4h-2zM675 1120h5v4h-5zM1019 1051h4v2h-4zM997 1127h3v3h-3zM1038 1065h5v3h-5zM553 1077h3v3h-3zM796 1233h5v2h-5zM962 933h4v3h-4zM590 1075h4v4h-4zM971 1117h4v3h-4zM627 901h3v3h-3zM684 1125h4v3h-4zM732 1160h3v3h-3zM644 855h2v3h-2zM804 1165h3v3h-3zM720 1187h2v2h-2zM634 1146h2v4h-2zM984 1079h2v3h-2zM746 1154h3v2h-3zM680 1149h2v3h-2zM610 1126h3v4h-3zM680 1269h5v3h-5zM977 1147h3v4h-3zM797 1243h3v4h-3zM697 1128h5v3h-5zM757 1188h5v3h-5zM644 1089h3v2h-3zM816 1295h4v4h-4zM648 899h4v3h-4zM1043 927h5v2h-5zM603 827h3v4h-3zM1054 1008h3v4h-3zM636 1133h3v3h-3zM902 1239h2v3h-2zM781 1220h3v3h-3zM1061 992h2v3h-2zM1025 1079h4v3h-4zM595 1267h3v3h-3zM842 1206h2v2h-2zM707 1207h4v3h-4zM618 973h5v3h-5zM795 1208h3v2h-3zM874 1311h3v4h-3zM656 1158h2v3h-2zM1074 997h5v3h-5zM992 1106h3v3h-3zM611 1032h3v4h-3zM584 930h2v2h-2zM761 1171h3v3h-3zM1056 1135h4v3h-4zM1021 1059h2v3h-2zM986 1076h2v4h-2zM853 1180h3v4h-3zM587 1015h4v3h-4zM710 1177h3v3h-3zM545 950h3v4h-3zM953 1167h2v3h-2zM627 894h2v3h-2zM624 819h5v2h-5zM742 1160h2v2h-2zM928 1206h4v3h-4zM497 1002h3v4h-3zM994 885h5v3h-5zM765 1234h2v2h-2zM943 1070h4v4h-4zM953 1175h3v3h-3zM659 863h3v2h-3zM971 982h5v2h-5zM764 1182h3v4h-3zM678 1133h3v3h-3zM612 843h4v2h-4zM792 1173h3v4h-3zM511 994h5v4h-5zM971 954h3v3h-3zM978 971h3v4h-3zM1055 1032h5v3h-5zM1007 959h3v4h-3zM957 874h3v2h-3zM888 1135h5v3h-5zM852 1197h4v2h-4zM937 1081h4v2h-4zM707 1222h5v4h-5zM979 861h3v4h-3zM609 1199h4v3h-4zM633 1075h4v3h-4zM634 1140h2v2h-2zM791 1215h3v3h-3zM988 949h5v3h-5zM844 1299h4v2h-4zM797 1212h3v3h-3zM1022 1010h5v4h-5zM689 1221h4v3h-4zM586 962h2v2h-2zM933 1147h3v2h-3zM681 1171h5v4h-5zM907 1145h4v3h-4zM1018 1045h2v3h-2zM1006 1044h3v2h-3zM820 1276h3v2h-3zM793 1169h2v3h-2zM667 1173h5v2h-5zM1008 1026h3v2h-3zM803 1155h4v2h-4zM607 963h4v2h-4zM992 908h3v3h-3zM603 991h4v2h-4zM844 1164h4v3h-4zM841 1286h3v4h-3zM926 1086h3v4h-3zM586 867h4v2h-4zM901 1135h4v4h-4zM963 956h3v3h-3zM965 973h2v4h-2zM703 1128h2v4h-2zM740 1163h3v2h-3zM863 1267h4v2h-4zM934 1197h3v4h-3zM543 1009h3v3h-3zM808 1297h5v2h-5zM584 966h5v2h-5zM653 1197h3v4h-3zM1057 816h3v3h-3zM564 892h4v2h-4zM584 1064h2v3h-2zM1085 1120h4v3h-4zM608 834h2v2h-2zM985 893h4v3h-4zM965 1229h4v2h-4zM527 993h3v3h-3zM715 1188h4v4h-4zM761 1149h5v4h-5zM964 988h5v3h-5zM634 1070h3v4h-3zM536 856h3v3h-3zM660 1107h3v2h-3zM487 795h2v3h-2zM968 961h2v2h-2zM639 922h3v4h-3zM996 983h3v3h-3zM586 823h3v3h-3zM994 1118h3v3h-3zM1115 1137h4v3h-4zM703 1180h2v2h-2zM1055 873h4v2h-4zM595 908h4v3h-4zM644 1107h2v4h-2zM576 1081h4v4h-4zM617 863h5v2h-5zM1027 1013h4v3h-4zM494 953h5v3h-5zM530 1176h2v3h-2zM587 1067h3v2h-3zM909 1167h2v2h-2zM574 1159h4v4h-4zM542 1028h5v3h-5zM577 934h2v3h-2zM654 1150h4v3h-4zM598 949h4v4h-4zM723 1163h5v4h-5zM911 1122h2v2h-2zM715 1138h2v4h-2zM944 1243h2v3h-2zM661 1146h3v3h-3zM958 1190h5v3h-5zM842 1173h5v3h-5zM593 1104h3v2h-3zM886 1293h5v3h-5zM516 915h4v2h-4zM884 1126h5v3h-5zM593 973h2v4h-2zM618 1236h5v3h-5zM1098 881h4v4h-4zM627 979h2v3h-2zM973 1019h4v4h-4zM957 1181h3v3h-3zM506 859h3v2h-3zM682 1152h5v3h-5zM1022 1090h5v2h-5zM524 970h4v4h-4zM763 1264h4v3h-4zM1107 843h2v3h-2zM615 1066h4v3h-4zM623 1064h5v3h-5zM599 939h3v3h-3zM997 943h2v2h-2zM643 859h5v4h-5zM962 931h5v3h-5zM674 1130h3v3h-3zM948 1065h2v3h-2zM772 1195h4v4h-4zM900 1192h3v4h-3zM978 962h2v3h-2zM685 1134h3v3h-3zM910 1128h3v3h-3zM982 1164h2v3h-2zM741 1145h2v3h-2zM621 955h2v2h-2zM591 920h3v2h-3zM454 898h3v3h-3zM1011 951h5v3h-5zM1076 884h3v4h-3zM577 976h3v4h-3zM619 977h4v3h-4zM555 1101h3v4h-3zM970 1067h3v3h-3zM701 1221h2v3h-2zM845 1184h4v4h-4zM668 861h3v3h-3zM1043 904h2v3h-2zM990 982h2v3h-2zM557 995h2v2h-2zM1015 992h3v2h-3zM657 1202h5v3h-5zM654 1227h4v3h-4zM884 1249h3v4h-3zM624 925h3v4h-3zM610 972h3v3h-3zM998 912h4v4h-4zM824 1192h3v3h-3zM592 918h3v3h-3zM622 1203h5v3h-5zM714 1183h5v2h-5zM934 1251h4v3h-4zM632 1043h4v4h-4zM760 1204h2v4h-2zM443 968h4v2h-4zM1075 994h2v3h-2zM964 966h2v2h-2zM591 934h3v2h-3zM951 899h3v4h-3zM956 959h2v3h-2zM1000 1013h3v3h-3zM855 1192h3v3h-3zM955 891h2v2h-2zM597 991h2v3h-2zM701 1163h3v3h-3zM623 1206h3v3h-3zM987 1120h3v3h-3zM617 1044h5v3h-5zM1007 1023h5v2h-5zM966 1100h2v2h-2zM686 1179h3v3h-3zM992 925h4v3h-4zM1060 1059h2v3h-2zM640 1206h5v3h-5zM1000 956h5v3h-5zM1022 1122h3v2h-3zM1046 1129h2v4h-2zM981 990h5v2h-5zM607 1119h5v3h-5zM960 1140h2v3h-2zM965 890h4v4h-4zM794 1258h3v3h-3zM599 974h2v3h-2zM625 1128h5v4h-5zM794 1267h3v3h-3zM751 1245h3v2h-3zM703 1143h3v3h-3zM733 1149h3v4h-3zM771 1216h5v3h-5zM907 1178h5v3h-5zM640 1172h4v4h-4zM1059 931h5v3h-5zM618 1010h4v4h-4zM660 1177h5v3h-5zM1029 941h5v2h-5zM845 1237h3v4h-3zM760 1166h3v3h-3zM994 1018h3v3h-3zM710 1166h3v3h-3zM961 953h3v4h-3zM960 944h4v3h-4zM588 945h2v4h-2zM581 981h2v4h-2zM964 1195h3v3h-3zM726 1171h5v2h-5zM644 905h4v3h-4zM825 1223h3v4h-3zM1030 1103h4v4h-4zM587 1205h3v3h-3zM656 1156h3v3h-3zM841 1262h4v4h-4zM651 1082h3v4h-3zM482 900h4v4h-4zM874 1225h5v4h-5zM709 1180h3v3h-3zM970 954h2v3h-2zM670 876h3v4h-3zM1154 942h3v2h-3zM615 1106h4v3h-4zM791 1200h3v2h-3zM556 870h5v3h-5zM789 1234h4v4h-4zM780 1249h3v3h-3zM776 1173h5v2h-5zM1015 945h3v2h-3zM1071 1060h3v2h-3zM651 1078h5v3h-5zM566 1052h4v4h-4zM953 1036h3v3h-3zM977 946h2v2h-2zM983 944h5v2h-5zM962 1038h4v3h-4zM1094 1008h5v3h-5zM829 1271h4v3h-4zM962 890h2v3h-2zM973 945h3v3h-3zM1024 837h3v4h-3zM638 901h3v2h-3zM766 1271h4v3h-4zM1056 978h4v3h-4zM1096 895h3v4h-3zM1025 1085h3v3h-3zM811 1264h5v3h-5zM571 912h5v4h-5zM638 1062h5v4h-5zM738 1232h4v4h-4zM645 1198h3v4h-3zM556 813h3v2h-3zM856 1157h3v2h-3zM1022 992h2v4h-2zM647 1107h2v4h-2zM965 934h3v4h-3zM742 1286h5v3h-5zM750 1159h3v3h-3zM747 1174h5v4h-5zM806 1219h4v4h-4zM805 1230h5v3h-5zM495 888h5v3h-5zM704 1141h2v3h-2zM1001 1111h5v3h-5zM838 1213h3v3h-3zM948 1144h3v4h-3zM1009 1227h4v2h-4zM843 1238h5v4h-5zM822 1250h4v3h-4zM930 1140h5v4h-5zM907 1196h2v3h-2zM570 1189h2v2h-2zM596 1006h3v2h-3zM589 1168h3v3h-3zM498 856h2v4h-2zM1003 1083h3v4h-3zM1027 1139h2v4h-2zM787 1174h5v3h-5zM751 1168h5v2h-5zM637 1220h2v3h-2zM797 1185h3v3h-3zM575 943h4v3h-4zM798 1171h3v4h-3zM959 1000h2v4h-2zM600 1056h4v3h-4zM675 1149h3v3h-3zM1004 1051h4v4h-4zM960 1023h4v3h-4zM882 1179h3v3h-3zM895 1169h2v3h-2zM561 1004h3v3h-3zM471 1146h2v4h-2zM536 951h4v4h-4zM844 1170h3v3h-3zM853 1159h3v2h-3zM565 782h2v4h-2zM632 1055h2v2h-2zM987 1001h5v3h-5zM851 1195h4v3h-4zM984 1131h3v3h-3zM1100 1159h5v2h-5zM536 972h2v2h-2zM617 1189h4v3h-4zM1037 1110h3v2h-3zM610 1117h3v2h-3zM564 858h4v3h-4zM920 1108h5v3h-5zM929 1267h4v3h-4zM603 973h2v4h-2zM728 1231h4v3h-4zM629 791h5v3h-5zM571 1072h3v4h-3zM822 1204h5v2h-5zM1040 827h4v4h-4zM937 1161h3v3h-3zM752 1167h2v3h-2zM1023 908h2v4h-2zM611 835h2v2h-2zM683 1194h5v4h-5zM1027 949h3v4h-3zM776 1201h3v2h-3zM643 1068h4v3h-4zM534 1084h5v4h-5zM862 1140h4v3h-4zM995 1139h5v3h-5zM513 921h2v2h-2zM648 898h5v4h-5zM1040 1203h3v3h-3zM600 890h4v2h-4zM611 959h3v4h-3zM601 840h3v3h-3zM804 1184h3v3h-3zM938 1153h2v3h-2zM1002 1116h4v3h-4zM630 890h5v4h-5zM633 851h2v3h-2zM511 1095h5v2h-5zM960 975h5v3h-5zM645 1142h2v3h-2zM544 1087h4v4h-4zM1003 978h3v3h-3zM1032 930h3v4h-3zM509 1069h2v3h-2zM529 812h3v4h-3zM620 1052h4v3h-4zM988 1011h3v2h-3zM720 1144h2v4h-2zM757 1237h4v3h-4zM670 1115h3v4h-3zM638 881h3v2h-3zM1034 1218h4v3h-4zM998 1022h3v3h-3zM617 826h3v2h-3zM985 1215h3v2h-3zM638 1133h4v2h-4zM930 1118h2v3h-2zM814 1199h2v3h-2zM1016 872h5v2h-5zM774 1219h4v2h-4zM914 1111h4v3h-4zM892 1174h5v3h-5zM1020 1052h3v4h-3zM598 998h5v3h-5zM590 1005h3v3h-3zM636 843h2v4h-2zM485 1060h4v3h-4zM878 1162h2v3h-2zM1004 966h2v4h-2zM642 837h4v3h-4zM810 1183h4v2h-4zM669 1105h2v3h-2zM1038 945h2v4h-2zM554 1012h5v3h-5zM971 953h3v4h-3zM684 1221h3v3h-3zM679 1184h5v2h-5zM864 1191h2v2h-2zM1031 919h3v3h-3zM852 1156h3v3h-3zM724 1150h4v2h-4zM959 951h3v2h-3zM621 879h4v3h-4zM966 883h5v3h-5zM1011 923h5v3h-5zM769 1223h3v4h-3zM522 1136h4v3h-4zM1004 1027h3v2h-3zM1004 951h4v2h-4zM659 1127h3v3h-3zM782 1205h3v3h-3zM954 876h3v3h-3zM680 1159h3v3h-3zM618 1004h5v3h-5zM731 1146h2v3h-2zM1004 911h5v4h-5zM1096 922h3v4h-3zM562 786h5v2h-5zM840 1192h2v3h-2zM786 1174h2v4h-2zM663 1163h4v3h-4zM757 1268h4v3h-4zM628 901h3v3h-3zM898 1155h3v4h-3zM828 1154h4v4h-4zM609 1000h2v2h-2zM598 1068h4v4h-4zM712 1263h5v3h-5zM1025 1110h3v3h-3zM652 1136h2v3h-2zM1003 1065h4v3h-4zM1012 966h4v3h-4zM1036 941h5v3h-5zM756 1223h5v3h-5zM641 822h4v2h-4zM638 822h2v3h-2zM913 1242h5v4h-5zM572 893h3v3h-3zM637 1252h2v2h-2zM584 805h3v3h-3zM692 1118h3v3h-3zM583 889h3v2h-3zM609 960h5v3h-5zM954 1145h3v3h-3zM984 1114h3v2h-3zM985 946h4v3h-4zM1181 971h3v2h-3zM741 1163h2v2h-2zM534 1065h3v3h-3zM776 1173h5v2h-5zM757 1203h3v3h-3zM565 728h2v3h-2zM719 1150h3v2h-3zM699 1149h2v2h-2zM1021 910h5v3h-5zM627 1274h2v2h-2zM568 813h3v3h-3zM1082 1064h5v3h-5zM620 850h2v3h-2zM991 868h3v2h-3zM841 1181h3v4h-3zM966 925h2v4h-2zM993 984h3v4h-3zM751 1153h4v4h-4zM910 1146h3v2h-3zM989 1062h3v3h-3zM843 1191h3v4h-3zM1014 1077h3v4h-3zM813 1153h3v3h-3zM1085 955h2v3h-2zM979 890h3v3h-3zM568 940h3v3h-3zM628 1095h3v2h-3zM922 1130h5v4h-5zM549 961h2v2h-2zM1061 846h3v3h-3zM841 1222h3v2h-3zM633 939h3v4h-3zM947 1166h2v3h-2zM838 1287h3v3h-3zM1005 951h3v2h-3zM639 838h5v3h-5zM743 1177h3v3h-3zM672 845h5v3h-5zM975 904h3v3h-3zM664 1094h2v3h-2zM904 1112h2v2h-2zM884 1230h3v3h-3zM633 900h4v2h-4zM524 1102h4v4h-4zM1093 987h3v2h-3zM849 1166h5v3h-5zM766 1183h4v4h-4zM639 817h3v2h-3zM609 1000h3v3h-3zM569 910h4v4h-4zM638 1086h3v3h-3zM602 1013h5v3h-5zM639 1069h3v3h-3zM1032 852h3v4h-3zM597 831h2v2h-2zM620 1062h3v2h-3zM556 904h3v3h-3zM848 1169h5v3h-5zM543 938h3v4h-3zM573 1066h4v2h-4zM607 892h3v3h-3zM975 956h3v3h-3zM886 1142h2v3h-2zM828 1163h3v4h-3zM975 1027h3v4h-3zM1020 1143h4v3h-4zM567 990h2v4h-2zM500 1131h3v2h-3zM640 1061h3v3h-3zM892 1151h3v3h-3zM717 1162h5v4h-5zM550 1217h3v3h-3zM680 1273h3v2h-3zM1058 948h4v3h-4zM673 1185h3v4h-3zM1036 933h3v3h-3zM576 905h3v2h-3zM1012 1095h3v2h-3zM1037 926h5v2h-5zM1031 1023h3v3h-3zM1074 1007h3v3h-3zM552 1082h2v3h-2zM1003 885h5v4h-5zM566 818h2v4h-2zM731 1187h3v4h-3zM1016 1125h3v2h-3zM763 1301h5v4h-5zM666 849h4v3h-4zM518 1045h2v2h-2zM578 1000h4v2h-4zM1074 864h4v2h-4zM979 1065h3v3h-3zM727 1158h2v3h-2zM994 867h5v3h-5zM1044 927h5v3h-5zM520 868h2v4h-2zM610 1037h4v2h-4zM1074 836h3v4h-3zM789 1204h4v3h-4zM475 1057h4v2h-4zM833 1197h2v2h-2zM992 969h3v2h-3zM608 896h2v3h-2zM510 918h4v2h-4zM595 929h5v4h-5zM599 1054h2v3h-2zM1045 1016h2v3h-2zM1030 1051h3v3h-3zM612 782h3v3h-3zM785 1244h2v2h-2zM831 1165h5v4h-5zM579 875h3v2h-3zM918 1135h5v2h-5zM567 968h2v3h-2zM856 1165h4v2h-4zM674 1273h3v2h-3zM802 1172h2v3h-2zM975 893h4v4h-4zM1020 967h5v2h-5zM624 949h3v4h-3zM503 1048h2v2h-2zM796 1231h5v4h-5zM619 1096h4v4h-4zM607 973h3v2h-3zM963 1115h4v4h-4zM650 864h4v3h-4zM562 934h3v4h-3zM695 1284h3v2h-3zM1003 1123h4v3h-4zM824 1287h3v3h-3zM989 982h3v4h-3zM1024 935h4v4h-4zM638 836h5v2h-5zM1008 1021h5v4h-5zM521 957h4v3h-4zM658 1202h3v3h-3zM801 1180h5v3h-5zM750 1247h3v4h-3zM860 1227h2v3h-2zM1005 839h5v2h-5zM935 1105h4v3h-4zM693 1256h4v4h-4zM1051 839h5v3h-5zM609 1138h4v2h-4zM626 953h4v3h-4zM589 885h3v3h-3zM654 847h5v3h-5zM627 1256h3v4h-3zM917 1206h3v4h-3zM864 1240h4v3h-4zM624 922h4v4h-4zM866 1164h2v3h-2zM863 1259h2v3h-2z" fill="#357cae"/>
<rect x="1040" y="1025" width="16" height="4" rx="2" fill="#2f89bb"/>
<rect x="1072" y="1032" width="20" height="4" rx="2" fill="#2f89bb"/>
<rect x="1110" y="1048" width="8" height="4" rx="2" fill="#2f89bb"/>
<rect x="1125" y="1050" width="6" height="4" rx="2" fill="#2f89bb"/>
<rect x="1150" y="1055" width="6" height="4" rx="2" fill="#2f89bb"/>
<rect x="1170" y="1040" width="8" height="4" rx="2" fill="#2f89bb"/>
<rect x="1178" y="998" width="6" height="4" rx="2" fill="#2f89bb"/>
<rect x="1105" y="1085" width="8" height="4" rx="2" fill="#2f89bb"/>
<rect x="1020" y="1072" width="10" height="4" rx="2" fill="#2f89bb"/>
<rect x="1190" y="1118" width="6" height="4" rx="2" fill="#2f89bb"/>
<path d="M680.2 786.8L645.8 725.9L650.4 723.4L683.8 784.9zM664.1 767.3L590.5 642.3L596.5 638.9L667.9 765.1zM644.6 744.0L517.6 536.8L525.5 532.1L648.9 741.4zM712.4 837.6L650.4 723.4L655.0 720.9L715.0 836.2zM735.4 859.6L669.1 714.0L673.9 711.9L737.7 858.6zM717.7 812.8L626.0 601.8L632.8 599.0L720.8 811.5zM728.4 829.9L640.4 617.4L646.9 614.8L731.2 828.8zM720.2 800.9L599.6 494.8L608.2 491.5L723.5 799.7zM718.2 785.6L628.9 546.8L636.6 544.0L721.7 784.3zM883.1 582.9L893.2 537.3L901.0 539.1L890.1 584.5zM887.3 596.3L897.3 554.7L904.8 556.5L894.1 598.0zM895.3 593.5L900.3 573.9L907.5 575.8L902.1 595.4zM900.3 573.9L909.2 539.6L917.0 541.6L907.5 575.8zM916.1 598.3L927.6 561.8L935.0 564.2L922.8 600.5zM935.9 606.1L946.2 578.5L953.3 581.2L942.5 608.6zM950.0 568.4L971.5 510.9L979.8 514.0L957.3 571.2zM953.3 601.2L976.8 544.5L984.5 547.8L960.0 604.1zM952.1 622.3L977.2 564.6L984.5 567.8L958.4 625.2zM974.6 589.6L987.0 562.5L994.3 565.9L981.5 592.8zM986.1 583.2L1007.6 538.2L1015.4 542.0L993.1 586.6zM991.9 589.0L1008.2 556.5L1015.6 560.3L998.9 592.5zM995.5 629.9L1019.3 587.9L1026.2 591.9L1001.7 633.5zM1066.4 643.9L1076.2 631.6L1082.3 636.6L1072.3 648.7zM1056.6 667.9L1078.6 641.1L1084.6 646.1L1062.1 672.5zM1051.6 684.8L1096.6 632.1L1102.8 637.4L1056.8 689.4zM1074.0 670.0L1108.1 631.4L1114.3 636.9L1079.5 674.9zM1369.6 580.6L1380.2 573.1L1385.9 581.4L1375.2 588.7zM1328.7 609.4L1339.4 601.9L1344.7 609.6L1333.9 616.9zM1283.8 641.1L1298.5 630.8L1303.4 637.9L1288.6 648.0zM1265.8 653.8L1275.6 646.9L1280.3 653.7L1270.4 660.4zM1218.4 687.3L1238.8 672.8L1243.2 679.1L1222.6 693.2zM1177.6 716.1L1193.9 704.5L1197.8 710.2L1181.3 721.5zM1144.9 739.1L1153.0 733.4L1156.5 738.4L1148.3 744.1zM888.6 1215.4L890.8 1220.7L888.9 1221.4L886.8 1216.1zM803.5 1187.9L803.8 1193.7L801.7 1193.8L801.5 1188.0zM551.7 998.8L529.8 999.8L529.8 998.2L551.6 997.3zM1028.1 939.2L1033.9 938.1L1034.4 940.3L1028.5 941.4zM1006.6 1021.4L1013.2 1022.5L1012.8 1024.7L1006.2 1023.6zM570.2 975.5L557.4 974.8L557.6 972.4L570.3 973.2zM932.4 1226.2L936.9 1234.0L935.3 1235.0L930.8 1227.2zM948.7 1241.0L958.8 1257.6L956.7 1259.0L946.6 1242.3zM1030.4 889.4L1046.0 883.0L1046.9 885.2L1031.3 891.5zM671.7 1092.2L665.0 1097.9L663.9 1096.6L670.6 1090.9zM883.8 1272.2L888.6 1287.5L885.5 1288.5L880.8 1273.1z" fill="#2f89bb"/>
<path d="M645.8 725.9L517.7 499.6L526.3 494.9L650.4 723.4zM590.5 642.3L464.6 428.7L474.4 423.0L596.5 638.9zM640.4 617.4L544.8 386.5L555.3 382.2L646.9 614.8zM923.8 399.2L927.8 381.4L938.3 383.9L934.0 401.6zM939.7 327.5L946.1 298.7L958.1 301.5L951.2 330.1zM909.2 539.6L924.5 480.4L933.3 482.7L917.0 541.6zM924.5 480.4L931.9 451.7L941.3 454.2L933.3 482.7zM934.0 443.7L943.7 406.1L953.8 408.8L943.5 446.2zM917.5 539.9L923.2 519.4L931.3 521.8L925.3 542.2zM923.2 519.4L932.6 485.6L941.3 488.1L931.3 521.8zM932.6 485.6L950.4 421.2L960.3 424.0L941.3 488.1zM954.1 407.8L964.5 370.3L975.3 373.4L964.2 410.7zM925.5 541.4L942.8 482.9L951.6 485.5L933.3 543.8zM947.7 466.3L953.1 448.3L962.4 451.2L956.8 469.1zM957.0 434.9L971.2 387.2L981.6 390.4L966.6 437.9zM973.3 379.8L983.4 346.0L994.5 349.4L983.9 383.1zM987.9 330.8L996.6 301.4L1008.5 305.1L999.3 334.3zM929.9 554.4L937.3 530.8L945.3 533.4L937.4 556.8zM941.8 516.8L946.3 502.2L954.8 505.0L949.9 519.5zM946.3 502.2L956.0 471.7L965.0 474.6L954.8 505.0zM960.2 458.4L966.5 438.4L976.0 441.5L969.4 461.3zM969.8 428.0L981.3 391.3L991.7 394.7L979.5 431.2zM982.9 386.2L990.6 361.9L1001.5 365.4L993.4 389.6zM995.3 346.9L1009.8 300.8L1021.8 304.7L1006.5 350.5zM1009.8 300.8L1010.6 298.4L1022.6 302.3L1021.8 304.7zM940.9 546.4L959.6 490.5L968.3 493.5L948.6 549.0zM976.8 439.1L983.3 419.7L993.2 423.1L986.4 442.4zM987.5 407.3L1002.2 363.2L1013.1 367.0L997.6 410.8zM1003.6 359.0L1012.4 332.7L1023.8 336.6L1014.6 362.8zM967.0 497.1L988.1 437.4L997.7 440.9L975.5 500.2zM971.5 510.9L987.2 468.9L996.2 472.4L979.8 514.0zM1005.6 419.6L1017.6 387.5L1028.1 391.5L1015.5 423.4zM964.5 552.9L989.6 489.2L998.3 492.7L972.0 556.0zM989.6 489.2L1009.6 438.5L1019.1 442.4L998.3 492.7zM1009.6 438.5L1013.4 428.7L1023.1 432.7L1019.1 442.4zM976.8 544.5L997.1 495.4L1005.7 499.0L984.5 547.8zM1003.7 479.4L1019.9 440.5L1029.4 444.5L1012.6 483.2zM1019.9 440.5L1038.7 395.1L1049.0 399.4L1029.4 444.5zM1040.1 391.8L1050.2 367.3L1061.0 371.9L1050.4 396.2zM1050.2 367.3L1059.0 346.1L1070.1 350.8L1061.0 371.9zM1062.2 338.4L1072.1 314.4L1083.8 319.4L1073.4 343.2zM981.3 555.1L1002.2 507.1L1010.5 510.8L988.8 558.5zM1004.6 501.4L1025.0 454.6L1034.3 458.7L1013.1 505.2zM1025.0 454.6L1046.1 406.1L1056.2 410.6L1034.3 458.7zM1051.6 393.4L1052.7 390.9L1063.1 395.5L1061.9 398.0zM991.7 552.0L1020.0 490.0L1028.6 494.1L999.3 555.5zM1024.6 479.8L1048.7 426.9L1058.5 431.5L1033.4 483.9zM1048.7 426.9L1075.4 368.4L1086.2 373.4L1058.5 431.5zM1081.3 355.5L1095.0 325.5L1106.5 330.8L1092.3 360.6zM1007.6 538.2L1023.8 504.3L1032.1 508.4L1015.4 542.0zM1023.8 504.3L1053.7 441.5L1063.2 446.2L1032.1 508.4zM1074.1 398.8L1082.9 380.4L1093.4 385.5L1084.3 403.8zM1084.5 376.8L1090.6 364.2L1101.4 369.5L1095.2 382.0zM1038.8 495.0L1064.7 443.0L1074.2 447.8L1047.3 499.4zM1035.1 522.9L1055.1 484.4L1063.9 489.0L1043.2 527.2zM1058.7 477.6L1067.1 461.4L1076.2 466.2L1067.5 482.3zM1067.1 461.4L1082.9 431.1L1092.5 436.2L1076.2 466.2zM1011.7 585.0L1021.4 567.3L1028.6 571.4L1018.7 588.9zM1027.4 556.3L1046.0 522.0L1054.1 526.5L1034.8 560.4zM1046.0 522.0L1056.2 503.2L1064.6 507.9L1054.1 526.5zM1078.6 461.9L1111.7 401.0L1121.8 406.7L1087.7 467.0zM1119.0 387.5L1129.9 367.4L1140.7 373.4L1129.4 393.3zM1019.3 587.9L1041.3 549.0L1048.9 553.4L1026.2 591.9zM1048.1 537.1L1082.2 476.8L1091.0 481.9L1055.9 541.6zM1094.5 455.0L1106.8 433.2L1116.5 438.7L1103.7 460.3zM998.1 639.7L1018.1 605.7L1024.7 609.7L1004.1 643.3zM1010.5 646.3L1023.2 626.4L1029.5 630.4L1016.5 650.2zM1079.2 586.4L1117.4 532.9L1125.3 538.6L1086.2 591.5zM1117.4 532.9L1132.5 511.8L1140.7 517.8L1125.3 538.6zM1093.4 581.7L1114.6 553.1L1122.1 558.8L1100.5 587.0zM1123.2 541.4L1148.9 506.8L1157.2 513.0L1131.0 547.2zM1151.0 503.9L1164.4 485.8L1173.0 492.4L1159.4 510.2zM1169.9 478.3L1196.4 442.5L1205.8 449.7L1178.7 484.9zM1204.6 431.4L1213.4 419.5L1223.3 426.9L1214.3 438.6zM1088.5 602.5L1101.1 586.1L1108.1 591.5L1095.2 607.7zM1179.6 483.8L1189.2 471.3L1198.1 478.3L1188.4 490.6zM1078.5 628.7L1106.1 594.0L1112.9 599.5L1084.7 633.7zM1146.1 543.7L1178.6 502.8L1187.0 509.6L1153.8 549.9zM1180.7 500.2L1210.5 462.7L1219.6 470.1L1189.1 507.1zM1082.8 636.0L1100.6 614.5L1107.1 619.9L1088.9 641.1zM1103.7 610.7L1114.9 597.1L1121.6 602.8L1110.2 616.2zM1114.9 597.1L1127.8 581.5L1134.8 587.4L1121.6 602.8zM1131.3 577.3L1171.0 529.0L1179.0 535.7L1138.4 583.2zM1177.8 520.8L1215.0 475.6L1223.9 483.1L1185.8 527.6zM1223.8 465.0L1244.3 440.1L1253.8 448.1L1232.8 472.6zM1244.3 440.1L1252.7 429.9L1262.4 438.0L1253.8 448.1zM1118.5 606.5L1131.9 590.7L1138.8 596.7L1125.1 612.2zM1138.6 582.9L1161.3 556.4L1168.7 562.9L1145.6 589.0zM1161.3 556.4L1180.7 533.7L1188.5 540.5L1168.7 562.9zM1180.7 533.7L1183.2 530.8L1191.1 537.6L1188.5 540.5zM1118.0 620.3L1164.0 568.2L1171.3 574.7L1124.3 626.0zM1171.6 559.7L1201.5 525.8L1209.5 533.0L1179.0 566.3zM1201.5 525.8L1220.2 504.7L1228.5 512.2L1209.5 533.0z" fill="#2896c5"/>
<path d="M517.7 499.6L434.5 352.5L445.7 346.3L526.3 494.9zM650.4 723.4L520.6 484.3L529.4 479.6L655.0 720.9zM669.1 714.0L560.4 475.6L569.4 471.6L673.9 711.9zM544.7 441.0L538.5 427.4L548.3 423.0L554.3 436.8zM539.9 403.7L529.5 379.9L540.2 375.4L550.1 399.4zM1018.1 605.7L1053.6 545.4L1061.3 550.0L1024.7 609.7zM1053.6 545.4L1086.5 489.6L1095.1 494.8L1061.3 550.0zM1086.5 489.6L1098.1 469.9L1107.1 475.3L1095.1 494.8zM1100.5 465.8L1119.1 434.2L1128.7 439.9L1109.5 471.3zM1127.8 419.5L1136.4 404.9L1146.5 411.0L1137.6 425.5zM1136.4 404.9L1154.9 373.4L1165.6 379.8L1146.5 411.0zM1033.4 595.5L1049.6 569.0L1056.9 573.6L1040.2 599.8zM1054.7 560.8L1076.7 524.8L1084.8 529.8L1062.1 565.4zM1076.7 524.8L1099.4 487.8L1108.1 493.2L1084.8 529.8zM1102.9 482.2L1112.2 467.0L1121.2 472.6L1111.6 487.7zM1112.2 467.0L1144.8 413.7L1154.8 419.9L1121.2 472.6zM1152.3 401.6L1173.4 367.1L1184.1 373.9L1162.4 407.9zM1029.9 615.9L1043.2 595.0L1050.0 599.4L1036.4 620.0zM1050.7 583.3L1067.6 556.7L1075.1 561.6L1057.7 587.8zM1067.6 556.7L1079.2 538.5L1087.0 543.6L1075.1 561.6zM1081.5 535.0L1095.7 512.6L1103.9 518.0L1089.3 540.1zM1098.8 507.8L1113.4 484.9L1122.1 490.6L1107.1 513.2zM1120.3 474.0L1154.5 420.4L1164.3 426.8L1129.2 479.8zM1163.5 406.2L1184.1 373.9L1194.8 380.8L1173.6 412.7zM1032.4 626.1L1055.6 591.1L1062.4 595.7L1038.7 630.3zM1055.6 591.1L1074.4 562.6L1081.8 567.6L1062.4 595.7zM1080.3 553.8L1114.1 502.6L1122.5 508.3L1087.8 558.8zM1114.1 502.6L1127.2 482.8L1136.0 488.7L1122.5 508.3zM1127.2 482.8L1142.2 460.2L1151.4 466.3L1136.0 488.7zM1142.2 460.2L1174.4 411.5L1184.4 418.3L1151.4 466.3zM1180.9 401.8L1194.2 381.6L1204.7 388.7L1191.0 408.6zM1041.8 625.7L1075.8 576.3L1082.9 581.3L1048.1 630.0zM1075.8 576.3L1099.5 541.8L1107.2 547.2L1082.9 581.3zM1103.3 536.2L1127.0 501.7L1135.4 507.6L1111.1 541.7zM1131.4 495.4L1154.1 462.3L1163.2 468.7L1139.9 501.3zM1154.1 462.3L1166.1 444.8L1175.5 451.4L1163.2 468.7zM1203.8 390.0L1205.3 387.9L1215.7 395.1L1214.2 397.2z" fill="#2aa5d6"/>
<path d="M520.6 484.3L445.7 346.3L456.9 340.4L529.4 479.6zM560.4 475.6L544.7 441.0L554.3 436.8L569.4 471.6zM538.5 427.4L491.2 323.6L502.8 318.5L548.3 423.0zM611.0 523.7L605.9 510.6L614.2 507.4L619.1 520.5zM1015.6 323.2L1023.5 299.5L1035.5 303.6L1027.2 327.2zM1061.9 340.5L1065.0 333.1L1075.2 337.5L1072.1 344.8zM1146.1 440.9L1173.2 398.9L1182.4 405.0L1154.6 446.5zM1177.8 414.0L1191.8 393.2L1201.0 399.5L1186.8 420.1zM1196.6 427.0L1205.4 414.8L1214.3 421.4L1205.4 433.4zM1211.3 431.6L1221.5 418.0L1230.4 424.8L1219.9 438.2zM1125.1 487.0L1138.9 466.1L1147.1 471.6L1132.9 492.2zM1084.0 531.8L1100.2 506.5L1107.7 511.4L1091.2 536.4z" fill="#4ee137"/>
<path d="M621.7 657.0L556.6 532.0L564.6 527.9L627.5 654.1z" fill="#25731a"/>
<path d="M556.6 532.0L493.4 410.4L503.5 405.3L564.6 527.9zM665.2 718.0L604.1 589.9L611.0 586.6L669.9 715.8z" fill="#efee3e"/>
<path d="M493.4 410.4L456.4 339.5L467.8 333.7L503.5 405.3z" fill="#d8d835"/>
<path d="M627.5 654.1L583.8 566.4L591.2 562.8L633.3 651.2z" fill="#eb0d32"/>
<path d="M583.8 566.4L525.8 450.0L535.2 445.4L591.2 562.8z" fill="#c6001d"/>
<path d="M525.8 450.0L491.4 381.1L502.0 375.9L535.2 445.4z" fill="#b2000c"/>
<path d="M491.4 381.1L467.8 333.7L479.2 328.1L502.0 375.9z" fill="#9a0000"/>
<path d="M604.1 589.9L552.4 481.6L561.3 477.4L611.0 586.6z" fill="#d0d230"/>
<path d="M552.4 481.6L518.0 409.3L528.1 404.6L561.3 477.4z" fill="#d2ab22"/>
<path d="M518.0 409.3L496.4 364.2L507.4 359.1L528.1 404.6z" fill="#da961b"/>
<path d="M496.4 364.2L479.7 329.0L491.2 323.6L507.4 359.1z" fill="#df8217"/>
<path d="M713.4 760.8L641.6 558.1L649.1 555.5L717.3 759.4zM715.0 749.6L699.3 702.2L702.3 701.2L717.5 748.8zM607.3 720.6L587.3 691.9L589.9 690.1L609.7 719.0zM1116.9 760.2L1125.1 754.4L1127.1 757.3L1118.8 763.0zM1088.2 780.3L1098.0 773.4L1099.9 776.0L1090.0 782.8zM1039.1 814.7L1075.9 788.9L1077.7 791.3L1040.6 816.9zM1002.3 840.6L1030.9 820.5L1032.4 822.5L1003.5 842.4zM957.2 872.1L990.0 849.2L991.2 850.9L958.2 873.6zM916.3 900.9L949.0 877.9L950.0 879.2L917.0 901.9zM1024.8 1025.0L1046.4 1028.5L1046.1 1030.1L1024.5 1026.4zM786.3 1236.2L786.1 1242.1L783.8 1242.0L784.0 1236.1zM637.1 920.5L629.5 917.3L630.2 915.7L637.7 919.0zM992.0 913.7L1005.0 908.9L1005.6 910.5L992.6 915.2zM693.2 1275.9L690.5 1283.7L687.4 1282.7L690.2 1274.8zM664.9 851.0L654.1 839.5L655.3 838.4L666.0 849.9zM648.3 824.3L635.8 810.2L637.5 808.7L649.9 822.9zM575.6 830.1L568.7 825.1L569.7 823.7L576.6 828.7zM1068.0 1001.8L1080.9 1002.5L1080.8 1004.5L1067.9 1003.7zM962.6 1114.7L975.1 1124.1L974.2 1125.2L961.8 1115.8zM611.2 781.8L599.5 768.7L601.7 766.8L613.2 780.0zM610.3 1019.5L604.2 1020.6L604.0 1019.2L610.1 1018.2zM780.8 1172.3L780.0 1184.3L778.5 1184.2L779.4 1172.2zM1001.3 1157.9L1005.4 1161.3L1004.4 1162.4L1000.4 1159.0zM1104.0 963.6L1110.5 963.2L1110.6 964.8L1104.1 965.3zM953.9 1016.0L961.7 1017.5L961.5 1018.8L953.7 1017.3zM1020.8 934.8L1032.3 932.2L1032.7 934.1L1021.2 936.6zM840.0 1308.7L846.7 1355.2L843.9 1355.6L837.5 1309.0zM878.2 1377.9L883.5 1402.4L880.3 1403.0L875.2 1378.6zM726.1 1310.0L722.0 1329.6L719.4 1329.1L723.7 1309.5zM582.6 1130.4L520.6 1172.6L519.2 1170.5L581.5 1128.8zM539.7 1147.0L472.0 1189.6L470.5 1187.1L538.5 1145.0zM1039.9 1029.5L1064.5 1033.7L1064.1 1035.8L1039.5 1031.4zM1084.9 1058.5L1114.0 1065.6L1113.4 1068.1L1084.3 1060.7zM1130.4 1033.0L1162.1 1037.4L1161.7 1040.2L1130.0 1035.6z" fill="#357cae"/>
<path d="M1132.5 467.9L1148.9 442.8L1157.4 448.4L1140.6 473.3zM1175.4 436.5L1186.8 420.1L1195.7 426.3L1184.0 442.6z" fill="#33a023"/>
<path d="M1028.9 580.2L1033.9 571.5L1040.4 575.3L1035.2 583.9z" fill="#40c12b"/>
<path d="M804.7 1256.5L805.3 1268.7L803.0 1268.7L802.6 1256.6zM937.5 1076.1L948.1 1082.6L947.2 1084.1L936.6 1077.5zM644.5 869.8L636.8 863.7L637.5 862.7L645.3 868.9zM892.7 1273.2L897.8 1287.8L896.1 1288.4L891.1 1273.7zM600.4 929.1L581.7 923.5L582.1 922.1L600.8 927.8zM1012.7 934.1L1022.2 931.9L1022.6 933.8L1013.1 936.1zM892.8 1223.8L900.5 1242.0L898.6 1242.8L891.1 1224.5zM667.5 1190.7L657.4 1206.9L656.1 1206.1L666.3 1189.9z" fill="#3b70a3"/>
<circle cx="440.6" cy="350.3" r="6.4" fill="#2aa5d6"/>
<circle cx="470.0" cy="426.7" r="5.7" fill="#2896c5"/>
<circle cx="522.1" cy="535.3" r="4.6" fill="#2f89bb"/>
<circle cx="451.7" cy="344.2" r="6.4" fill="#4ee137"/>
<circle cx="462.5" cy="337.5" r="6.4" fill="#d8d835"/>
<circle cx="473.9" cy="331.8" r="6.4" fill="#9a0000"/>
<circle cx="485.8" cy="327.2" r="6.4" fill="#df8217"/>
<circle cx="497.4" cy="321.9" r="6.4" fill="#4ee137"/>
<circle cx="535.2" cy="378.5" r="5.8" fill="#2aa5d6"/>
<circle cx="550.4" cy="385.3" r="5.7" fill="#2896c5"/>
<circle cx="604.3" cy="494.1" r="4.6" fill="#2f89bb"/>
<circle cx="633.1" cy="546.3" r="4.1" fill="#2f89bb"/>
<circle cx="645.7" cy="557.7" r="4.0" fill="#357cae"/>
<circle cx="896.7" cy="540.1" r="4.0" fill="#2f89bb"/>
<circle cx="887.1" cy="581.8" r="3.6" fill="#2f89bb"/>
<circle cx="929.4" cy="398.4" r="5.3" fill="#2896c5"/>
<circle cx="951.6" cy="302.0" r="6.2" fill="#2896c5"/>
<circle cx="945.9" cy="326.8" r="5.9" fill="#2896c5"/>
<circle cx="900.6" cy="557.5" r="3.9" fill="#2f89bb"/>
<circle cx="891.2" cy="595.2" r="3.5" fill="#2f89bb"/>
<circle cx="895.0" cy="608.2" r="3.4" fill="#2f89bb"/>
<circle cx="899.2" cy="592.5" r="3.5" fill="#2f89bb"/>
<circle cx="904.5" cy="572.9" r="3.7" fill="#2f89bb"/>
<circle cx="928.4" cy="483.5" r="4.6" fill="#2896c5"/>
<circle cx="913.6" cy="538.7" r="4.0" fill="#2896c5"/>
<circle cx="929.5" cy="479.6" r="4.6" fill="#2896c5"/>
<circle cx="948.3" cy="409.4" r="5.2" fill="#2896c5"/>
<circle cx="939.3" cy="443.0" r="4.9" fill="#2896c5"/>
<circle cx="921.9" cy="539.1" r="4.0" fill="#2896c5"/>
<circle cx="927.8" cy="518.7" r="4.2" fill="#2896c5"/>
<circle cx="937.5" cy="484.9" r="4.5" fill="#2896c5"/>
<circle cx="969.4" cy="373.7" r="5.6" fill="#2896c5"/>
<circle cx="959.7" cy="407.3" r="5.2" fill="#2896c5"/>
<circle cx="924.7" cy="557.7" r="3.9" fill="#2f89bb"/>
<circle cx="908.9" cy="609.5" r="3.4" fill="#2f89bb"/>
<circle cx="930.0" cy="540.6" r="4.1" fill="#2896c5"/>
<circle cx="952.9" cy="465.8" r="4.7" fill="#2896c5"/>
<circle cx="962.4" cy="434.5" r="5.0" fill="#2896c5"/>
<circle cx="979.2" cy="379.5" r="5.5" fill="#2896c5"/>
<circle cx="1002.0" cy="305.2" r="6.2" fill="#2896c5"/>
<circle cx="994.2" cy="330.7" r="6.0" fill="#2896c5"/>
<circle cx="920.1" cy="597.5" r="3.6" fill="#2f89bb"/>
<circle cx="934.3" cy="553.7" r="4.0" fill="#2896c5"/>
<circle cx="950.0" cy="505.5" r="4.4" fill="#2896c5"/>
<circle cx="946.5" cy="516.2" r="4.3" fill="#2896c5"/>
<circle cx="951.2" cy="501.7" r="4.4" fill="#2896c5"/>
<circle cx="970.6" cy="441.9" r="5.0" fill="#2896c5"/>
<circle cx="965.4" cy="457.9" r="4.8" fill="#2896c5"/>
<circle cx="985.9" cy="394.9" r="5.5" fill="#2896c5"/>
<circle cx="975.2" cy="427.7" r="5.1" fill="#2896c5"/>
<circle cx="988.8" cy="385.9" r="5.5" fill="#2896c5"/>
<circle cx="1015.2" cy="304.7" r="6.3" fill="#2896c5"/>
<circle cx="1001.5" cy="346.8" r="5.9" fill="#2896c5"/>
<circle cx="1016.0" cy="302.2" r="6.3" fill="#2896c5"/>
<circle cx="1016.4" cy="300.9" r="6.3" fill="#2896c5"/>
<circle cx="963.3" cy="493.8" r="4.6" fill="#2896c5"/>
<circle cx="945.4" cy="545.8" r="4.1" fill="#2896c5"/>
<circle cx="987.6" cy="423.3" r="5.2" fill="#2896c5"/>
<circle cx="982.3" cy="438.8" r="5.0" fill="#2896c5"/>
<circle cx="993.2" cy="407.1" r="5.3" fill="#2896c5"/>
<circle cx="1017.5" cy="336.5" r="6.0" fill="#2896c5"/>
<circle cx="1009.7" cy="359.0" r="5.8" fill="#2896c5"/>
<circle cx="926.4" cy="621.8" r="3.4" fill="#2f89bb"/>
<circle cx="971.9" cy="496.7" r="4.5" fill="#2896c5"/>
<circle cx="940.0" cy="605.5" r="3.5" fill="#2f89bb"/>
<circle cx="975.0" cy="514.3" r="4.4" fill="#2f89bb"/>
<circle cx="954.4" cy="567.9" r="3.9" fill="#2f89bb"/>
<circle cx="976.4" cy="510.6" r="4.4" fill="#2896c5"/>
<circle cx="1022.1" cy="391.4" r="5.6" fill="#2896c5"/>
<circle cx="1011.3" cy="419.6" r="5.3" fill="#2896c5"/>
<circle cx="940.2" cy="624.0" r="3.4" fill="#2f89bb"/>
<circle cx="969.0" cy="552.6" r="4.1" fill="#2896c5"/>
<circle cx="994.7" cy="489.1" r="4.7" fill="#2896c5"/>
<circle cx="1017.5" cy="432.5" r="5.2" fill="#2896c5"/>
<circle cx="1015.1" cy="438.6" r="5.1" fill="#2896c5"/>
<circle cx="957.4" cy="600.8" r="3.6" fill="#2f89bb"/>
<circle cx="1000.6" cy="499.0" r="4.6" fill="#2896c5"/>
<circle cx="981.4" cy="544.3" r="4.2" fill="#2896c5"/>
<circle cx="1023.8" cy="444.4" r="5.2" fill="#2896c5"/>
<circle cx="1008.9" cy="479.4" r="4.8" fill="#2896c5"/>
<circle cx="1043.1" cy="399.1" r="5.6" fill="#2896c5"/>
<circle cx="1025.4" cy="440.7" r="5.2" fill="#2896c5"/>
<circle cx="1046.0" cy="392.1" r="5.6" fill="#2896c5"/>
<circle cx="1056.4" cy="367.7" r="5.9" fill="#2896c5"/>
<circle cx="1077.2" cy="318.7" r="6.4" fill="#2896c5"/>
<circle cx="1068.6" cy="338.9" r="6.1" fill="#2896c5"/>
<circle cx="980.1" cy="568.0" r="4.0" fill="#2f89bb"/>
<circle cx="956.0" cy="621.9" r="3.5" fill="#2f89bb"/>
<circle cx="985.9" cy="555.0" r="4.1" fill="#2896c5"/>
<circle cx="1028.8" cy="458.4" r="5.1" fill="#2896c5"/>
<circle cx="1009.7" cy="501.4" r="4.6" fill="#2896c5"/>
<circle cx="1050.3" cy="410.1" r="5.5" fill="#2896c5"/>
<circle cx="1030.5" cy="454.8" r="5.1" fill="#2896c5"/>
<circle cx="1057.1" cy="395.0" r="5.7" fill="#2896c5"/>
<circle cx="1057.6" cy="393.8" r="5.6" fill="#2896c5"/>
<circle cx="959.7" cy="630.6" r="3.4" fill="#2f89bb"/>
<circle cx="978.9" cy="589.4" r="3.8" fill="#2f89bb"/>
<circle cx="996.4" cy="551.9" r="4.2" fill="#2896c5"/>
<circle cx="1052.8" cy="431.0" r="5.4" fill="#2896c5"/>
<circle cx="1029.9" cy="480.1" r="4.9" fill="#2896c5"/>
<circle cx="1054.5" cy="427.4" r="5.4" fill="#2896c5"/>
<circle cx="1099.9" cy="329.9" r="6.3" fill="#2896c5"/>
<circle cx="1087.6" cy="356.2" r="6.1" fill="#2896c5"/>
<circle cx="990.5" cy="583.1" r="3.9" fill="#2f89bb"/>
<circle cx="1027.1" cy="508.1" r="4.7" fill="#2896c5"/>
<circle cx="1012.3" cy="538.3" r="4.3" fill="#2896c5"/>
<circle cx="1057.5" cy="445.6" r="5.3" fill="#2896c5"/>
<circle cx="1028.8" cy="504.5" r="4.7" fill="#2896c5"/>
<circle cx="1080.1" cy="399.5" r="5.7" fill="#2896c5"/>
<circle cx="1095.1" cy="368.6" r="6.0" fill="#2896c5"/>
<circle cx="1090.7" cy="377.6" r="5.9" fill="#2896c5"/>
<circle cx="1011.0" cy="560.1" r="4.2" fill="#2f89bb"/>
<circle cx="996.3" cy="589.0" r="3.9" fill="#2f89bb"/>
<circle cx="1044.0" cy="495.4" r="4.8" fill="#2896c5"/>
<circle cx="1040.1" cy="523.3" r="4.6" fill="#2896c5"/>
<circle cx="1070.8" cy="465.6" r="5.2" fill="#2896c5"/>
<circle cx="1064.1" cy="478.2" r="5.0" fill="#2896c5"/>
<circle cx="1086.8" cy="435.4" r="5.5" fill="#2896c5"/>
<circle cx="1072.6" cy="462.0" r="5.2" fill="#2896c5"/>
<circle cx="1010.1" cy="596.3" r="3.9" fill="#2f89bb"/>
<circle cx="984.7" cy="642.0" r="3.4" fill="#2f89bb"/>
<circle cx="1024.0" cy="571.1" r="4.2" fill="#2896c5"/>
<circle cx="1016.2" cy="585.2" r="4.0" fill="#2896c5"/>
<circle cx="1049.1" cy="525.9" r="4.6" fill="#2896c5"/>
<circle cx="1032.1" cy="556.6" r="4.3" fill="#2896c5"/>
<circle cx="1059.4" cy="507.3" r="4.8" fill="#2896c5"/>
<circle cx="1051.0" cy="522.4" r="4.6" fill="#2896c5"/>
<circle cx="1084.1" cy="462.7" r="5.2" fill="#2896c5"/>
<circle cx="1134.3" cy="372.1" r="6.2" fill="#2896c5"/>
<circle cx="1125.2" cy="388.7" r="6.0" fill="#2896c5"/>
<circle cx="999.6" cy="629.9" r="3.6" fill="#2f89bb"/>
<circle cx="1023.8" cy="588.2" r="4.0" fill="#2896c5"/>
<circle cx="1053.0" cy="537.6" r="4.5" fill="#2896c5"/>
<circle cx="1110.7" cy="437.7" r="5.6" fill="#2896c5"/>
<circle cx="1100.1" cy="455.9" r="5.3" fill="#2896c5"/>
<circle cx="1002.1" cy="639.8" r="3.5" fill="#2896c5"/>
<circle cx="1022.5" cy="606.0" r="3.9" fill="#2aa5d6"/>
<circle cx="1058.5" cy="546.0" r="4.5" fill="#2aa5d6"/>
<circle cx="1101.5" cy="474.3" r="5.2" fill="#2aa5d6"/>
<circle cx="1091.8" cy="490.5" r="5.0" fill="#2aa5d6"/>
<circle cx="1122.9" cy="438.8" r="5.6" fill="#2aa5d6"/>
<circle cx="1106.1" cy="466.8" r="5.3" fill="#2aa5d6"/>
<circle cx="1133.7" cy="420.8" r="5.7" fill="#2aa5d6"/>
<circle cx="1159.3" cy="378.3" r="6.2" fill="#2aa5d6"/>
<circle cx="1142.5" cy="406.2" r="5.9" fill="#2aa5d6"/>
<circle cx="1001.4" cy="654.4" r="3.4" fill="#2896c5"/>
<circle cx="1052.2" cy="573.0" r="4.3" fill="#2aa5d6"/>
<circle cx="1037.9" cy="595.9" r="4.0" fill="#2aa5d6"/>
<circle cx="1079.7" cy="529.0" r="4.7" fill="#2aa5d6"/>
<circle cx="1059.5" cy="561.4" r="4.4" fill="#2aa5d6"/>
<circle cx="1102.7" cy="492.1" r="5.1" fill="#2aa5d6"/>
<circle cx="1081.8" cy="525.6" r="4.7" fill="#2aa5d6"/>
<circle cx="1108.3" cy="483.2" r="5.2" fill="#2aa5d6"/>
<circle cx="1117.8" cy="468.1" r="5.3" fill="#2aa5d6"/>
<circle cx="1177.7" cy="372.2" r="6.3" fill="#2aa5d6"/>
<circle cx="1158.4" cy="403.0" r="6.0" fill="#2aa5d6"/>
<circle cx="1014.6" cy="646.5" r="3.5" fill="#2896c5"/>
<circle cx="1045.6" cy="598.9" r="4.1" fill="#2aa5d6"/>
<circle cx="1034.3" cy="616.3" r="3.8" fill="#2aa5d6"/>
<circle cx="1055.3" cy="583.9" r="4.2" fill="#2aa5d6"/>
<circle cx="1072.5" cy="557.4" r="4.5" fill="#2aa5d6"/>
<circle cx="1086.5" cy="535.8" r="4.7" fill="#2aa5d6"/>
<circle cx="1104.0" cy="508.8" r="5.0" fill="#2aa5d6"/>
<circle cx="1158.3" cy="425.3" r="5.9" fill="#2aa5d6"/>
<circle cx="1125.9" cy="475.2" r="5.3" fill="#2aa5d6"/>
<circle cx="1188.4" cy="379.0" r="6.3" fill="#2aa5d6"/>
<circle cx="1169.7" cy="407.7" r="6.0" fill="#2aa5d6"/>
<circle cx="1036.6" cy="626.5" r="3.8" fill="#2aa5d6"/>
<circle cx="1060.1" cy="591.7" r="4.1" fill="#2aa5d6"/>
<circle cx="1085.1" cy="554.6" r="4.5" fill="#2aa5d6"/>
<circle cx="1130.5" cy="487.4" r="5.3" fill="#2aa5d6"/>
<circle cx="1119.4" cy="503.8" r="5.1" fill="#2aa5d6"/>
<circle cx="1132.7" cy="484.1" r="5.3" fill="#2aa5d6"/>
<circle cx="1178.3" cy="416.5" r="6.0" fill="#2aa5d6"/>
<circle cx="1147.9" cy="461.6" r="5.5" fill="#2aa5d6"/>
<circle cx="1198.4" cy="386.8" r="6.3" fill="#2aa5d6"/>
<circle cx="1187.1" cy="403.5" r="6.1" fill="#2aa5d6"/>
<circle cx="1046.1" cy="626.2" r="3.8" fill="#2aa5d6"/>
<circle cx="1080.5" cy="577.1" r="4.3" fill="#2aa5d6"/>
<circle cx="1108.4" cy="537.3" r="4.8" fill="#2aa5d6"/>
<circle cx="1136.8" cy="496.7" r="5.2" fill="#2aa5d6"/>
<circle cx="1159.8" cy="463.8" r="5.6" fill="#2aa5d6"/>
<circle cx="1209.3" cy="393.1" r="6.3" fill="#2aa5d6"/>
<circle cx="1210.2" cy="392.0" r="6.3" fill="#2aa5d6"/>
<circle cx="1083.9" cy="587.3" r="4.3" fill="#2896c5"/>
<circle cx="1135.4" cy="516.4" r="5.1" fill="#2896c5"/>
<circle cx="1122.5" cy="534.1" r="4.9" fill="#2896c5"/>
<circle cx="1098.2" cy="582.7" r="4.4" fill="#2896c5"/>
<circle cx="1151.8" cy="511.5" r="5.2" fill="#2896c5"/>
<circle cx="1128.3" cy="542.7" r="4.8" fill="#2896c5"/>
<circle cx="1167.5" cy="490.7" r="5.4" fill="#2896c5"/>
<circle cx="1156.4" cy="505.4" r="5.2" fill="#2896c5"/>
<circle cx="1175.6" cy="480.0" r="5.5" fill="#2896c5"/>
<circle cx="1217.2" cy="424.8" r="6.2" fill="#2896c5"/>
<circle cx="1210.7" cy="433.4" r="6.0" fill="#2896c5"/>
<circle cx="1059.9" cy="646.0" r="3.8" fill="#2f89bb"/>
<circle cx="1034.5" cy="678.5" r="3.4" fill="#2f89bb"/>
<circle cx="1103.4" cy="590.4" r="4.4" fill="#2896c5"/>
<circle cx="1093.1" cy="603.5" r="4.2" fill="#2896c5"/>
<circle cx="1192.4" cy="476.4" r="5.7" fill="#2896c5"/>
<circle cx="1185.2" cy="485.6" r="5.5" fill="#2896c5"/>
<circle cx="1078.0" cy="635.7" r="4.0" fill="#2f89bb"/>
<circle cx="1070.6" cy="644.8" r="3.8" fill="#2f89bb"/>
<circle cx="1108.3" cy="598.3" r="4.4" fill="#2896c5"/>
<circle cx="1082.9" cy="629.7" r="4.0" fill="#2896c5"/>
<circle cx="1181.6" cy="507.7" r="5.4" fill="#2896c5"/>
<circle cx="1151.2" cy="545.3" r="4.9" fill="#2896c5"/>
<circle cx="1213.8" cy="467.9" r="5.8" fill="#2896c5"/>
<circle cx="1186.2" cy="502.1" r="5.4" fill="#2896c5"/>
<circle cx="1060.6" cy="668.6" r="3.6" fill="#2f89bb"/>
<circle cx="1102.6" cy="618.7" r="4.2" fill="#2896c5"/>
<circle cx="1087.2" cy="637.0" r="4.0" fill="#2896c5"/>
<circle cx="1117.0" cy="601.5" r="4.4" fill="#2896c5"/>
<circle cx="1108.3" cy="611.9" r="4.3" fill="#2896c5"/>
<circle cx="1119.5" cy="598.4" r="4.4" fill="#2896c5"/>
<circle cx="1173.7" cy="533.9" r="5.2" fill="#2896c5"/>
<circle cx="1136.1" cy="578.7" r="4.6" fill="#2896c5"/>
<circle cx="1183.1" cy="522.7" r="5.3" fill="#2896c5"/>
<circle cx="1229.6" cy="467.3" r="5.9" fill="#2896c5"/>
<circle cx="1256.3" cy="435.4" r="6.3" fill="#2896c5"/>
<circle cx="1250.4" cy="442.5" r="6.2" fill="#2896c5"/>
<circle cx="1055.5" cy="685.6" r="3.5" fill="#2f89bb"/>
<circle cx="1134.1" cy="595.2" r="4.5" fill="#2896c5"/>
<circle cx="1123.1" cy="607.8" r="4.4" fill="#2896c5"/>
<circle cx="1143.4" cy="584.5" r="4.6" fill="#2896c5"/>
<circle cx="1166.3" cy="558.1" r="4.9" fill="#2896c5"/>
<circle cx="1185.8" cy="535.7" r="5.2" fill="#2896c5"/>
<circle cx="1185.9" cy="535.6" r="5.2" fill="#2896c5"/>
<circle cx="1109.9" cy="635.6" r="4.1" fill="#2f89bb"/>
<circle cx="1078.1" cy="671.0" r="3.7" fill="#2f89bb"/>
<circle cx="1166.3" cy="572.9" r="4.9" fill="#2896c5"/>
<circle cx="1122.5" cy="621.6" r="4.3" fill="#2896c5"/>
<circle cx="1176.6" cy="561.5" r="5.0" fill="#2896c5"/>
<circle cx="1223.0" cy="510.0" r="5.6" fill="#2896c5"/>
<circle cx="1206.9" cy="527.9" r="5.4" fill="#2896c5"/>
<circle cx="1025.5" cy="313.3" r="7.0" fill="#4ee137"/>
<circle cx="1185.5" cy="431.3" r="7.0" fill="#33a023"/>
<circle cx="1205.4" cy="424.1" r="7.0" fill="#4ee137"/>
<circle cx="1220.8" cy="428.1" r="7.0" fill="#4ee137"/>
<circle cx="1377.7" cy="580.9" r="5.5" fill="#2f89bb"/>
<circle cx="1336.7" cy="609.5" r="5.5" fill="#2f89bb"/>
<circle cx="1293.6" cy="639.4" r="5.5" fill="#2f89bb"/>
<circle cx="1273.1" cy="653.7" r="5.5" fill="#2f89bb"/>
<circle cx="1230.8" cy="683.1" r="4.0" fill="#2f89bb"/>
<circle cx="1187.7" cy="713.1" r="4.0" fill="#2f89bb"/>
<circle cx="1150.7" cy="738.7" r="4.0" fill="#2f89bb"/>
<ellipse cx="793.5" cy="1032.0" rx="235" ry="295" fill="url(#rg)" opacity="0.5" filter="url(#sp5)"/>
<ellipse cx="793.5" cy="999.0" rx="228" ry="245" fill="url(#rg)" filter="url(#sp1)"/>
<ellipse cx="793.5" cy="999.0" rx="218" ry="235" fill="url(#rg)" filter="url(#sp3)"/>
<circle cx="793.5" cy="987.0" r="165" fill="url(#rg)" filter="url(#sp2)"/>
<circle cx="793.5" cy="987.0" r="345" fill="url(#rh)" filter="url(#sp4)"/>
<path d="M747.3 898.3L701.2 809.6L704.3 808.0L748.9 897.5zM728.9 851.6L687.6 765.0L691.5 763.1L731.3 850.5zM977.5 648.8L991.8 622.5L997.5 625.6L982.8 651.7z" fill="#40c12b"/>
<path d="M701.2 809.6L661.4 733.3L665.9 731.0L704.3 808.0z" fill="#47d030"/>
<path d="M661.4 733.3L621.7 657.0L627.5 654.1L665.9 731.0z" fill="#33a023"/>
<path d="M748.9 897.5L707.4 814.3L710.4 812.8L750.4 896.7z" fill="#b8e030"/>
<path d="M707.4 814.3L682.8 765.1L686.7 763.2L710.4 812.8z" fill="#e4e43a"/>
<path d="M682.8 765.1L655.6 710.5L660.5 708.1L686.7 763.2z" fill="#d2ab22"/>
<path d="M655.6 710.5L627.5 654.1L633.3 651.2L660.5 708.1z" fill="#df8217"/>
<path d="M750.4 896.7L728.9 851.6L731.3 850.5L752.0 896.0zM948.7 695.8L962.8 669.3L967.8 672.0L953.2 698.2zM931.2 731.8L940.7 714.2L945.0 716.5L935.2 734.0z" fill="#4ee137"/>
<path d="M687.6 765.0L665.2 718.0L669.9 715.8L691.5 763.1z" fill="#2c8b1e"/>
<path d="M801.4 857.2L806.4 775.5L810.1 775.7L803.7 857.4zM803.7 857.4L809.0 789.8L812.5 790.1L806.0 857.6zM806.1 857.6L809.3 824.2L811.8 824.5L808.1 857.8zM809.7 820.8L815.3 763.2L818.7 763.6L812.2 821.0zM808.2 857.8L816.1 789.0L819.5 789.4L810.5 858.1zM810.6 858.1L821.2 778.0L824.4 778.5L812.6 858.4zM812.7 858.4L820.5 806.5L823.6 807.0L815.0 858.8zM815.0 858.8L824.1 804.4L827.2 804.9L817.2 859.2zM813.8 877.3L822.1 832.5L824.8 833.1L815.7 877.7zM823.5 825.2L829.8 791.4L833.2 792.1L826.3 825.8zM821.8 848.0L836.4 776.0L840.1 776.8L824.2 848.6zM825.7 841.6L835.2 798.9L838.5 799.6L828.3 842.1zM827.5 845.5L847.7 761.2L851.6 762.2L829.9 846.1zM826.7 858.7L845.5 785.9L849.0 786.8L828.9 859.3zM826.4 868.2L834.8 837.9L837.4 838.7L828.5 868.8zM836.2 833.0L845.0 801.4L848.2 802.3L838.9 833.8zM832.3 863.9L852.3 800.6L855.5 801.7L834.5 864.6zM840.0 848.0L864.3 775.3L868.0 776.6L842.4 848.9zM834.3 872.2L861.3 796.2L864.2 797.3L836.0 872.9zM836.7 877.4L860.8 816.1L863.8 817.3L838.6 878.2zM841.5 871.0L872.8 795.6L876.1 797.0L843.5 871.9zM849.8 857.6L881.1 785.6L884.6 787.1L852.0 858.6zM847.7 868.1L871.0 816.9L874.0 818.3L849.7 869.1zM848.8 871.0L871.9 822.6L874.8 824.0L850.8 872.0zM841.2 891.6L859.9 854.2L861.9 855.2L842.6 892.4zM865.3 843.4L891.3 791.3L894.3 792.8L867.5 844.6zM843.9 894.2L878.6 830.3L881.3 831.8L845.5 895.1zM860.5 868.5L885.1 825.1L887.9 826.7L862.6 869.7zM879.0 867.3L920.2 809.7L922.9 811.7L880.9 868.7zM872.7 879.9L921.4 814.2L924.4 816.5L874.6 881.3zM876.9 878.3L900.2 847.9L902.6 849.8L878.8 879.7zM903.0 844.3L934.8 802.9L938.0 805.4L905.4 846.3zM867.6 894.0L920.1 828.2L922.5 830.2L869.0 895.2zM884.7 876.6L927.7 824.6L930.1 826.7L886.4 878.0zM879.9 885.8L930.6 826.5L933.4 828.9L881.7 887.4zM879.4 890.0L916.8 847.6L919.2 849.8L881.0 891.5zM893.3 878.3L940.9 826.4L943.4 828.7L894.9 879.9zM880.7 895.1L911.7 862.4L913.9 864.5L882.3 896.6zM873.8 905.3L917.8 860.6L919.9 862.7L875.2 906.7zM878.8 903.4L925.0 858.1L927.0 860.1L880.1 904.7zM898.4 887.4L943.1 845.1L945.5 847.7L900.2 889.3zM882.3 905.6L942.3 850.6L944.7 853.2L883.8 907.1z" fill="#3b70a3"/>
<path d="M818.0 772.1L820.1 753.6L824.2 754.1L821.7 772.6zM820.1 753.6L822.9 728.7L827.4 729.2L824.2 754.1zM821.2 778.0L827.0 734.2L830.9 734.8L824.4 778.5zM822.2 795.1L828.4 753.7L832.4 754.3L825.5 795.6zM829.5 746.1L831.7 731.4L836.2 732.1L833.7 746.7zM831.0 784.9L839.7 738.0L844.0 738.8L834.5 785.6zM842.8 720.9L850.3 680.5L855.6 681.5L847.5 721.8zM847.4 721.8L851.1 703.8L856.0 704.9L852.1 722.8zM835.2 798.9L849.7 733.6L854.1 734.6L838.5 799.6zM849.7 733.6L855.2 708.8L860.0 709.9L854.1 734.6zM857.3 699.3L861.0 682.4L866.3 683.6L862.3 700.5zM848.5 758.1L860.4 708.4L865.2 709.6L852.4 759.1zM861.3 704.4L865.8 685.9L871.0 687.2L866.3 705.7zM845.5 785.9L856.0 745.3L860.2 746.4L849.0 786.8zM857.7 738.7L870.1 690.8L875.3 692.2L862.0 739.9zM848.3 789.4L861.9 740.5L866.1 741.8L851.8 790.3zM861.9 740.5L875.8 690.1L881.0 691.6L866.1 741.8zM855.5 777.7L864.6 747.1L868.7 748.3L859.1 778.8zM864.6 747.1L874.1 714.9L878.8 716.4L868.7 748.3zM877.3 704.1L893.5 649.5L899.4 651.3L882.2 705.7zM852.3 800.6L870.6 742.5L874.9 743.9L855.5 801.7zM870.6 742.5L884.3 699.1L889.3 700.7L874.9 743.9zM869.5 759.8L876.3 739.5L880.6 741.0L873.5 761.2zM879.3 730.5L900.5 667.2L906.1 669.1L883.8 732.0zM866.0 783.0L878.3 748.4L881.9 749.7L869.1 784.1zM867.0 791.0L872.9 775.2L876.2 776.5L870.0 792.1zM872.9 775.2L883.7 746.5L887.4 747.9L876.2 776.5zM885.7 741.1L892.2 724.0L896.2 725.5L889.5 742.6zM894.3 718.2L901.6 698.8L906.0 700.5L898.5 719.7zM865.5 804.2L888.8 745.0L893.0 746.7L868.7 805.5zM888.8 745.0L900.0 716.5L904.8 718.4L893.0 746.7zM876.0 787.8L884.4 767.6L888.2 769.2L879.5 789.3zM884.4 767.6L903.4 721.6L908.0 723.6L888.2 769.2zM881.1 785.6L891.4 761.8L895.3 763.5L884.6 787.1zM897.5 747.9L911.3 716.1L916.0 718.2L901.6 749.7zM911.3 716.1L924.1 686.6L929.4 688.9L916.0 718.2zM896.6 760.8L908.2 735.4L912.6 737.4L900.5 762.6zM911.7 727.7L926.7 694.8L931.8 697.1L916.2 729.8zM871.9 822.6L902.2 759.1L906.2 761.1L874.8 824.0zM898.7 776.6L915.0 743.9L918.7 745.8L901.9 778.2zM881.6 817.8L899.6 783.2L903.1 785.1L884.5 819.4zM906.7 769.6L935.0 715.1L939.7 717.6L910.5 771.6zM880.8 826.2L917.2 759.1L921.2 761.3L883.6 827.8zM917.2 759.1L943.1 711.4L947.9 714.1L921.2 761.3zM925.0 754.6L950.1 710.3L954.9 713.0L929.0 756.9zM920.2 809.7L948.3 770.5L951.6 772.9L922.9 811.7zM957.5 757.6L979.3 727.1L983.2 730.0L961.0 760.1zM923.8 810.9L955.2 768.5L958.9 771.4L926.9 813.2zM957.1 765.9L971.5 746.5L975.7 749.6L960.9 768.8zM944.3 790.4L978.3 746.1L982.5 749.4L947.7 793.1zM920.1 828.2L960.6 777.3L963.8 779.9L922.5 830.2zM970.4 765.1L989.6 741.0L993.4 744.0L973.8 767.8zM927.7 824.6L971.1 772.0L974.4 774.7L930.1 826.7zM981.5 759.4L1001.6 735.1L1005.5 738.3L985.0 762.3zM939.1 816.6L956.6 796.1L959.9 798.9L942.0 819.1zM927.7 835.3L969.7 787.9L973.1 791.0L930.3 837.7zM980.4 775.7L999.7 753.9L1003.8 757.5L984.1 779.0zM948.6 818.1L960.5 805.2L963.2 807.8L951.2 820.5zM960.5 805.2L972.4 792.2L975.3 795.0L963.2 807.8zM972.4 792.2L991.9 771.0L995.1 774.1L975.3 795.0zM991.9 771.0L1020.1 740.3L1023.8 743.8L995.1 774.1zM919.7 854.0L949.8 822.3L952.6 825.1L922.0 856.2zM958.6 813.0L999.5 769.9L1003.3 773.5L961.6 815.9zM999.5 769.9L1022.8 745.4L1027.0 749.4L1003.3 773.5zM921.0 857.3L948.0 829.8L950.7 832.5L923.2 859.5zM950.2 827.5L979.8 797.5L983.0 800.7L953.0 830.3zM987.5 789.6L1017.8 758.8L1021.7 762.7L990.9 793.0zM937.2 846.1L967.1 816.7L969.7 819.4L939.3 848.3zM967.1 816.7L1000.6 784.0L1003.6 787.2L969.7 819.4zM943.1 845.1L980.1 809.9L983.2 813.2L945.5 847.7zM950.8 842.8L955.7 838.4L958.3 841.2L953.3 845.6z" fill="#357cae"/>
<path d="M850.3 680.5L854.5 657.6L860.3 658.7L855.6 681.5zM860.7 656.5L861.3 653.8L867.1 655.1L866.5 657.7zM863.5 671.1L868.2 650.2L874.0 651.6L869.0 672.3zM875.5 645.3L884.8 606.8L891.4 608.4L881.5 646.8zM870.1 690.8L876.4 666.4L882.0 667.9L875.3 692.2zM880.6 650.1L887.1 625.2L893.4 626.9L886.5 651.7zM891.2 609.3L895.3 593.5L902.1 595.4L897.8 611.0zM877.4 684.6L881.3 670.6L886.8 672.1L882.6 686.1zM881.3 670.6L887.7 647.4L893.6 649.1L886.8 672.1zM891.3 634.4L902.8 592.8L909.7 594.8L897.4 636.2zM897.8 635.0L902.8 618.1L909.2 620.1L903.9 636.8zM905.1 610.4L921.6 554.7L929.1 557.0L911.6 612.4zM884.3 699.1L889.6 682.2L894.9 683.9L889.3 700.7zM894.8 665.6L914.6 603.0L921.3 605.1L900.4 667.5zM900.5 667.2L908.5 643.3L914.5 645.3L906.1 669.1zM908.5 643.3L914.7 624.9L921.0 627.1L914.5 645.3zM904.7 673.9L917.0 639.4L922.3 641.3L909.5 675.7zM922.6 622.5L942.3 566.9L949.6 569.5L928.9 624.8zM903.3 694.4L910.3 675.6L915.1 677.4L907.7 696.1zM914.0 665.7L933.9 612.7L939.6 614.9L918.9 667.6zM915.8 676.6L936.3 624.6L942.6 627.2L921.2 678.8zM936.3 624.6L960.8 562.4L968.2 565.4L942.6 627.2zM908.9 708.5L931.7 653.4L937.5 655.9L913.7 710.6zM933.6 648.9L949.2 611.0L955.8 613.8L939.4 651.4zM924.1 686.6L950.3 626.4L956.6 629.2L929.4 688.9zM931.4 684.3L955.7 631.0L961.9 633.9L936.7 686.8zM955.7 631.0L974.6 589.6L981.5 592.8L961.9 633.9zM944.0 685.9L962.4 649.1L967.6 651.7L948.6 688.2zM938.3 708.9L963.3 660.9L968.9 663.9L943.1 711.5zM967.9 652.0L999.1 592.1L1005.9 595.7L973.7 655.1zM980.8 642.1L1007.6 592.6L1014.5 596.4L986.8 645.4zM954.0 703.3L970.3 674.5L975.8 677.6L958.9 706.2zM849.6 891.7L872.1 853.5L874.4 854.9L851.3 892.7zM874.1 850.1L917.2 777.0L920.9 779.2L876.5 851.6zM917.2 777.0L949.8 721.6L954.4 724.4L920.9 779.2zM869.8 862.4L909.1 798.4L912.3 800.4L872.0 863.8zM909.1 798.4L940.9 746.4L945.1 749.1L912.3 800.4zM945.9 738.3L969.8 699.4L974.8 702.5L950.2 741.0zM852.9 893.7L869.0 868.4L871.1 869.8L854.5 894.8zM873.3 861.8L891.4 833.3L894.1 835.0L875.4 863.2zM891.4 833.3L920.3 787.9L923.8 790.1L894.1 835.0zM922.3 784.8L930.8 771.5L934.5 773.9L925.8 787.1zM936.4 762.7L972.0 706.8L976.9 709.9L940.3 765.2zM853.7 896.1L884.8 849.0L887.2 850.6L855.3 897.1zM886.9 845.9L923.3 790.9L926.7 793.2L889.3 847.6zM931.6 778.4L942.0 762.6L945.9 765.3L935.2 780.8zM942.0 762.6L957.3 739.5L961.6 742.4L945.9 765.3zM867.6 879.2L895.6 838.4L898.2 840.2L869.4 880.5zM895.6 838.4L940.0 773.8L943.7 776.4L898.2 840.2zM940.0 773.8L975.1 722.8L979.7 726.0L943.7 776.4zM981.5 732.9L1013.7 689.5L1018.8 693.3L985.9 736.2zM1016.8 685.2L1056.4 631.8L1062.5 636.4L1022.1 689.1zM987.1 734.7L1021.0 690.6L1026.1 694.6L991.5 738.1zM1030.6 678.0L1058.1 642.1L1064.1 646.8L1035.9 682.2zM989.6 741.0L1000.9 726.9L1004.8 730.1L993.4 744.0zM1006.2 720.1L1025.3 696.2L1029.8 699.8L1010.3 723.4zM1025.3 696.2L1056.5 657.1L1061.5 661.2L1029.8 699.8zM1035.0 694.6L1049.6 677.0L1054.3 680.9L1039.5 698.4zM1016.2 726.3L1040.5 697.8L1045.5 702.1L1020.7 730.2zM1005.7 747.1L1026.9 723.1L1031.5 727.3L1009.9 750.9zM1034.4 714.7L1064.4 680.8L1069.7 685.5L1039.1 718.9zM1022.8 745.4L1027.5 740.4L1031.8 744.5L1027.0 749.4z" fill="#2f89bb"/>
<path d="M958.4 707.0L965.7 694.7L970.7 697.8L963.3 709.9zM973.0 682.3L990.4 652.8L996.2 656.2L978.2 685.5zM975.4 690.1L995.4 657.5L1001.1 661.1L980.6 693.3zM997.4 654.3L1025.9 607.7L1032.5 611.8L1003.2 657.9zM975.3 701.6L991.7 675.9L997.1 679.4L980.3 704.8zM991.7 675.9L1005.1 654.8L1010.9 658.6L997.1 679.4zM1001.5 672.8L1032.4 626.1L1038.7 630.3L1006.9 676.5zM978.3 718.1L1006.5 677.0L1011.9 680.8L983.0 721.4zM1006.5 677.0L1034.2 636.7L1040.3 641.0L1011.9 680.8z" fill="#2896c5"/>
<circle cx="793.5" cy="987.0" r="345" fill="url(#rh2)" filter="url(#sp6)"/>
<path d="M859 1057h2v2h-2zM769 971h2v2h-2zM818 974h2v2h-2zM776 1058h2v2h-2zM829 973h2v2h-2zM741 992h2v2h-2zM792 957h2v2h-2zM804 975h2v2h-2zM770 958h2v2h-2zM831 913h2v2h-2zM804 983h2v2h-2zM786 960h2v2h-2zM803 980h2v2h-2zM789 976h2v2h-2zM778 907h2v2h-2zM834 965h2v2h-2zM772 949h2v2h-2zM790 982h2v2h-2zM802 1011h2v2h-2zM802 983h2v2h-2zM791 1010h2v2h-2zM778 911h2v2h-2zM846 1040h2v2h-2zM801 975h2v2h-2zM799 1012h2v2h-2zM808 1015h2v2h-2zM746 949h2v2h-2zM844 984h2v2h-2zM789 977h2v2h-2zM702 1023h2v2h-2zM832 952h2v2h-2zM782 990h2v2h-2zM799 976h2v2h-2zM847 990h2v2h-2zM782 976h2v2h-2zM809 933h2v2h-2zM784 991h2v2h-2zM797 1063h2v2h-2z" fill="#c6001d"/>
<path d="M775 969h2v2h-2zM764 946h2v2h-2zM805 976h2v2h-2zM820 978h2v2h-2zM855 995h2v2h-2zM781 983h2v2h-2zM795 926h2v2h-2zM802 964h2v2h-2zM802 997h2v2h-2zM795 889h2v2h-2zM818 926h2v2h-2zM924 993h2v2h-2zM796 1032h2v2h-2zM790 1021h2v2h-2zM846 1022h2v2h-2zM739 968h2v2h-2zM870 1027h2v2h-2zM798 995h2v2h-2zM875 1039h2v2h-2zM827 1084h2v2h-2zM806 973h2v2h-2zM788 960h2v2h-2zM826 968h2v2h-2zM812 933h2v2h-2zM745 962h2v2h-2zM817 968h2v2h-2zM747 1011h2v2h-2zM784 965h2v2h-2zM798 927h2v2h-2zM802 970h2v2h-2zM787 894h2v2h-2zM804 982h2v2h-2zM827 940h2v2h-2zM836 870h2v2h-2zM788 1022h2v2h-2zM849 1033h2v2h-2zM858 978h2v2h-2zM790 966h2v2h-2zM768 994h2v2h-2zM780 921h2v2h-2zM826 999h2v2h-2zM770 973h2v2h-2zM833 997h2v2h-2zM780 1020h2v2h-2zM816 937h2v2h-2zM878 997h2v2h-2zM760 1084h2v2h-2zM846 987h2v2h-2zM788 948h2v2h-2zM849 1058h2v2h-2zM811 963h2v2h-2zM870 985h2v2h-2zM802 980h2v2h-2zM805 979h2v2h-2zM801 978h2v2h-2zM801 1000h2v2h-2zM788 989h2v2h-2zM794 1012h2v2h-2zM803 983h2v2h-2zM804 983h2v2h-2zM815 987h2v2h-2zM772 982h2v2h-2zM854 996h2v2h-2zM814 917h2v2h-2zM800 976h2v2h-2zM820 967h2v2h-2zM830 966h2v2h-2zM802 1056h2v2h-2zM803 995h2v2h-2zM749 983h2v2h-2zM716 988h2v2h-2zM762 1012h2v2h-2zM802 984h2v2h-2zM841 952h2v2h-2zM788 976h2v2h-2zM795 994h2v2h-2zM823 975h2v2h-2zM804 989h2v2h-2zM764 924h2v2h-2zM781 924h2v2h-2zM707 948h2v2h-2zM798 992h2v2h-2zM852 1123h2v2h-2zM826 1040h2v2h-2zM842 998h2v2h-2zM771 968h2v2h-2zM774 1007h2v2h-2z" fill="#efee3e"/>
<path d="M807 932h2v2h-2zM829 972h2v2h-2zM789 1026h2v2h-2zM817 974h2v2h-2zM798 993h2v2h-2zM777 966h2v2h-2zM725 972h2v2h-2zM901 932h2v2h-2zM803 940h2v2h-2zM806 975h2v2h-2zM802 1043h2v2h-2zM797 1018h2v2h-2zM812 1038h2v2h-2zM842 941h2v2h-2zM804 993h2v2h-2zM794 978h2v2h-2zM791 1023h2v2h-2zM824 994h2v2h-2zM810 972h2v2h-2zM803 933h2v2h-2zM748 1040h2v2h-2zM814 1010h2v2h-2zM813 990h2v2h-2zM800 976h2v2h-2zM783 983h2v2h-2zM808 992h2v2h-2zM836 980h2v2h-2zM766 1013h2v2h-2zM822 915h2v2h-2zM842 1016h2v2h-2zM803 983h2v2h-2zM789 1051h2v2h-2zM801 982h2v2h-2zM849 986h2v2h-2zM801 983h2v2h-2zM868 1000h2v2h-2zM801 978h2v2h-2z" fill="#e4e43a"/>
<path d="M754 1019h2v2h-2zM791 944h2v2h-2zM781 1012h2v2h-2zM804 981h2v2h-2zM817 993h2v2h-2zM807 926h2v2h-2zM799 1041h2v2h-2zM803 987h2v2h-2zM740 966h2v2h-2zM815 990h2v2h-2zM791 988h2v2h-2zM806 978h2v2h-2zM822 1054h2v2h-2zM792 1111h2v2h-2zM928 967h2v2h-2zM803 950h2v2h-2zM844 959h2v2h-2zM874 917h2v2h-2zM830 908h2v2h-2zM805 985h2v2h-2zM758 975h2v2h-2zM853 1036h2v2h-2zM840 966h2v2h-2zM760 983h2v2h-2zM809 983h2v2h-2zM797 959h2v2h-2zM840 973h2v2h-2zM791 959h2v2h-2zM802 989h2v2h-2zM784 937h2v2h-2zM787 960h2v2h-2zM805 963h2v2h-2zM693 953h2v2h-2zM762 1002h2v2h-2zM785 982h2v2h-2zM797 955h2v2h-2zM816 1008h2v2h-2zM744 1031h2v2h-2zM831 958h2v2h-2z" fill="#2aa5d6"/>
<path d="M799 978h2v2h-2zM806 979h2v2h-2zM862 1032h2v2h-2zM817 988h2v2h-2zM803 982h2v2h-2zM800 1006h2v2h-2zM825 948h2v2h-2zM796 992h2v2h-2zM824 974h2v2h-2zM868 941h2v2h-2zM786 968h2v2h-2zM798 936h2v2h-2zM851 964h2v2h-2zM787 935h2v2h-2zM799 1020h2v2h-2zM684 1081h2v2h-2zM877 915h2v2h-2zM803 979h2v2h-2zM798 971h2v2h-2zM778 984h2v2h-2zM803 990h2v2h-2zM790 1038h2v2h-2zM800 981h2v2h-2zM785 974h2v2h-2zM802 972h2v2h-2zM813 995h2v2h-2zM757 971h2v2h-2zM839 952h2v2h-2zM805 983h2v2h-2zM804 1007h2v2h-2zM835 921h2v2h-2zM730 1007h2v2h-2zM819 1032h2v2h-2zM806 995h2v2h-2zM826 997h2v2h-2zM793 926h2v2h-2zM746 992h2v2h-2zM781 1024h2v2h-2zM819 955h2v2h-2zM780 947h2v2h-2zM877 968h2v2h-2zM792 925h2v2h-2zM828 1022h2v2h-2zM867 1075h2v2h-2zM789 996h2v2h-2zM776 1017h2v2h-2zM805 867h2v2h-2zM816 977h2v2h-2zM767 1030h2v2h-2zM803 982h2v2h-2zM799 989h2v2h-2zM796 993h2v2h-2zM726 957h2v2h-2zM808 990h2v2h-2zM806 977h2v2h-2zM768 1015h2v2h-2zM830 992h2v2h-2zM800 994h2v2h-2zM803 1005h2v2h-2zM816 927h2v2h-2zM793 928h2v2h-2zM816 1007h2v2h-2zM860 974h2v2h-2zM810 996h2v2h-2zM850 1032h2v2h-2zM813 930h2v2h-2zM831 1004h2v2h-2zM803 974h2v2h-2zM798 986h2v2h-2zM816 986h2v2h-2zM789 988h2v2h-2zM818 967h2v2h-2zM775 976h2v2h-2zM755 980h2v2h-2zM800 946h2v2h-2zM793 984h2v2h-2zM797 974h2v2h-2zM839 986h2v2h-2zM801 947h2v2h-2zM710 1008h2v2h-2zM809 1001h2v2h-2zM825 879h2v2h-2zM758 925h2v2h-2zM811 948h2v2h-2zM838 987h2v2h-2zM840 988h2v2h-2zM737 987h2v2h-2zM826 1007h2v2h-2zM737 970h2v2h-2zM805 973h2v2h-2zM802 987h2v2h-2zM802 983h2v2h-2zM811 991h2v2h-2zM757 978h2v2h-2zM804 979h2v2h-2zM772 980h2v2h-2zM734 1048h2v2h-2zM835 1007h2v2h-2zM845 1080h2v2h-2zM689 981h2v2h-2zM798 978h2v2h-2zM816 1048h2v2h-2zM770 934h2v2h-2zM842 1106h2v2h-2zM827 989h2v2h-2zM811 980h2v2h-2zM812 961h2v2h-2zM821 974h2v2h-2zM756 1013h2v2h-2zM808 989h2v2h-2zM762 969h2v2h-2zM787 975h2v2h-2z" fill="#4ee137"/>
<path d="M782 977h2v2h-2zM788 928h2v2h-2zM921 1034h2v2h-2zM803 979h2v2h-2zM807 1045h2v2h-2zM783 1041h2v2h-2zM739 961h2v2h-2zM825 963h2v2h-2zM797 980h2v2h-2zM744 1080h2v2h-2zM779 1051h2v2h-2zM811 990h2v2h-2zM819 944h2v2h-2zM798 985h2v2h-2zM794 955h2v2h-2zM915 879h2v2h-2zM800 958h2v2h-2zM795 840h2v2h-2zM778 972h2v2h-2zM766 1015h2v2h-2zM917 954h2v2h-2zM795 962h2v2h-2zM826 992h2v2h-2zM807 922h2v2h-2zM777 987h2v2h-2zM837 932h2v2h-2zM881 1033h2v2h-2zM827 988h2v2h-2zM809 962h2v2h-2zM801 983h2v2h-2zM812 1000h2v2h-2zM771 982h2v2h-2zM799 990h2v2h-2zM945 927h2v2h-2z" fill="#da961b"/>
<path d="M807 984h2v2h-2zM793 976h2v2h-2zM820 1049h2v2h-2zM786 1006h2v2h-2zM888 1021h2v2h-2zM728 986h2v2h-2zM836 1057h2v2h-2zM734 968h2v2h-2zM906 953h2v2h-2zM797 827h2v2h-2zM795 979h2v2h-2zM794 981h2v2h-2zM780 1029h2v2h-2zM794 953h2v2h-2zM835 1034h2v2h-2zM779 991h2v2h-2zM827 955h2v2h-2zM806 1007h2v2h-2zM799 929h2v2h-2zM819 1028h2v2h-2zM828 1003h2v2h-2zM778 984h2v2h-2zM811 949h2v2h-2zM825 956h2v2h-2zM810 984h2v2h-2zM863 1046h2v2h-2zM745 1009h2v2h-2zM823 991h2v2h-2zM823 987h2v2h-2zM786 924h2v2h-2zM802 979h2v2h-2zM782 940h2v2h-2zM757 973h2v2h-2zM850 1028h2v2h-2zM834 1008h2v2h-2zM784 1026h2v2h-2zM797 984h2v2h-2z" fill="#33a023"/>
<path d="M776 1005h2v2h-2zM825 950h2v2h-2zM863 1009h2v2h-2zM870 928h2v2h-2zM808 986h2v2h-2zM852 951h2v2h-2zM802 982h2v2h-2zM817 970h2v2h-2zM786 981h2v2h-2zM772 987h2v2h-2zM720 899h2v2h-2zM798 977h2v2h-2zM803 1008h2v2h-2zM764 895h2v2h-2zM829 968h2v2h-2zM814 1001h2v2h-2zM846 1015h2v2h-2zM826 971h2v2h-2zM866 892h2v2h-2zM808 981h2v2h-2zM822 997h2v2h-2zM803 980h2v2h-2zM806 982h2v2h-2zM803 982h2v2h-2zM822 965h2v2h-2zM856 938h2v2h-2zM810 977h2v2h-2zM790 1009h2v2h-2zM867 1028h2v2h-2zM838 1031h2v2h-2zM816 950h2v2h-2zM807 983h2v2h-2zM803 977h2v2h-2zM805 978h2v2h-2zM805 998h2v2h-2zM827 956h2v2h-2z" fill="#40c12b"/>
<circle cx="268" cy="550" r="7" fill="#2896c5"/>
<circle cx="320" cy="591" r="5" fill="#2f89bb"/>
<circle cx="357" cy="627" r="5" fill="#2f89bb"/>
<circle cx="367" cy="634" r="5" fill="#2f89bb"/>
<circle cx="395" cy="655" r="4.5" fill="#2f89bb"/>
<circle cx="405" cy="664" r="4.5" fill="#2f89bb"/>
<circle cx="418" cy="648" r="5" fill="#2896c5"/>
<circle cx="424" cy="642" r="4" fill="#2896c5"/>
<circle cx="436" cy="663" r="4" fill="#4ee137"/>
<circle cx="442" cy="660" r="3.5" fill="#4ee137"/>
<circle cx="430" cy="675" r="4.5" fill="#2f89bb"/>
<circle cx="432" cy="690" r="4" fill="#2f89bb"/>
<circle cx="450" cy="690" r="4" fill="#2f89bb"/>
<circle cx="428" cy="732" r="4" fill="#40c12b"/>
<circle cx="455" cy="708" r="5" fill="#357cae"/>
<circle cx="480" cy="727" r="4" fill="#357cae"/>
<circle cx="122" cy="846" r="6" fill="#2896c5"/>
<circle cx="335" cy="890" r="4" fill="#357cae"/>
<circle cx="233" cy="1364" r="7" fill="#2896c5"/>
<circle cx="211" cy="1380" r="6.5" fill="#2896c5"/>
<circle cx="288" cy="1328" r="6" fill="#2896c5"/>
<circle cx="336" cy="1295" r="5.5" fill="#2f89bb"/>
<circle cx="350" cy="1297" r="5.5" fill="#2f89bb"/>
<circle cx="1380" cy="580" r="6.5" fill="#2896c5"/>
<circle cx="1340" cy="606" r="6.5" fill="#2896c5"/>
<circle cx="1357" cy="859" r="5.5" fill="#2f89bb"/>
<circle cx="1227" cy="872" r="5" fill="#2f89bb"/>
<circle cx="1318" cy="934" r="5.5" fill="#2896c5"/>
<circle cx="1253" cy="1086" r="4.5" fill="#2f89bb"/>
<circle cx="1265" cy="1088" r="4.5" fill="#2f89bb"/>
<circle cx="1344" cy="1105" r="6" fill="#2896c5"/>
<circle cx="1233" cy="1383" r="7" fill="#2f89bb"/>
<circle cx="908" cy="1640" r="6.5" fill="#2896c5"/>
<circle cx="855" cy="1328" r="3.5" fill="#2f89bb"/>
<circle cx="860" cy="1358" r="4" fill="#2f89bb"/>
<circle cx="1305" cy="632" r="5" fill="#2f89bb"/>
<circle cx="1273" cy="656" r="5" fill="#2f89bb"/>
<circle cx="1227" cy="683" r="4.5" fill="#2f89bb"/>
<circle cx="1190" cy="710" r="4" fill="#2f89bb"/>
<circle cx="1143" cy="875" r="4.5" fill="#2f89bb"/>
<circle cx="1083" cy="915" r="4" fill="#2f89bb"/>
<circle cx="1065" cy="934" r="3.5" fill="#2f89bb"/>
<path d="M420 1240l18-14 6 4-18 14z" fill="#357cae"/>
<polyline points="118.1,220.0 119.3,233.8 129.4,255.2 115.5,267.8 76.6,277.8 60.2,308.0 57.7,313.0 30.1,328.1 20.0,338.2" fill="none" stroke="#808080" stroke-width="3.1" stroke-linejoin="round" stroke-linecap="round"/>
<polyline points="173.4,321.8 130.6,323.1 131.9,330.6 118.1,342.0 103.0,428.7 95.4,436.2 95.4,447.6 84.1,450.1 80.3,465.2 103.0,496.6 106.7,486.5 130.6,471.4 140.7,474.0 148.2,484.0 163.3,486.5 168.4,492.8 196.0,502.9 211.1,496.6 231.2,476.5 236.2,461.4 253.8,445.0 268.9,448.8" fill="none" stroke="#808080" stroke-width="3.1" stroke-linejoin="round" stroke-linecap="round"/>
<polyline points="103.0,496.6 85.4,514.2 61.5,529.3 43.9,501.6 52.7,496.6 31.3,462.6 41.4,458.9 35.1,438.8 48.9,435.0 61.5,412.4 20.0,350.8" fill="none" stroke="#808080" stroke-width="3.1" stroke-linejoin="round" stroke-linecap="round"/>
<polyline points="61.5,529.3 27.5,551.9 20.0,541.9" fill="none" stroke="#808080" stroke-width="3.1" stroke-linejoin="round" stroke-linecap="round"/>
<polyline points="157.0,265.3 165.8,270.3 170.9,253.9 183.4,253.9 201.0,241.4 211.1,227.5 226.2,220.0" fill="none" stroke="#808080" stroke-width="3.1" stroke-linejoin="round" stroke-linecap="round"/>
<polyline points="422.3,220.0 432.4,232.6 427.3,245.1 428.6,295.4 408.5,320.6 404.7,340.7 413.5,350.8 397.2,350.8 377.1,340.7 363.2,355.8 367.0,364.6 354.4,373.4 359.5,380.9 377.1,377.2 384.6,388.5 397.2,393.5 412.3,406.1 419.8,421.2 432.4,423.7 424.8,441.3 422.3,453.8 412.3,461.4 392.1,451.3 384.6,461.4 369.5,461.4 359.5,456.4 344.4,465.2 331.8,456.4 316.7,465.2 304.1,461.4 294.1,446.3 286.5,443.8" fill="none" stroke="#808080" stroke-width="3.1" stroke-linejoin="round" stroke-linecap="round"/>
<polyline points="432.4,232.6 447.5,240.1 470.1,243.9 480.1,248.9 482.7,230.1 500.0,227.5" fill="none" stroke="#808080" stroke-width="3.1" stroke-linejoin="round" stroke-linecap="round"/>
<polyline points="319.2,496.6 314.2,516.7 321.7,539.3 311.7,564.5 299.1,584.6 281.5,597.2 276.5,611.0 261.4,597.2 241.3,584.6" fill="none" stroke="#808080" stroke-width="3.1" stroke-linejoin="round" stroke-linecap="round"/>
<polyline points="281.5,597.2 301.6,602.2 301.6,597.2 319.2,602.2 320.5,609.7 330.5,617.3 324.2,632.4 339.3,660.0" fill="none" stroke="#808080" stroke-width="3.1" stroke-linejoin="round" stroke-linecap="round"/>
<polyline points="324.2,632.4 314.2,662.5 304.1,680.1 304.1,700.0" fill="none" stroke="#808080" stroke-width="3.1" stroke-linejoin="round" stroke-linecap="round"/>
<polyline points="419.8,573.3 349.4,644.9 407.2,700.0" fill="none" stroke="#808080" stroke-width="3.1" stroke-linejoin="round" stroke-linecap="round"/>
<polyline points="500.0,632.4 490.2,642.4 482.7,662.5 467.6,685.2 452.5,700.0" fill="none" stroke="#808080" stroke-width="3.1" stroke-linejoin="round" stroke-linecap="round"/>
<polyline points="105.5,582.1 138.2,611.0 111.8,637.4 123.1,647.5 103.0,670.1 130.6,700.0" fill="none" stroke="#808080" stroke-width="3.1" stroke-linejoin="round" stroke-linecap="round"/>
<polyline points="20.0,622.3 41.4,652.5 35.1,657.5 52.7,675.1 35.1,700.0" fill="none" stroke="#808080" stroke-width="3.1" stroke-linejoin="round" stroke-linecap="round"/>
<polyline points="500.0,220.0 522.6,221.3 536.5,235.1 532.7,248.9 577.9,266.5 595.5,272.8 615.7,274.1" fill="none" stroke="#808080" stroke-width="3.1" stroke-linejoin="round" stroke-linecap="round"/>
<polyline points="624.5,220.0 627.0,227.5 622.0,252.7 616.9,257.7 615.7,274.1 616.9,285.4 620.7,295.4 616.9,313.0 611.9,325.6 608.1,340.7 598.1,360.8 590.5,380.9 583.0,401.0 576.7,418.6 565.4,428.7" fill="none" stroke="#808080" stroke-width="3.1" stroke-linejoin="round" stroke-linecap="round"/>
<polyline points="792.9,220.0 794.2,235.1 789.2,252.7 792.9,270.3 799.2,287.9 798.0,305.5 801.7,325.6 800.5,329.4 867.1,329.4 867.1,382.2 902.3,382.2" fill="none" stroke="#808080" stroke-width="3.1" stroke-linejoin="round" stroke-linecap="round"/>
<polyline points="565.4,428.7 575.4,433.7 585.5,456.4 595.5,484.0 605.6,501.6 615.7,514.2 630.8,519.2 650.9,529.3 676.0,539.3 701.2,543.1 696.1,536.8 701.2,524.2 711.2,528.0 715.0,523.0 727.6,535.6 746.4,521.7 756.5,523.0 764.0,529.3 771.6,534.3 776.6,524.2 784.1,528.0 814.3,548.1" fill="none" stroke="#808080" stroke-width="3.1" stroke-linejoin="round" stroke-linecap="round"/>
<polyline points="500.0,441.3 515.1,450.1 532.7,445.0 545.3,451.3 560.3,446.3 566.6,431.2" fill="none" stroke="#808080" stroke-width="3.1" stroke-linejoin="round" stroke-linecap="round"/>
<polyline points="500.0,499.1 507.5,514.2 527.7,529.3 544.0,551.9 562.9,560.7 567.9,572.0 585.5,597.2 600.6,617.3 608.1,644.9 575.4,655.0 569.1,665.1 583.0,680.1 588.0,690.2 562.9,690.2 556.6,700.0" fill="none" stroke="#808080" stroke-width="3.1" stroke-linejoin="round" stroke-linecap="round"/>
<polyline points="701.2,220.0 718.8,222.5 736.4,220.0" fill="none" stroke="#808080" stroke-width="3.1" stroke-linejoin="round" stroke-linecap="round"/>
<polyline points="20.0,762.9 27.5,767.9 37.6,755.3 52.7,749.0 70.3,735.2 82.9,715.1 100.5,700.0" fill="none" stroke="#808080" stroke-width="3.1" stroke-linejoin="round" stroke-linecap="round"/>
<polyline points="52.7,749.0 111.8,805.6 100.5,816.9 85.4,801.8 71.5,815.7 100.5,840.8 116.8,834.5 160.8,873.5 160.8,876.0 188.5,901.2" fill="none" stroke="#808080" stroke-width="3.1" stroke-linejoin="round" stroke-linecap="round"/>
<polyline points="20.0,860.9 26.3,873.5 32.6,868.5 33.8,850.9 40.1,847.1 55.2,829.5 61.5,822.0 67.8,828.2 71.5,815.7" fill="none" stroke="#808080" stroke-width="3.1" stroke-linejoin="round" stroke-linecap="round"/>
<polyline points="130.6,700.0 143.2,707.5 173.4,732.7 170.9,737.7 183.4,750.3 193.5,759.1 216.1,762.9 228.7,775.4 232.5,780.5 238.8,788.0 231.2,800.6 218.6,810.6 217.4,818.2 221.2,835.8 219.9,843.3 209.8,854.6 213.6,860.9 227.4,871.0 233.7,862.2 258.9,884.8 266.4,876.0 282.8,891.1 304.1,866.0 314.2,874.8 329.3,859.7 349.4,878.5 346.9,882.3 369.5,904.9 380.8,892.4 399.7,910.0 393.4,916.2 406.0,927.6 442.4,894.9 438.7,891.1 448.7,879.8 439.9,872.2 467.6,854.6 465.1,840.8 457.5,805.6 434.9,791.8" fill="none" stroke="#808080" stroke-width="3.1" stroke-linejoin="round" stroke-linecap="round"/>
<polyline points="232.5,779.2 253.8,752.8 284.0,718.9 304.1,722.6 304.1,700.0" fill="none" stroke="#808080" stroke-width="3.1" stroke-linejoin="round" stroke-linecap="round"/>
<polyline points="304.1,722.6 321.7,737.7 319.2,762.9 312.9,777.9 314.2,788.0 362.0,809.4 379.6,814.4" fill="none" stroke="#808080" stroke-width="3.1" stroke-linejoin="round" stroke-linecap="round"/>
<polyline points="362.0,809.4 377.1,783.0 374.5,750.3 377.1,746.5 412.3,737.7 427.3,722.6 447.5,713.8 462.5,700.0" fill="none" stroke="#808080" stroke-width="3.1" stroke-linejoin="round" stroke-linecap="round"/>
<polyline points="447.5,713.8 455.0,750.3 451.2,760.3 465.1,772.9 485.2,774.2 500.0,770.4" fill="none" stroke="#808080" stroke-width="3.1" stroke-linejoin="round" stroke-linecap="round"/>
<polyline points="465.1,772.9 434.9,791.8 407.2,806.9 402.2,799.3 379.6,814.4 370.8,825.7 372.0,829.5 355.7,847.1 350.7,844.6 331.8,862.2" fill="none" stroke="#808080" stroke-width="3.1" stroke-linejoin="round" stroke-linecap="round"/>
<polyline points="467.6,854.6 473.9,859.7 482.7,853.4 486.4,855.9 500.0,843.3" fill="none" stroke="#808080" stroke-width="3.1" stroke-linejoin="round" stroke-linecap="round"/>
<polyline points="442.4,894.9 477.6,926.3 500.0,906.2" fill="none" stroke="#808080" stroke-width="3.1" stroke-linejoin="round" stroke-linecap="round"/>
<polyline points="477.6,911.2 455.0,928.8 500.0,969.0" fill="none" stroke="#808080" stroke-width="3.1" stroke-linejoin="round" stroke-linecap="round"/>
<polyline points="213.6,860.9 159.6,936.4 163.3,942.6 178.4,947.7 180.9,962.8 196.0,976.6 208.6,999.2 221.2,1001.7 226.2,1006.8 236.2,1006.8 246.3,1014.3 248.8,1026.9 247.6,1036.9 238.8,1052.0 241.3,1059.6 251.3,1064.6 252.6,1074.7 271.4,1096.0 284.0,1104.8 274.0,1117.4 281.5,1124.9 277.7,1127.5 287.8,1138.8" fill="none" stroke="#808080" stroke-width="3.1" stroke-linejoin="round" stroke-linecap="round"/>
<polyline points="172.1,943.9 149.5,966.5 158.3,976.6 145.7,991.7 134.4,982.9 119.3,999.2 77.8,960.2 41.4,999.2 57.7,1014.3 20.0,1052.0" fill="none" stroke="#808080" stroke-width="3.1" stroke-linejoin="round" stroke-linecap="round"/>
<polyline points="145.7,991.7 170.9,1015.6 134.4,1055.8 164.6,1077.2 131.9,1113.6 100.5,1150.1 79.1,1130.0 52.7,1157.6 20.0,1127.5" fill="none" stroke="#808080" stroke-width="3.1" stroke-linejoin="round" stroke-linecap="round"/>
<polyline points="131.9,1113.6 206.1,1180.0" fill="none" stroke="#808080" stroke-width="3.1" stroke-linejoin="round" stroke-linecap="round"/>
<polyline points="246.3,1014.3 268.9,989.2 274.0,991.7 284.0,980.4 306.6,1000.5 319.2,989.2 328.0,982.9 324.2,974.1 328.0,970.3 321.7,964.0 344.4,942.6 356.9,954.0 372.0,937.6 375.8,946.4 383.3,954.0 390.9,947.7 406.0,927.6" fill="none" stroke="#808080" stroke-width="3.1" stroke-linejoin="round" stroke-linecap="round"/>
<polyline points="306.6,1000.5 290.3,1020.6 314.2,1043.2 311.7,1045.7 341.9,1070.9 333.1,1080.9 339.3,1089.7 354.4,1091.0 369.5,1097.3 382.1,1104.8 399.7,1098.5 412.3,1112.4 427.3,1124.9 447.5,1127.5 457.5,1141.3 472.6,1137.5 487.7,1130.0 500.0,1127.5" fill="none" stroke="#808080" stroke-width="3.1" stroke-linejoin="round" stroke-linecap="round"/>
<polyline points="369.5,1097.3 310.4,1161.4 287.8,1138.8 251.3,1180.0" fill="none" stroke="#808080" stroke-width="3.1" stroke-linejoin="round" stroke-linecap="round"/>
<polyline points="390.9,947.7 434.9,986.6 427.3,994.2 442.4,1009.3 457.5,1019.3 480.1,1043.2 500.0,1034.4" fill="none" stroke="#808080" stroke-width="3.1" stroke-linejoin="round" stroke-linecap="round"/>
<polyline points="480.1,1043.2 487.7,1057.1 427.3,1124.9" fill="none" stroke="#808080" stroke-width="3.1" stroke-linejoin="round" stroke-linecap="round"/>
<polyline points="20.0,951.4 33.8,966.5 28.8,970.3 50.2,989.2" fill="none" stroke="#808080" stroke-width="3.1" stroke-linejoin="round" stroke-linecap="round"/>
<polyline points="560.3,700.0 567.9,722.6 540.2,737.7 542.7,745.3 525.1,762.9 510.1,750.3 500.0,760.3" fill="none" stroke="#808080" stroke-width="3.1" stroke-linejoin="round" stroke-linecap="round"/>
<polyline points="567.9,722.6 580.5,745.3 574.2,767.9 552.8,777.9 550.3,795.5 530.2,818.2 500.0,835.8" fill="none" stroke="#808080" stroke-width="3.1" stroke-linejoin="round" stroke-linecap="round"/>
<polyline points="574.2,767.9 625.7,780.5 666.0,757.8 655.9,745.3 663.4,720.1 666.0,700.0" fill="none" stroke="#808080" stroke-width="3.1" stroke-linejoin="round" stroke-linecap="round"/>
<polyline points="625.7,780.5 630.8,790.5 643.3,800.6 660.9,830.8 671.0,837.0 678.5,857.2 686.1,823.2 693.6,808.1 713.7,793.0 754.0,805.6 796.7,820.7" fill="none" stroke="#808080" stroke-width="3.1" stroke-linejoin="round" stroke-linecap="round"/>
<polyline points="710.0,745.3 727.6,766.6 736.4,772.9 743.9,775.4 741.4,795.5 721.3,796.8 713.7,793.0" fill="none" stroke="#808080" stroke-width="3.1" stroke-linejoin="round" stroke-linecap="round"/>
<polyline points="710.0,745.3 726.3,733.9 759.0,721.4" fill="none" stroke="#808080" stroke-width="3.1" stroke-linejoin="round" stroke-linecap="round"/>
<polyline points="754.0,805.6 747.7,830.8 736.4,840.8 741.4,848.4 731.3,853.4 754.0,876.0 751.4,886.1 766.5,893.6 784.1,876.0 799.2,860.9" fill="none" stroke="#808080" stroke-width="3.1" stroke-linejoin="round" stroke-linecap="round"/>
<polyline points="550.3,795.5 562.9,800.6 598.1,840.8 600.6,848.4 588.0,853.4 595.5,866.0 560.3,888.6 500.0,916.2" fill="none" stroke="#808080" stroke-width="3.1" stroke-linejoin="round" stroke-linecap="round"/>
<polyline points="560.3,888.6 610.6,989.2 595.5,1006.8 660.9,1067.1 655.9,1074.7 686.1,1102.3 688.6,1114.9 718.8,1142.5 723.8,1137.5 741.4,1152.6 754.0,1180.0" fill="none" stroke="#808080" stroke-width="3.1" stroke-linejoin="round" stroke-linecap="round"/>
<polyline points="610.6,989.2 628.2,961.5 618.2,941.4 640.8,926.3 676.0,891.1 671.0,886.1 640.8,860.9 650.9,850.9 660.9,830.8" fill="none" stroke="#808080" stroke-width="3.1" stroke-linejoin="round" stroke-linecap="round"/>
<polyline points="628.2,961.5 650.9,976.6 673.5,966.5 676.0,956.5 698.6,948.9 713.7,966.5 733.8,989.2 738.9,994.2 723.8,999.2 726.3,1009.3 718.8,1024.4 748.9,1026.9 761.5,1019.3 766.5,1034.4 784.1,1052.0 796.7,1034.4 806.8,1054.5 829.4,1039.5 852.0,1036.9 862.1,1026.9 852.0,1011.8 834.4,1024.4 821.9,1009.3" fill="none" stroke="#808080" stroke-width="3.1" stroke-linejoin="round" stroke-linecap="round"/>
<polyline points="698.6,948.9 691.1,941.4 691.1,926.3 708.7,888.6 706.2,871.0 721.3,881.0 736.4,873.5 751.4,886.1 766.5,893.6 746.4,916.2 736.4,926.3 733.8,936.4 721.3,943.9 698.6,948.9" fill="none" stroke="#808080" stroke-width="3.1" stroke-linejoin="round" stroke-linecap="round"/>
<polyline points="736.4,926.3 751.4,921.3 764.0,926.3 779.1,933.8 789.2,936.4" fill="none" stroke="#808080" stroke-width="3.1" stroke-linejoin="round" stroke-linecap="round"/>
<polyline points="751.4,886.1 748.9,901.2 761.5,911.2 766.5,926.3" fill="none" stroke="#808080" stroke-width="3.1" stroke-linejoin="round" stroke-linecap="round"/>
<polyline points="761.5,1019.3 771.6,996.7 784.1,974.1 796.7,961.5 809.3,956.5" fill="none" stroke="#808080" stroke-width="3.1" stroke-linejoin="round" stroke-linecap="round"/>
<polyline points="796.7,961.5 791.7,981.6 799.2,1001.7 796.7,1034.4" fill="none" stroke="#808080" stroke-width="3.1" stroke-linejoin="round" stroke-linecap="round"/>
<polyline points="816.8,956.5 826.9,966.5 847.0,974.1 864.6,964.0 884.7,966.5" fill="none" stroke="#808080" stroke-width="3.1" stroke-linejoin="round" stroke-linecap="round"/>
<polyline points="821.9,1009.3 814.3,991.7 826.9,976.6 852.0,984.1 857.1,996.7 852.0,1011.8" fill="none" stroke="#808080" stroke-width="3.1" stroke-linejoin="round" stroke-linecap="round"/>
<polyline points="862.1,1026.9 872.1,1036.9 927.5,984.1 965.2,1001.7" fill="none" stroke="#808080" stroke-width="3.1" stroke-linejoin="round" stroke-linecap="round"/>
<polyline points="872.1,1036.9 877.2,1031.9 907.3,1062.1 889.7,1077.2 935.0,1117.4 922.4,1132.5 970.2,1127.5 947.6,1107.3 980.0,1072.1" fill="none" stroke="#808080" stroke-width="3.1" stroke-linejoin="round" stroke-linecap="round"/>
<polyline points="784.1,1052.0 769.0,1072.1 776.6,1082.2 779.1,1107.3 804.2,1137.5 776.6,1167.7 786.6,1180.0" fill="none" stroke="#808080" stroke-width="3.1" stroke-linejoin="round" stroke-linecap="round"/>
<polyline points="804.2,1137.5 852.0,1087.2 872.1,1069.6 859.6,1057.1 852.0,1036.9" fill="none" stroke="#808080" stroke-width="3.1" stroke-linejoin="round" stroke-linecap="round"/>
<polyline points="721.3,1043.2 688.6,1077.2 637.0,1127.5" fill="none" stroke="#808080" stroke-width="3.1" stroke-linejoin="round" stroke-linecap="round"/>
<polyline points="637.0,1045.7 603.1,1077.2 588.0,1087.2 588.0,1079.7 505.0,1145.1 500.0,1127.5" fill="none" stroke="#808080" stroke-width="3.1" stroke-linejoin="round" stroke-linecap="round"/>
<polyline points="500.0,991.7 520.1,1001.7 550.3,1021.9 565.4,1001.7 605.6,986.6" fill="none" stroke="#808080" stroke-width="3.1" stroke-linejoin="round" stroke-linecap="round"/>
<polyline points="206.1,1180.0 255.1,1225.3 198.5,1285.6 140.7,1348.5 110.5,1382.4 74.1,1348.5 92.9,1328.4 45.1,1283.1 47.7,1280.6 20.0,1259.2" fill="none" stroke="#808080" stroke-width="3.1" stroke-linejoin="round" stroke-linecap="round"/>
<polyline points="140.7,1348.5 163.3,1373.6 187.2,1395.0 203.6,1378.6 233.7,1403.8" fill="none" stroke="#808080" stroke-width="3.1" stroke-linejoin="round" stroke-linecap="round"/>
<polyline points="92.9,1367.3 20.0,1441.5" fill="none" stroke="#808080" stroke-width="3.1" stroke-linejoin="round" stroke-linecap="round"/>
<polyline points="233.7,1403.8 238.8,1400.0 243.8,1402.5 253.8,1393.7 251.3,1388.7 271.4,1368.6 281.5,1361.0 319.2,1319.6 346.9,1288.1 362.0,1302.0 370.8,1298.2 372.0,1290.6 377.1,1285.6 369.5,1280.6 370.8,1263.0 375.8,1255.4 370.8,1247.9 377.1,1240.3 402.2,1224.0 424.8,1227.8 444.9,1221.5 485.2,1213.9 500.0,1215.2" fill="none" stroke="#808080" stroke-width="3.1" stroke-linejoin="round" stroke-linecap="round"/>
<polyline points="447.5,1180.0 427.3,1197.6 444.9,1212.7 444.9,1221.5" fill="none" stroke="#808080" stroke-width="3.1" stroke-linejoin="round" stroke-linecap="round"/>
<polyline points="319.2,1319.6 346.9,1346.0 364.5,1327.1 411.0,1371.1 417.3,1356.0 432.4,1348.5 462.5,1343.4 500.0,1378.6" fill="none" stroke="#808080" stroke-width="3.1" stroke-linejoin="round" stroke-linecap="round"/>
<polyline points="462.5,1343.4 480.1,1353.5 500.0,1349.7" fill="none" stroke="#808080" stroke-width="3.1" stroke-linejoin="round" stroke-linecap="round"/>
<polyline points="233.7,1403.8 221.2,1416.4 218.6,1426.4 208.6,1439.0 206.1,1442.8 191.0,1450.3 180.9,1452.8 160.8,1471.7 155.8,1481.7 159.6,1489.3 150.8,1509.4 143.2,1516.9 133.2,1523.2 143.2,1534.5 126.9,1552.1 142.0,1567.2 172.1,1535.8 180.9,1544.6 202.3,1522.0 226.2,1539.6 233.7,1545.9 236.2,1552.1 262.6,1574.8 251.3,1584.8 296.6,1628.8 306.6,1617.5 341.9,1650.2 346.9,1632.6 368.3,1652.7 407.2,1612.5 377.1,1582.3 389.6,1573.5 404.7,1554.7 432.4,1524.5 457.5,1509.4 485.2,1480.5 500.0,1469.2" fill="none" stroke="#808080" stroke-width="3.1" stroke-linejoin="round" stroke-linecap="round"/>
<polyline points="180.9,1452.8 203.6,1461.6 226.2,1485.5 236.2,1478.0 282.8,1515.7 300.4,1494.3 314.2,1506.9 356.9,1457.8 392.1,1486.8 395.9,1471.7 427.3,1439.0 422.3,1431.4 437.4,1416.4 460.0,1437.7 490.2,1408.8 500.0,1413.8" fill="none" stroke="#808080" stroke-width="3.1" stroke-linejoin="round" stroke-linecap="round"/>
<polyline points="134.4,1562.2 35.1,1660.0" fill="none" stroke="#808080" stroke-width="3.1" stroke-linejoin="round" stroke-linecap="round"/>
<polyline points="432.4,1524.5 457.5,1499.3 485.2,1523.2 500.0,1509.4" fill="none" stroke="#808080" stroke-width="3.1" stroke-linejoin="round" stroke-linecap="round"/>
<polyline points="562.9,1180.0 585.5,1190.1 605.6,1195.1 623.2,1205.1 640.8,1212.7 655.9,1221.5 650.9,1237.8 643.3,1246.6 638.3,1250.4 640.8,1255.4 650.9,1255.4 648.4,1263.0 663.4,1260.5 673.5,1268.0 688.6,1260.5 691.1,1273.0 701.2,1283.1 703.7,1290.6 713.7,1293.2 723.8,1305.7 726.3,1315.8 736.4,1305.7 754.0,1310.8 771.6,1312.0 786.6,1310.8 791.7,1303.2 796.7,1314.5 801.7,1300.7 799.2,1278.1 779.1,1260.5 806.8,1231.5 776.6,1200.1 751.4,1180.0" fill="none" stroke="#808080" stroke-width="3.1" stroke-linejoin="round" stroke-linecap="round"/>
<polyline points="623.2,1205.1 650.9,1180.0" fill="none" stroke="#808080" stroke-width="3.1" stroke-linejoin="round" stroke-linecap="round"/>
<polyline points="776.6,1200.1 791.7,1182.5 789.2,1180.0" fill="none" stroke="#808080" stroke-width="3.1" stroke-linejoin="round" stroke-linecap="round"/>
<polyline points="801.7,1300.7 806.8,1291.9 814.3,1298.2 814.3,1308.2 847.0,1275.5 884.7,1235.3 896.0,1217.7 884.7,1207.7 892.3,1197.6 899.8,1200.1 917.4,1180.0" fill="none" stroke="#808080" stroke-width="3.1" stroke-linejoin="round" stroke-linecap="round"/>
<polyline points="864.6,1185.0 877.2,1197.6 884.7,1188.8 899.8,1200.1" fill="none" stroke="#808080" stroke-width="3.1" stroke-linejoin="round" stroke-linecap="round"/>
<polyline points="500.0,1215.2 510.1,1213.9 520.1,1226.5 537.7,1234.1 555.3,1242.9 560.3,1239.1 545.3,1257.9 608.1,1315.8 610.6,1303.2 623.2,1295.7 618.2,1285.6 615.7,1274.3 640.8,1265.5 648.4,1263.0" fill="none" stroke="#808080" stroke-width="3.1" stroke-linejoin="round" stroke-linecap="round"/>
<polyline points="608.1,1315.8 595.5,1322.1 572.9,1332.1 552.8,1337.2 530.2,1334.6 512.6,1340.9 500.0,1351.0" fill="none" stroke="#808080" stroke-width="3.1" stroke-linejoin="round" stroke-linecap="round"/>
<polyline points="620.7,1285.6 666.0,1330.9 671.0,1332.1 686.1,1347.2 689.8,1344.7 738.9,1391.2 738.9,1406.3 706.2,1436.5 703.7,1447.8" fill="none" stroke="#808080" stroke-width="3.1" stroke-linejoin="round" stroke-linecap="round"/>
<polyline points="728.8,1392.5 777.8,1440.2 859.6,1351.0" fill="none" stroke="#808080" stroke-width="3.1" stroke-linejoin="round" stroke-linecap="round"/>
<polyline points="814.3,1308.2 810.5,1317.0 821.9,1328.4 823.1,1335.9 836.9,1340.9 842.0,1348.5 852.0,1353.5 859.6,1351.0 862.1,1340.9 869.6,1337.2 882.2,1339.7 892.3,1353.5 897.3,1371.1 907.3,1378.6 927.5,1381.2 935.0,1388.7 930.0,1403.8 935.0,1413.8 947.6,1421.4 924.9,1441.5 911.1,1451.6 948.8,1486.8 884.7,1554.7 917.4,1584.8 877.2,1610.0 873.4,1612.5 907.3,1647.7 897.3,1660.0" fill="none" stroke="#808080" stroke-width="3.1" stroke-linejoin="round" stroke-linecap="round"/>
<polyline points="892.3,1353.5 902.3,1333.4 922.4,1320.8 940.0,1310.8 947.6,1315.8 967.7,1295.7 980.0,1290.6" fill="none" stroke="#808080" stroke-width="3.1" stroke-linejoin="round" stroke-linecap="round"/>
<polyline points="937.5,1411.3 952.6,1398.8 967.7,1391.2 980.0,1386.2" fill="none" stroke="#808080" stroke-width="3.1" stroke-linejoin="round" stroke-linecap="round"/>
<polyline points="948.8,1486.8 942.5,1491.8 968.9,1503.1 972.7,1491.8 980.0,1494.3" fill="none" stroke="#808080" stroke-width="3.1" stroke-linejoin="round" stroke-linecap="round"/>
<polyline points="942.5,1494.3 980.0,1532.0" fill="none" stroke="#808080" stroke-width="3.1" stroke-linejoin="round" stroke-linecap="round"/>
<polyline points="703.7,1447.8 676.0,1459.1 640.8,1474.2 630.8,1484.2 630.8,1493.1 610.6,1501.9 593.0,1511.9 580.5,1528.3 525.1,1478.0 554.1,1446.5 500.0,1398.8" fill="none" stroke="#808080" stroke-width="3.1" stroke-linejoin="round" stroke-linecap="round"/>
<polyline points="525.1,1478.0 500.0,1504.4" fill="none" stroke="#808080" stroke-width="3.1" stroke-linejoin="round" stroke-linecap="round"/>
<polyline points="580.5,1528.3 596.8,1543.3 590.5,1549.6 608.1,1566.0 604.4,1571.0 622.0,1584.8 606.9,1601.2 599.3,1594.9 596.8,1607.5 590.5,1625.1 586.7,1645.2 581.7,1660.0" fill="none" stroke="#808080" stroke-width="3.1" stroke-linejoin="round" stroke-linecap="round"/>
<polyline points="703.7,1447.8 725.0,1471.7 720.0,1476.7 771.6,1523.2 776.6,1518.2 814.3,1554.7 877.2,1610.0" fill="none" stroke="#808080" stroke-width="3.1" stroke-linejoin="round" stroke-linecap="round"/>
<polyline points="814.3,1554.7 737.6,1637.6 751.4,1652.7 736.4,1660.0" fill="none" stroke="#808080" stroke-width="3.1" stroke-linejoin="round" stroke-linecap="round"/>
<polyline points="1276.7,1519.5 1291.8,1542.1 1294.3,1562.2 1291.8,1582.3 1294.3,1607.5 1295.6,1660.0" fill="none" stroke="#808080" stroke-width="3.1" stroke-linejoin="round" stroke-linecap="round"/>
<polyline points="1284.2,1584.8 1290.5,1594.9 1293.1,1632.6" fill="none" stroke="#808080" stroke-width="3.1" stroke-linejoin="round" stroke-linecap="round"/>
<polyline points="980.0,1197.6 990.1,1207.7 997.6,1206.4 1007.7,1217.7 1025.3,1220.2 1042.9,1215.2 1063.0,1217.7 1080.6,1216.5 1090.6,1225.3 1095.7,1242.9 1090.6,1252.9 1090.6,1263.0 1098.2,1273.0 1103.2,1283.1 1115.8,1291.9 1112.0,1303.2 1115.8,1303.2" fill="none" stroke="#808080" stroke-width="3.1" stroke-linejoin="round" stroke-linecap="round"/>
<polyline points="997.6,1206.4 1010.2,1185.0 1027.8,1185.0 1030.3,1180.0" fill="none" stroke="#808080" stroke-width="3.1" stroke-linejoin="round" stroke-linecap="round"/>
<polyline points="980.0,1294.4 990.1,1303.2 1005.1,1318.3 1025.3,1324.6 1045.4,1325.8 1065.5,1333.4 1080.6,1335.9 1085.6,1324.6 1100.7,1323.3 1105.7,1312.0 1113.3,1310.8" fill="none" stroke="#808080" stroke-width="3.1" stroke-linejoin="round" stroke-linecap="round"/>
<polyline points="1080.6,1335.9 1078.1,1340.9 1057.9,1351.0 1052.9,1344.7 1032.8,1348.5 1017.7,1343.4 1017.7,1356.0 1010.2,1366.1 1012.7,1373.6 1000.1,1377.4 980.0,1386.2" fill="none" stroke="#808080" stroke-width="3.1" stroke-linejoin="round" stroke-linecap="round"/>
<polyline points="980.0,1493.1 988.8,1494.3 997.6,1460.4 1026.5,1469.2 1035.3,1436.5 1066.7,1444.0 1066.7,1447.8 1098.2,1456.6 1153.5,1467.9" fill="none" stroke="#808080" stroke-width="3.1" stroke-linejoin="round" stroke-linecap="round"/>
<polyline points="1098.2,1456.6 1083.1,1516.9 1118.3,1527.0 1103.2,1542.1 1098.2,1554.7 1090.6,1564.7 1103.2,1577.3 1083.1,1596.1 1153.5,1660.0" fill="none" stroke="#808080" stroke-width="3.1" stroke-linejoin="round" stroke-linecap="round"/>
<polyline points="1083.1,1596.1 1074.3,1599.9 1031.5,1647.7 997.6,1617.5 1002.6,1613.7 980.0,1589.9" fill="none" stroke="#808080" stroke-width="3.1" stroke-linejoin="round" stroke-linecap="round"/>
<polyline points="1120.8,1628.8 1167.3,1579.8 1163.6,1574.8 1188.7,1552.1 1202.5,1547.1 1195.0,1534.5 1208.8,1519.5" fill="none" stroke="#808080" stroke-width="3.1" stroke-linejoin="round" stroke-linecap="round"/>
<polyline points="980.0,1529.5 998.9,1549.6 988.8,1559.7 997.6,1568.5 980.0,1587.3" fill="none" stroke="#808080" stroke-width="3.1" stroke-linejoin="round" stroke-linecap="round"/>
<polyline points="1031.5,1647.7 1017.7,1660.0" fill="none" stroke="#808080" stroke-width="3.1" stroke-linejoin="round" stroke-linecap="round"/>
<polyline points="1132.4,1128.5 1103.9,1143.6 1097.2,1138.6 1090.5,1148.6 1080.5,1141.9 1065.4,1160.4 1077.1,1163.7 1060.3,1182.2 1050.3,1180.5 1055.3,1162.1 1050.3,1150.3 1040.2,1147.0 1033.5,1158.7 1043.6,1168.8 1036.9,1177.1 1020.1,1182.2 1006.7,1197.3 1000.0,1209.0" fill="none" stroke="#808080" stroke-width="3.1" stroke-linejoin="round" stroke-linecap="round"/>
<polyline points="1000.0,1207.3 1006.7,1219.0 1033.5,1222.4 1067.0,1217.4 1082.1,1220.7 1093.9,1232.5 1088.8,1249.2 1090.5,1262.6 1100.6,1276.0 1112.3,1289.4 1110.6,1301.2 1117.3,1302.8" fill="none" stroke="#808080" stroke-width="3.1" stroke-linejoin="round" stroke-linecap="round"/>
<polyline points="367.9,1656.0 380.6,1697.3 367.3,1727.4 358.9,1757.4" fill="none" stroke="#808080" stroke-width="3.1" stroke-linejoin="round" stroke-linecap="round"/>
<polyline points="20.0,1757.4 50.1,1730.7" fill="none" stroke="#808080" stroke-width="3.1" stroke-linejoin="round" stroke-linecap="round"/>
<polyline points="646.9,1757.4 656.9,1727.4 680.3,1717.4 687.0,1694.0 713.7,1670.6 733.7,1657.3 738.4,1656.0" fill="none" stroke="#808080" stroke-width="3.1" stroke-linejoin="round" stroke-linecap="round"/>
<polyline points="919.0,1757.4 857.3,1699.0 896.1,1656.0" fill="none" stroke="#808080" stroke-width="3.1" stroke-linejoin="round" stroke-linecap="round"/>
<polyline points="934.1,1757.4 944.1,1747.4 967.4,1757.4" fill="none" stroke="#808080" stroke-width="3.1" stroke-linejoin="round" stroke-linecap="round"/>
<polyline points="932.4,1727.4 957.4,1697.3 944.1,1699.0 957.4,1684.0 996.6,1656.0" fill="none" stroke="#808080" stroke-width="3.1" stroke-linejoin="round" stroke-linecap="round"/>
<polyline points="1074.3,1757.4 1076.0,1747.4 1124.4,1742.4 1122.7,1714.0 1137.4,1712.4" fill="none" stroke="#808080" stroke-width="3.1" stroke-linejoin="round" stroke-linecap="round"/>
<polyline points="1290.5,1553.8 1293.8,1583.8 1288.8,1587.1 1293.8,1600.5 1293.8,1633.9 1290.5,1684.0 1293.8,1697.3 1280.5,1720.7 1257.1,1760.8" fill="none" stroke="#808080" stroke-width="3.1" stroke-linejoin="round" stroke-linecap="round"/>
<polyline points="514.1,596.8 494.0,633.6 507.4,638.7 510.7,641.2 497.3,637.0 489.0,642.0 484.8,652.1 484.8,663.8 478.9,670.5 473.9,678.9 467.2,687.3 458.8,692.3 452.1,699.0" fill="none" stroke="#808080" stroke-width="3.1" stroke-linejoin="round" stroke-linecap="round"/>
<polyline points="581.1,652.1 572.8,655.4 569.4,663.8 577.8,670.5 586.2,678.9 588.7,687.3 581.1,694.0 571.1,689.8 557.7,690.6 556.0,695.7 559.3,704.0 562.7,714.1 566.1,722.5 571.1,735.9" fill="none" stroke="#808080" stroke-width="3.1" stroke-linejoin="round" stroke-linecap="round"/>
<polyline points="502.4,766.1 504.9,759.3 509.1,749.3 522.5,762.7 541.7,740.9 540.1,736.7 547.6,735.0 557.7,730.0 566.1,722.5" fill="none" stroke="#808080" stroke-width="3.1" stroke-linejoin="round" stroke-linecap="round"/>
<polyline points="654.9,744.3 664.9,702.4 675.0,699.8 700.0,699.8" fill="none" stroke="#808080" stroke-width="3.1" stroke-linejoin="round" stroke-linecap="round"/>
<polyline points="590.8,1622.6 586.9,1646.1 579.1,1664.3 566.0,1680.0 560.8,1690.4 563.4,1700.8 558.2,1716.5 547.8,1734.8 537.4,1747.8 526.9,1760.8" fill="none" stroke="#808080" stroke-width="3.1" stroke-linejoin="round" stroke-linecap="round"/>
<polyline points="560.8,1690.4 602.6,1726.9 599.9,1730.8 633.9,1760.8" fill="none" stroke="#808080" stroke-width="3.1" stroke-linejoin="round" stroke-linecap="round"/>
<polyline points="878.4,220.0 882.2,250.2 892.3,295.4 902.3,315.5 917.4,320.6 926.2,333.2 924.9,360.8 917.4,391.0 902.3,406.1 887.2,411.1 864.6,407.3 836.9,413.6 835.7,436.2 842.0,458.9 836.9,481.5 824.4,496.6 824.4,509.2 833.2,519.2 833.2,531.8 821.9,546.9 814.3,556.9" fill="none" stroke="#c4c4c4" stroke-width="3.1" stroke-linejoin="round" stroke-linecap="round"/>
<polyline points="914.9,365.8 892.3,380.9 877.2,393.5 852.0,399.8 831.9,397.3 819.3,403.6 818.1,411.1 825.6,414.9 821.9,433.7 818.1,446.3 821.9,461.4 824.4,476.5 806.8,486.5 796.7,501.6 789.2,534.3 789.2,572.0 786.6,597.2 784.1,614.8 789.2,642.4 804.2,667.6 811.8,700.0" fill="none" stroke="#c4c4c4" stroke-width="3.1" stroke-linejoin="round" stroke-linecap="round"/>
<polyline points="818.1,539.3 819.8,572.0 820.6,597.2 817.3,622.3 820.6,660.0 826.9,700.0" fill="none" stroke="#c4c4c4" stroke-width="3.1" stroke-linejoin="round" stroke-linecap="round"/>
<polyline points="834.4,700.0 862.1,722.6 872.1,750.3 882.2,767.9 912.4,777.9 937.5,800.6 960.1,823.2 970.2,843.3 971.5,860.9 980.0,866.0" fill="none" stroke="#c4c4c4" stroke-width="3.1" stroke-linejoin="round" stroke-linecap="round"/>
<polyline points="781.6,813.2 791.7,805.6 811.8,800.6 826.9,785.5" fill="none" stroke="#c4c4c4" stroke-width="3.1" stroke-linejoin="round" stroke-linecap="round"/>
<polyline points="1228.9,1533.3 1236.5,1524.5 1254.1,1518.2 1276.7,1519.5" fill="none" stroke="#c4c4c4" stroke-width="3.1" stroke-linejoin="round" stroke-linecap="round"/>
<polyline points="984.9,876.4 1000.0,877.1 1016.8,873.8 1043.6,863.7 1067.0,862.0 1072.1,870.4 1090.5,862.0 1100.6,867.0 1117.3,860.3 1125.7,868.7 1164.3,867.0 1187.7,873.8 1201.1,887.2 1207.8,892.2 1206.2,897.2 1217.9,907.3 1248.1,934.1 1253.1,944.2 1278.2,957.6 1301.7,962.6 1321.8,971.0 1348.6,982.7 1355.3,979.3 1368.8,977.7 1382.2,981.0 1402.3,991.1 1395.6,994.4 1385.5,1004.5 1385.5,1009.5 1415.7,1031.3 1432.5,1029.6 1437.5,1022.9 1442.5,1022.9 1444.2,1031.3 1457.6,1039.7 1459.3,1043.0 1462.6,1034.7 1482.7,1029.6 1502.8,1019.6 1536.4,997.8 1569.9,989.4" fill="none" stroke="#c4c4c4" stroke-width="3.1" stroke-linejoin="round" stroke-linecap="round"/>
<polyline points="894.8,220.0 899.8,235.1 901.1,265.3 904.8,292.9 912.4,315.5 914.9,340.7 914.9,365.8 902.3,386.0 877.2,398.5 852.0,406.1 836.9,413.6 829.4,428.7 824.4,446.3 826.9,458.9 829.4,471.4 821.9,489.0 816.8,501.6 820.6,516.7 815.6,526.8 818.1,539.3 814.3,556.9 800.5,569.5 805.5,584.6 810.5,604.7 815.6,622.3 818.1,647.5 820.6,672.6 824.4,700.0" fill="none" stroke="#fff" stroke-width="5.2" stroke-linejoin="round" stroke-linecap="round"/>
<polyline points="824.4,700.0 831.9,710.1 829.4,715.1" fill="none" stroke="#fff" stroke-width="5.2" stroke-linejoin="round" stroke-linecap="round"/>
<polyline points="839.5,760.3 844.5,775.4 852.0,785.5 864.6,793.0 862.1,783.0 869.6,775.4 868.4,785.5 864.6,795.5 849.5,798.1 842.0,790.5 839.5,775.4" fill="none" stroke="#fff" stroke-width="5.2" stroke-linejoin="round" stroke-linecap="round"/>
<polyline points="144.5,220.0 149.5,230.1 147.0,247.7 155.8,265.3 157.0,292.9 165.8,310.5 175.9,323.1 169.6,336.9 173.4,348.2 186.0,360.8 191.0,375.9 208.6,398.5 221.2,418.6 236.2,428.7 253.8,441.3 271.4,437.5 281.5,443.8 285.3,451.3 281.5,457.6 292.8,467.7 309.2,477.7 316.7,489.0 329.3,496.6 341.9,509.2 349.4,521.7 367.0,535.6 382.1,536.8 394.7,544.4 412.3,551.9 422.3,559.5 424.8,577.1 437.4,585.9 450.0,587.1 462.5,584.6 472.6,594.7 475.1,607.2 480.1,612.3 490.2,604.7 500.0,595.9" fill="none" stroke="#fff" stroke-width="7" stroke-linejoin="round" stroke-linecap="round"/>
<polyline points="292.8,467.7 286.5,484.0 276.5,494.1 272.7,514.2 258.9,526.8 251.3,534.3 247.6,551.9 248.8,569.5 240.0,574.5 237.5,592.1 228.7,598.4 213.6,600.9 193.5,594.7 180.9,584.6 170.9,579.6 153.3,580.8 140.7,574.5 134.4,564.5 120.6,567.0 110.5,574.5 105.5,584.6 105.5,597.2 95.4,607.2 17.5,695.2" fill="none" stroke="#fff" stroke-width="7" stroke-linejoin="round" stroke-linecap="round"/>
<polyline points="718.8,700.0 731.3,707.5 741.4,720.1 756.5,727.7 771.6,725.1 796.7,717.6 816.8,713.8 829.4,715.1 834.4,722.6 836.9,732.7 834.4,750.3 834.4,765.4 836.9,777.9 829.4,788.0 821.9,798.1 811.8,805.6 801.7,810.6 799.2,820.7 806.8,830.8 809.3,840.8 799.2,853.4 796.7,866.0 804.2,881.0 809.3,896.1 824.4,908.7 836.9,921.3 847.0,933.8 862.1,948.9 884.7,966.5 907.3,974.1 932.5,981.6 950.1,994.2 965.2,999.2 980.0,1000.5" fill="none" stroke="#fff" stroke-width="7" stroke-linejoin="round" stroke-linecap="round"/>
<polyline points="796.7,810.6 804.2,818.2 801.7,830.8 809.3,835.8" fill="none" stroke="#fff" stroke-width="7" stroke-linejoin="round" stroke-linecap="round"/>
<polyline points="809.3,898.6 799.2,903.7 789.2,926.3 791.7,938.9 809.3,956.5 819.3,941.4 834.4,938.9 842.0,931.3 836.9,921.3" fill="none" stroke="#fff" stroke-width="7" stroke-linejoin="round" stroke-linecap="round"/>
<polyline points="1168.6,1180.0 1178.6,1195.1 1183.7,1210.2 1178.6,1225.3 1166.1,1240.3 1151.0,1257.9 1135.9,1280.6 1118.3,1305.7 1113.3,1320.8 1109.5,1340.9 1108.2,1356.0 1109.5,1371.1 1110.8,1386.2 1117.0,1406.3 1125.8,1421.4 1135.9,1444.0 1151.0,1464.1 1166.1,1481.7 1181.2,1496.8 1198.8,1508.1 1211.3,1514.4 1226.4,1516.9 1241.5,1515.7 1256.6,1514.4 1271.7,1513.2 1276.7,1510.7 1275.4,1504.4 1281.7,1505.6 1289.3,1516.9 1294.3,1529.5 1296.8,1547.1 1298.1,1572.3 1299.3,1607.5 1301.9,1632.6 1303.1,1660.0" fill="none" stroke="#fff" stroke-width="7" stroke-linejoin="round" stroke-linecap="round"/>
<polyline points="979.9,1001.1 1000.0,1017.9 1016.8,1031.3 1030.2,1034.7 1050.3,1054.8 1070.4,1064.8 1093.9,1084.9 1120.7,1111.8 1140.8,1135.2 1157.6,1152.0 1171.0,1172.1 1181.0,1192.2 1184.4,1209.0 1177.7,1225.7 1157.6,1249.2 1140.8,1272.7 1120.7,1302.8 1110.6,1329.7 1107.3,1353.1 1110.6,1386.7 1120.7,1413.5 1134.1,1440.0" fill="none" stroke="#fff" stroke-width="7" stroke-linejoin="round" stroke-linecap="round"/>
<polyline points="498.7,596.4 510.1,597.2 518.9,607.2 522.6,619.8 537.7,627.3 562.9,622.3 580.5,619.8 586.7,627.3 583.0,642.4 593.0,652.5 605.6,657.5 618.2,665.1 630.8,662.5 645.8,657.5 660.9,662.5 660.9,670.1 673.5,675.1 686.1,682.7 693.6,692.7 703.7,700.0 718.8,700.0" fill="none" stroke="#fff" stroke-width="7" stroke-linejoin="round" stroke-linecap="round"/>
<polyline points="1296.5,1530.4 1300.5,1567.1 1302.2,1600.5 1303.8,1650.6 1304.5,1697.3 1300.5,1707.3 1287.1,1727.4 1263.8,1760.8" fill="none" stroke="#fff" stroke-width="7" stroke-linejoin="round" stroke-linecap="round"/>
<circle cx="793.5" cy="987.5" r="743.0" fill="none" stroke="#fff" stroke-width="2.4"/>
<g opacity="0.999">
<circle cx="180" cy="361" r="6.8" fill="#fff"/>
<text transform="translate(189.4,350.5) scale(0.9103,1)" font-family="Liberation Mono,monospace" font-size="33.20" fill="#fff" stroke="#fff" stroke-width="0.30" text-anchor="start">ROSARIO</text>
<circle cx="795" cy="376" r="6.8" fill="#fff"/>
<text transform="translate(804.4,365.5) scale(0.9103,1)" font-family="Liberation Mono,monospace" font-size="33.20" fill="#fff" stroke="#fff" stroke-width="0.30" text-anchor="start">GUALEGUAYCHÚ</text>
<circle cx="563" cy="425" r="6.8" fill="#fff"/>
<text transform="translate(572.4,414.5) scale(0.9103,1)" font-family="Liberation Mono,monospace" font-size="33.20" fill="#fff" stroke="#fff" stroke-width="0.30" text-anchor="start">GUALEGUAY</text>
<circle cx="306" cy="490" r="6.8" fill="#fff"/>
<text transform="translate(315.4,479.5) scale(0.9103,1)" font-family="Liberation Mono,monospace" font-size="33.20" fill="#fff" stroke="#fff" stroke-width="0.30" text-anchor="start">SAN NICOLÁS</text>
<circle cx="1365" cy="508" r="6.8" fill="#fff"/>
<text transform="translate(1374.4,497.5) scale(0.9103,1)" font-family="Liberation Mono,monospace" font-size="33.20" fill="#fff" stroke="#fff" stroke-width="0.30" text-anchor="start">DURAZNO</text>
<circle cx="463" cy="608" r="6.8" fill="#fff"/>
<text transform="translate(472.4,597.5) scale(0.9103,1)" font-family="Liberation Mono,monospace" font-size="33.20" fill="#fff" stroke="#fff" stroke-width="0.30" text-anchor="start">SAN PEDRO</text>
<circle cx="752" cy="617" r="6.8" fill="#fff"/>
<text transform="translate(761.4,606.5) scale(0.9103,1)" font-family="Liberation Mono,monospace" font-size="33.20" fill="#fff" stroke="#fff" stroke-width="0.30" text-anchor="start">VA. PARANACITO</text>
<circle cx="57" cy="689" r="6.8" fill="#fff"/>
<text transform="translate(66.4,678.5) scale(0.9103,1)" font-family="Liberation Mono,monospace" font-size="33.20" fill="#fff" stroke="#fff" stroke-width="0.30" text-anchor="start">COLON</text>
<circle cx="208" cy="686" r="6.8" fill="#fff"/>
<text transform="translate(217.4,675.5) scale(0.9103,1)" font-family="Liberation Mono,monospace" font-size="33.20" fill="#fff" stroke="#fff" stroke-width="0.30" text-anchor="start">PERGAMINO</text>
<circle cx="860" cy="713" r="6.8" fill="#fff"/>
<text transform="translate(869.4,702.5) scale(0.9103,1)" font-family="Liberation Mono,monospace" font-size="33.20" fill="#fff" stroke="#fff" stroke-width="0.30" text-anchor="start">CARMELO</text>
<circle cx="343" cy="740" r="6.8" fill="#fff"/>
<text transform="translate(352.4,729.5) scale(0.9103,1)" font-family="Liberation Mono,monospace" font-size="33.20" fill="#fff" stroke="#fff" stroke-width="0.30" text-anchor="start">ARRECIFES</text>
<circle cx="649" cy="748" r="6.8" fill="#fff"/>
<text transform="translate(658.4,737.5) scale(0.9103,1)" font-family="Liberation Mono,monospace" font-size="33.20" fill="#fff" stroke="#fff" stroke-width="0.30" text-anchor="start">ZÁRATE</text>
<circle cx="1304" cy="833" r="6.8" fill="#fff"/>
<text transform="translate(1313.4,822.5) scale(0.9103,1)" font-family="Liberation Mono,monospace" font-size="33.20" fill="#fff" stroke="#fff" stroke-width="0.30" text-anchor="start">S. J. DE MAYO</text>
<circle cx="425" cy="842" r="6.8" fill="#fff"/>
<text transform="translate(434.4,831.5) scale(0.9103,1)" font-family="Liberation Mono,monospace" font-size="33.20" fill="#fff" stroke="#fff" stroke-width="0.30" text-anchor="start">C. DE ARECO</text>
<circle cx="985" cy="876" r="6.8" fill="#fff"/>
<text transform="translate(994.4,865.5) scale(0.9103,1)" font-family="Liberation Mono,monospace" font-size="33.20" fill="#fff" stroke="#fff" stroke-width="0.30" text-anchor="start">COLONIA</text>
<circle cx="108" cy="923" r="6.8" fill="#fff"/>
<text transform="translate(117.4,912.5) scale(0.9103,1)" font-family="Liberation Mono,monospace" font-size="33.20" fill="#fff" stroke="#fff" stroke-width="0.30" text-anchor="start">JUNÍN</text>
<circle cx="834" cy="923" r="6.8" fill="#fff"/>
<text transform="translate(843.4,912.5) scale(0.9103,1)" font-family="Liberation Mono,monospace" font-size="33.20" fill="#fff" stroke="#fff" stroke-width="0.30" text-anchor="start">BUENOS AIRES</text>
<circle cx="537" cy="939" r="6.8" fill="#fff"/>
<text transform="translate(546.4,928.5) scale(0.9103,1)" font-family="Liberation Mono,monospace" font-size="33.20" fill="#fff" stroke="#fff" stroke-width="0.30" text-anchor="start">MERCEDES</text>
<circle cx="792" cy="1007" r="6.8" fill="#fff"/>
<text transform="translate(801.4,996.5) scale(0.9103,1)" font-family="Liberation Mono,monospace" font-size="33.20" fill="#fff" stroke="#fff" stroke-width="0.30" text-anchor="start">EZEIZA</text>
<circle cx="371" cy="1025" r="6.8" fill="#fff"/>
<text transform="translate(380.4,1014.5) scale(0.9103,1)" font-family="Liberation Mono,monospace" font-size="33.20" fill="#fff" stroke="#fff" stroke-width="0.30" text-anchor="start">CHIVILCOY</text>
<circle cx="1456" cy="1019" r="6.8" fill="#fff"/>
<text transform="translate(1465.4,1008.5) scale(0.9103,1)" font-family="Liberation Mono,monospace" font-size="33.20" fill="#fff" stroke="#fff" stroke-width="0.30" text-anchor="start">MONTEVIDEO</text>
<circle cx="953" cy="1035" r="6.8" fill="#fff"/>
<text transform="translate(962.4,1024.5) scale(0.9103,1)" font-family="Liberation Mono,monospace" font-size="33.20" fill="#fff" stroke="#fff" stroke-width="0.30" text-anchor="start">LA PLATA</text>
<circle cx="84" cy="1067" r="6.8" fill="#fff"/>
<text transform="translate(93.4,1056.5) scale(0.9103,1)" font-family="Liberation Mono,monospace" font-size="33.20" fill="#fff" stroke="#fff" stroke-width="0.30" text-anchor="start">LOS TOLDOS</text>
<circle cx="630" cy="1120" r="6.8" fill="#fff"/>
<text transform="translate(639.4,1109.5) scale(0.9103,1)" font-family="Liberation Mono,monospace" font-size="33.20" fill="#fff" stroke="#fff" stroke-width="0.30" text-anchor="start">LOBOS</text>
<circle cx="1124" cy="1192" r="6.8" fill="#fff"/>
<text transform="translate(1133.4,1181.5) scale(0.9103,1)" font-family="Liberation Mono,monospace" font-size="33.20" fill="#fff" stroke="#fff" stroke-width="0.30" text-anchor="start">VERÓNICA</text>
<circle cx="131" cy="1216" r="6.8" fill="#fff"/>
<text transform="translate(140.4,1205.5) scale(0.9103,1)" font-family="Liberation Mono,monospace" font-size="33.20" fill="#fff" stroke="#fff" stroke-width="0.30" text-anchor="start">9 DE JULIO</text>
<circle cx="937" cy="1253" r="6.8" fill="#fff"/>
<text transform="translate(946.4,1242.5) scale(0.9103,1)" font-family="Liberation Mono,monospace" font-size="33.20" fill="#fff" stroke="#fff" stroke-width="0.30" text-anchor="start">CHASCOMÚS</text>
<circle cx="441" cy="1278" r="6.8" fill="#fff"/>
<text transform="translate(450.4,1267.5) scale(0.9103,1)" font-family="Liberation Mono,monospace" font-size="33.20" fill="#fff" stroke="#fff" stroke-width="0.30" text-anchor="start">SALADILLO</text>
<circle cx="377" cy="1410" r="6.8" fill="#fff"/>
<text transform="translate(386.4,1399.5) scale(0.9103,1)" font-family="Liberation Mono,monospace" font-size="33.20" fill="#fff" stroke="#fff" stroke-width="0.30" text-anchor="start">GRAL. ALVEAR</text>
<circle cx="632" cy="1405" r="6.8" fill="#fff"/>
<text transform="translate(641.4,1394.5) scale(0.9103,1)" font-family="Liberation Mono,monospace" font-size="33.20" fill="#fff" stroke="#fff" stroke-width="0.30" text-anchor="start">LAS FLORES</text>
<circle cx="73" cy="1488" r="6.8" fill="#fff"/>
<text transform="translate(82.4,1477.5) scale(0.9103,1)" font-family="Liberation Mono,monospace" font-size="33.20" fill="#fff" stroke="#fff" stroke-width="0.30" text-anchor="start">BOLÍVAR</text>
<circle cx="1025" cy="1508" r="6.8" fill="#fff"/>
<text transform="translate(1034.4,1497.5) scale(0.9103,1)" font-family="Liberation Mono,monospace" font-size="33.20" fill="#fff" stroke="#fff" stroke-width="0.30" text-anchor="start">DOLORES</text>
<circle cx="1291" cy="1530" r="6.8" fill="#fff"/>
<text transform="translate(1300.4,1519.5) scale(0.9103,1)" font-family="Liberation Mono,monospace" font-size="33.20" fill="#fff" stroke="#fff" stroke-width="0.30" text-anchor="start">SAN C. DEL TUYÚ</text>
<circle cx="788" cy="1592" r="6.8" fill="#fff"/>
<text transform="translate(797.4,1581.5) scale(0.9103,1)" font-family="Liberation Mono,monospace" font-size="33.20" fill="#fff" stroke="#fff" stroke-width="0.30" text-anchor="start">UDAQUIOLA</text>
<circle cx="1301" cy="1651" r="6.8" fill="#fff"/>
<text transform="translate(1310.4,1640.5) scale(0.9103,1)" font-family="Liberation Mono,monospace" font-size="33.20" fill="#fff" stroke="#fff" stroke-width="0.30" text-anchor="start">MAR DE AJÓ</text>
<circle cx="427" cy="1670" r="6.8" fill="#fff"/>
<text transform="translate(436.4,1659.5) scale(0.9103,1)" font-family="Liberation Mono,monospace" font-size="33.20" fill="#fff" stroke="#fff" stroke-width="0.30" text-anchor="start">AZUL</text>
<circle cx="636" cy="1664" r="6.8" fill="#fff"/>
<text transform="translate(645.4,1653.5) scale(0.9103,1)" font-family="Liberation Mono,monospace" font-size="33.20" fill="#fff" stroke="#fff" stroke-width="0.30" text-anchor="start">RAUCH</text>
<circle cx="972" cy="1694" r="6.8" fill="#fff"/>
<text transform="translate(981.4,1683.5) scale(0.9103,1)" font-family="Liberation Mono,monospace" font-size="33.20" fill="#fff" stroke="#fff" stroke-width="0.30" text-anchor="start">MAIPÚ</text>
</g>
<circle cx="297" cy="1710" r="6.8" fill="#fff"/>
<g opacity="0.999"><text transform="translate(306.4,1699.5) scale(0.9103,1)" font-family="Liberation Mono,monospace" font-size="33.20" fill="#fff" stroke="#fff" stroke-width="0.30" text-anchor="start">OLAVARRÍA</text></g>
<rect x="27" y="1652" width="332" height="101.5" fill="#636363" fill-opacity="0.88"/>
<rect x="40" y="1667.2" width="304.5" height="71.6" fill="#555" fill-opacity="0.75"/>
<rect x="40" y="1667.2" width="304.5" height="71.6" fill="none" stroke="#ffa500" stroke-width="5.2"/>
<g opacity="0.999">
<text transform="translate(52.4,1696.7) scale(0.9103,1)" font-family="Liberation Mono,monospace" font-size="24.46" fill="#fff" stroke="#fff" stroke-width="0.30" text-anchor="start">Avisos Meteorológicos</text>
<text transform="translate(52.4,1722.4) scale(0.9103,1)" font-family="Liberation Mono,monospace" font-size="24.46" fill="#fff" stroke="#fff" stroke-width="0.30" text-anchor="start">a Muy Corto Plazo</text>
</g>
</g>
<rect x="1721" y="1638.8" width="35" height="118.7" fill="#3e406c"/>
<rect x="1721" y="1566.6" width="35" height="72.7" fill="#3e4d7b"/>
<rect x="1721" y="1494.4" width="35" height="72.7" fill="#3e5988"/>
<rect x="1721" y="1422.2" width="35" height="72.7" fill="#3d6496"/>
<rect x="1721" y="1350.1" width="35" height="72.7" fill="#3b70a3"/>
<rect x="1721" y="1301.9" width="35" height="48.6" fill="#357cae"/>
<rect x="1721" y="1253.8" width="35" height="48.6" fill="#2f89bb"/>
<rect x="1721" y="1205.7" width="35" height="48.6" fill="#2896c5"/>
<rect x="1721" y="1181.6" width="35" height="24.6" fill="#24a2d0"/>
<rect x="1721" y="1157.6" width="35" height="24.6" fill="#2bafdb"/>
<rect x="1721" y="1133.5" width="35" height="24.6" fill="#54f03c"/>
<rect x="1721" y="1109.5" width="35" height="24.6" fill="#4ee137"/>
<rect x="1721" y="1085.4" width="35" height="24.6" fill="#47d030"/>
<rect x="1721" y="1061.3" width="35" height="24.6" fill="#40c12b"/>
<rect x="1721" y="1037.3" width="35" height="24.6" fill="#39b026"/>
<rect x="1721" y="1013.2" width="35" height="24.6" fill="#33a023"/>
<rect x="1721" y="989.2" width="35" height="24.6" fill="#2c8b1e"/>
<rect x="1721" y="965.1" width="35" height="24.6" fill="#25731a"/>
<rect x="1721" y="941.0" width="35" height="24.6" fill="#efee3e"/>
<rect x="1721" y="917.0" width="35" height="24.6" fill="#e4e43a"/>
<rect x="1721" y="892.9" width="35" height="24.6" fill="#dadb35"/>
<rect x="1721" y="868.9" width="35" height="24.6" fill="#d0d230"/>
<rect x="1721" y="844.8" width="35" height="24.6" fill="#c5c62c"/>
<rect x="1721" y="820.7" width="35" height="24.6" fill="#d2ab22"/>
<rect x="1721" y="796.7" width="35" height="24.6" fill="#da961b"/>
<rect x="1721" y="772.6" width="35" height="24.6" fill="#df8217"/>
<rect x="1721" y="748.6" width="35" height="24.6" fill="#eb0d32"/>
<rect x="1721" y="724.5" width="35" height="24.6" fill="#c6001d"/>
<rect x="1721" y="700.4" width="35" height="24.6" fill="#c0001a"/>
<rect x="1721" y="676.4" width="35" height="24.6" fill="#b2000c"/>
<rect x="1721" y="652.3" width="35" height="24.6" fill="#9a0000"/>
<rect x="1721" y="628.3" width="35" height="24.6" fill="#c20058"/>
<rect x="1721" y="604.2" width="35" height="24.6" fill="#d9009a"/>
<rect x="1721" y="580.1" width="35" height="24.6" fill="#ec00e8"/>
<rect x="1721" y="556.1" width="35" height="24.6" fill="#cf00c8"/>
<rect x="1721" y="532.0" width="35" height="24.6" fill="#b300b0"/>
<rect x="1721" y="508.0" width="35" height="24.6" fill="#9b009b"/>
<rect x="1721" y="483.9" width="35" height="24.6" fill="#ffffff"/>
<rect x="1721" y="459.8" width="35" height="24.6" fill="#e0f5ee"/>
<rect x="1721" y="435.8" width="35" height="24.6" fill="#c4ecdc"/>
<rect x="1721" y="411.7" width="35" height="24.6" fill="#b6e8d2"/>
<rect x="1721" y="387.7" width="35" height="24.6" fill="#a6e4ca"/>
<rect x="1721" y="339.5" width="35" height="48.6" fill="#96e0c2"/>
<rect x="1721" y="220.0" width="35" height="120.0" fill="#88ddb9"/>
<rect x="1758" y="1685.9" width="9" height="2" fill="#000"/>
<rect x="1780" y="1688.0" width="17.5" height="2.2" fill="#000"/>
<text x="1800.5" y="1697.1" font-family="Liberation Sans,sans-serif" font-size="29.5" fill="#000">15</text>
<rect x="1758" y="1605.7" width="9" height="2" fill="#000"/>
<rect x="1780" y="1607.8" width="17.5" height="2.2" fill="#000"/>
<text x="1800.5" y="1616.9" font-family="Liberation Sans,sans-serif" font-size="29.5" fill="#000">10</text>
<rect x="1758" y="1525.5" width="9" height="2" fill="#000"/>
<rect x="1780" y="1527.6" width="17.5" height="2.2" fill="#000"/>
<text x="1800.5" y="1536.7" font-family="Liberation Sans,sans-serif" font-size="29.5" fill="#000">5</text>
<rect x="1758" y="1445.3" width="9" height="2" fill="#000"/>
<text x="1778" y="1456.5" font-family="Liberation Sans,sans-serif" font-size="29.5" fill="#000">0</text>
<rect x="1758" y="1365.1" width="9" height="2" fill="#000"/>
<text x="1778" y="1376.3" font-family="Liberation Sans,sans-serif" font-size="29.5" fill="#000">5</text>
<rect x="1758" y="1284.9" width="9" height="2" fill="#000"/>
<text x="1778" y="1296.1" font-family="Liberation Sans,sans-serif" font-size="29.5" fill="#000">10</text>
<rect x="1758" y="1204.7" width="9" height="2" fill="#000"/>
<text x="1778" y="1215.9" font-family="Liberation Sans,sans-serif" font-size="29.5" fill="#000">15</text>
<rect x="1758" y="1124.5" width="9" height="2" fill="#000"/>
<text x="1778" y="1135.7" font-family="Liberation Sans,sans-serif" font-size="29.5" fill="#000">20</text>
<rect x="1758" y="1044.3" width="9" height="2" fill="#000"/>
<text x="1778" y="1055.5" font-family="Liberation Sans,sans-serif" font-size="29.5" fill="#000">25</text>
<rect x="1758" y="964.1" width="9" height="2" fill="#000"/>
<text x="1778" y="975.3" font-family="Liberation Sans,sans-serif" font-size="29.5" fill="#000">30</text>
<rect x="1758" y="883.9" width="9" height="2" fill="#000"/>
<text x="1778" y="895.1" font-family="Liberation Sans,sans-serif" font-size="29.5" fill="#000">35</text>
<rect x="1758" y="803.7" width="9" height="2" fill="#000"/>
<text x="1778" y="814.9" font-family="Liberation Sans,sans-serif" font-size="29.5" fill="#000">40</text>
<rect x="1758" y="723.5" width="9" height="2" fill="#000"/>
<text x="1778" y="734.7" font-family="Liberation Sans,sans-serif" font-size="29.5" fill="#000">45</text>
<rect x="1758" y="643.3" width="9" height="2" fill="#000"/>
<text x="1778" y="654.5" font-family="Liberation Sans,sans-serif" font-size="29.5" fill="#000">50</text>
<rect x="1758" y="563.1" width="9" height="2" fill="#000"/>
<text x="1778" y="574.3" font-family="Liberation Sans,sans-serif" font-size="29.5" fill="#000">55</text>
<rect x="1758" y="482.9" width="9" height="2" fill="#000"/>
<text x="1778" y="494.1" font-family="Liberation Sans,sans-serif" font-size="29.5" fill="#000">60</text>
<rect x="1758" y="402.7" width="9" height="2" fill="#000"/>
<text x="1778" y="413.9" font-family="Liberation Sans,sans-serif" font-size="29.5" fill="#000">65</text>
<rect x="1758" y="322.5" width="9" height="2" fill="#000"/>
<text x="1778" y="333.7" font-family="Liberation Sans,sans-serif" font-size="29.5" fill="#000">70</text>
<rect x="1758" y="242.3" width="9" height="2" fill="#000"/>
<text x="1778" y="253.5" font-family="Liberation Sans,sans-serif" font-size="29.5" fill="#000">75</text>
<path d="M140.7 1800.9A48 48 0 1 0 140.7 1866.3L124.2 1855.8A29 29 0 1 1 124.2 1811.4Z" fill="#ffb200"/>
<path d="M99 1817c12-7 24-5 35-1s22 4 34-4v17c-12 8-23 8-34 4s-23-6-35 1z" fill="#2ea3dc"/>
<path d="M99 1839c12-7 24-5 35-1s22 4 34-4v17c-12 8-23 8-34 4s-23-6-35 1z" fill="#2ea3dc"/>
<text x="177" y="1808" font-size="30" font-family="Liberation Sans,sans-serif" fill="#222" textLength="114" lengthAdjust="spacingAndGlyphs">Servicio</text>
<text x="177" y="1834" font-size="30" font-family="Liberation Sans,sans-serif" fill="#222" textLength="203" lengthAdjust="spacingAndGlyphs">Meteorológico</text>
<text x="177" y="1860.5" font-size="30" font-family="Liberation Sans,sans-serif" fill="#222" textLength="121" lengthAdjust="spacingAndGlyphs">Nacional</text>
<text x="179" y="1881" font-size="19.5" font-family="Liberation Sans,sans-serif" fill="#222" stroke="#222" stroke-width="0.3" textLength="95" lengthAdjust="spacingAndGlyphs">Argentina</text>
<g fill="none" stroke="#2b3358" stroke-width="1.3"><ellipse cx="532.0" cy="1839.0" rx="25" ry="36"/><ellipse cx="532.0" cy="1840.0" rx="32.5" ry="45" stroke-width="6" stroke-dasharray="2.4 1.5" opacity="0.85"/><line x1="520.0" y1="1799.1" x2="511.1" y2="1798.4" stroke-width="1.2"/><line x1="520.4" y1="1797.1" x2="505.8" y2="1793.5" stroke-width="1.2"/><line x1="521.0" y1="1795.2" x2="512.7" y2="1791.6" stroke-width="1.2"/><line x1="521.9" y1="1793.5" x2="509.4" y2="1785.3" stroke-width="1.2"/><line x1="523.2" y1="1791.9" x2="516.5" y2="1785.8" stroke-width="1.2"/><line x1="524.6" y1="1790.5" x2="515.4" y2="1778.7" stroke-width="1.2"/><line x1="526.3" y1="1789.5" x2="522.0" y2="1781.5" stroke-width="1.2"/><line x1="528.1" y1="1788.7" x2="523.2" y2="1774.5" stroke-width="1.2"/><line x1="530.0" y1="1788.2" x2="528.5" y2="1779.3" stroke-width="1.2"/><line x1="532.0" y1="1788.0" x2="532.0" y2="1773.0" stroke-width="1.2"/><line x1="534.0" y1="1788.2" x2="535.5" y2="1779.3" stroke-width="1.2"/><line x1="535.9" y1="1788.7" x2="540.8" y2="1774.5" stroke-width="1.2"/><line x1="537.7" y1="1789.5" x2="542.0" y2="1781.5" stroke-width="1.2"/><line x1="539.4" y1="1790.5" x2="548.6" y2="1778.7" stroke-width="1.2"/><line x1="540.8" y1="1791.9" x2="547.5" y2="1785.8" stroke-width="1.2"/><line x1="542.1" y1="1793.5" x2="554.6" y2="1785.3" stroke-width="1.2"/><line x1="543.0" y1="1795.2" x2="551.3" y2="1791.6" stroke-width="1.2"/><line x1="543.6" y1="1797.1" x2="558.2" y2="1793.5" stroke-width="1.2"/><line x1="544.0" y1="1799.1" x2="552.9" y2="1798.4" stroke-width="1.2"/><path d="M521.0 1802.0a11 11 0 0 1 22 0z" fill="#e6e6e6" stroke-width="1.3"/><line x1="513.4" y1="1815.0" x2="550.6" y2="1815.0" stroke-width="1"/><line x1="510.8" y1="1820.0" x2="553.2" y2="1820.0" stroke-width="1"/><line x1="509.0" y1="1825.0" x2="555.0" y2="1825.0" stroke-width="1"/><line x1="507.8" y1="1830.0" x2="556.2" y2="1830.0" stroke-width="1"/><line x1="507.2" y1="1835.0" x2="556.8" y2="1835.0" stroke-width="1"/><line x1="507.0" y1="1840.0" x2="557.0" y2="1840.0" stroke-width="1"/><line x1="507.3" y1="1845.0" x2="556.7" y2="1845.0" stroke-width="1"/><line x1="532.0" y1="1825.0" x2="532.0" y2="1867.0" stroke-width="1.8"/><path d="M523.0 1827.0q2 -14 12 -12q10 3 4 12q-8 6 -16 0z" fill="#e6e6e6" stroke-width="1.5"/><path d="M508.0 1854.0q12 -10 24 -2q12 -8 25 2" stroke-width="1.3"/><path d="M520.0 1859.0l12 -7 12 7" stroke-width="1.5"/><path d="M525.0 1883.0h14v6h-14z" fill="#2b3358"/><path d="M527.0 1887.0l-10 10M537.0 1887.0l10 10" stroke-width="3"/></g>
<text x="583.5" y="1827" font-size="28" font-weight="bold" font-family="Liberation Serif,serif" fill="#2b3358" textLength="132" lengthAdjust="spacingAndGlyphs">Ministerio</text>
<text x="583.5" y="1853.5" font-size="28" font-weight="bold" font-family="Liberation Serif,serif" fill="#2b3358" textLength="133" lengthAdjust="spacingAndGlyphs">de Defensa</text>
<text x="584.5" y="1873.5" font-size="16.5" font-family="Liberation Serif,serif" fill="#2b3358" textLength="151" lengthAdjust="spacingAndGlyphs">República Argentina</text>
<g fill="none" stroke="#2b3358" stroke-width="1.3"><ellipse cx="894.5" cy="1839.0" rx="25" ry="36"/><ellipse cx="894.5" cy="1840.0" rx="32.5" ry="45" stroke-width="6" stroke-dasharray="2.4 1.5" opacity="0.85"/><line x1="882.5" y1="1799.1" x2="873.6" y2="1798.4" stroke-width="1.2"/><line x1="882.9" y1="1797.1" x2="868.3" y2="1793.5" stroke-width="1.2"/><line x1="883.5" y1="1795.2" x2="875.2" y2="1791.6" stroke-width="1.2"/><line x1="884.4" y1="1793.5" x2="871.9" y2="1785.3" stroke-width="1.2"/><line x1="885.7" y1="1791.9" x2="879.0" y2="1785.8" stroke-width="1.2"/><line x1="887.1" y1="1790.5" x2="877.9" y2="1778.7" stroke-width="1.2"/><line x1="888.8" y1="1789.5" x2="884.5" y2="1781.5" stroke-width="1.2"/><line x1="890.6" y1="1788.7" x2="885.7" y2="1774.5" stroke-width="1.2"/><line x1="892.5" y1="1788.2" x2="891.0" y2="1779.3" stroke-width="1.2"/><line x1="894.5" y1="1788.0" x2="894.5" y2="1773.0" stroke-width="1.2"/><line x1="896.5" y1="1788.2" x2="898.0" y2="1779.3" stroke-width="1.2"/><line x1="898.4" y1="1788.7" x2="903.3" y2="1774.5" stroke-width="1.2"/><line x1="900.2" y1="1789.5" x2="904.5" y2="1781.5" stroke-width="1.2"/><line x1="901.9" y1="1790.5" x2="911.1" y2="1778.7" stroke-width="1.2"/><line x1="903.3" y1="1791.9" x2="910.0" y2="1785.8" stroke-width="1.2"/><line x1="904.6" y1="1793.5" x2="917.1" y2="1785.3" stroke-width="1.2"/><line x1="905.5" y1="1795.2" x2="913.8" y2="1791.6" stroke-width="1.2"/><line x1="906.1" y1="1797.1" x2="920.7" y2="1793.5" stroke-width="1.2"/><line x1="906.5" y1="1799.1" x2="915.4" y2="1798.4" stroke-width="1.2"/><path d="M883.5 1802.0a11 11 0 0 1 22 0z" fill="#e6e6e6" stroke-width="1.3"/><line x1="875.9" y1="1815.0" x2="913.1" y2="1815.0" stroke-width="1"/><line x1="873.3" y1="1820.0" x2="915.7" y2="1820.0" stroke-width="1"/><line x1="871.5" y1="1825.0" x2="917.5" y2="1825.0" stroke-width="1"/><line x1="870.3" y1="1830.0" x2="918.7" y2="1830.0" stroke-width="1"/><line x1="869.7" y1="1835.0" x2="919.3" y2="1835.0" stroke-width="1"/><line x1="869.5" y1="1840.0" x2="919.5" y2="1840.0" stroke-width="1"/><line x1="869.8" y1="1845.0" x2="919.2" y2="1845.0" stroke-width="1"/><line x1="894.5" y1="1825.0" x2="894.5" y2="1867.0" stroke-width="1.8"/><path d="M885.5 1827.0q2 -14 12 -12q10 3 4 12q-8 6 -16 0z" fill="#e6e6e6" stroke-width="1.5"/><path d="M870.5 1854.0q12 -10 24 -2q12 -8 25 2" stroke-width="1.3"/><path d="M882.5 1859.0l12 -7 12 7" stroke-width="1.5"/><path d="M887.5 1883.0h14v6h-14z" fill="#2b3358"/><path d="M889.5 1887.0l-10 10M899.5 1887.0l10 10" stroke-width="3"/></g>
<text x="946.0" y="1827" font-size="28" font-weight="bold" font-family="Liberation Serif,serif" fill="#2b3358" textLength="132" lengthAdjust="spacingAndGlyphs">Ministerio</text>
<text x="946.0" y="1853.5" font-size="28" font-weight="bold" font-family="Liberation Serif,serif" fill="#2b3358" textLength="163" lengthAdjust="spacingAndGlyphs">de Economía</text>
<text x="947.0" y="1873.5" font-size="16.5" font-family="Liberation Serif,serif" fill="#2b3358" textLength="151" lengthAdjust="spacingAndGlyphs">República Argentina</text>
</g></svg></body></html>
